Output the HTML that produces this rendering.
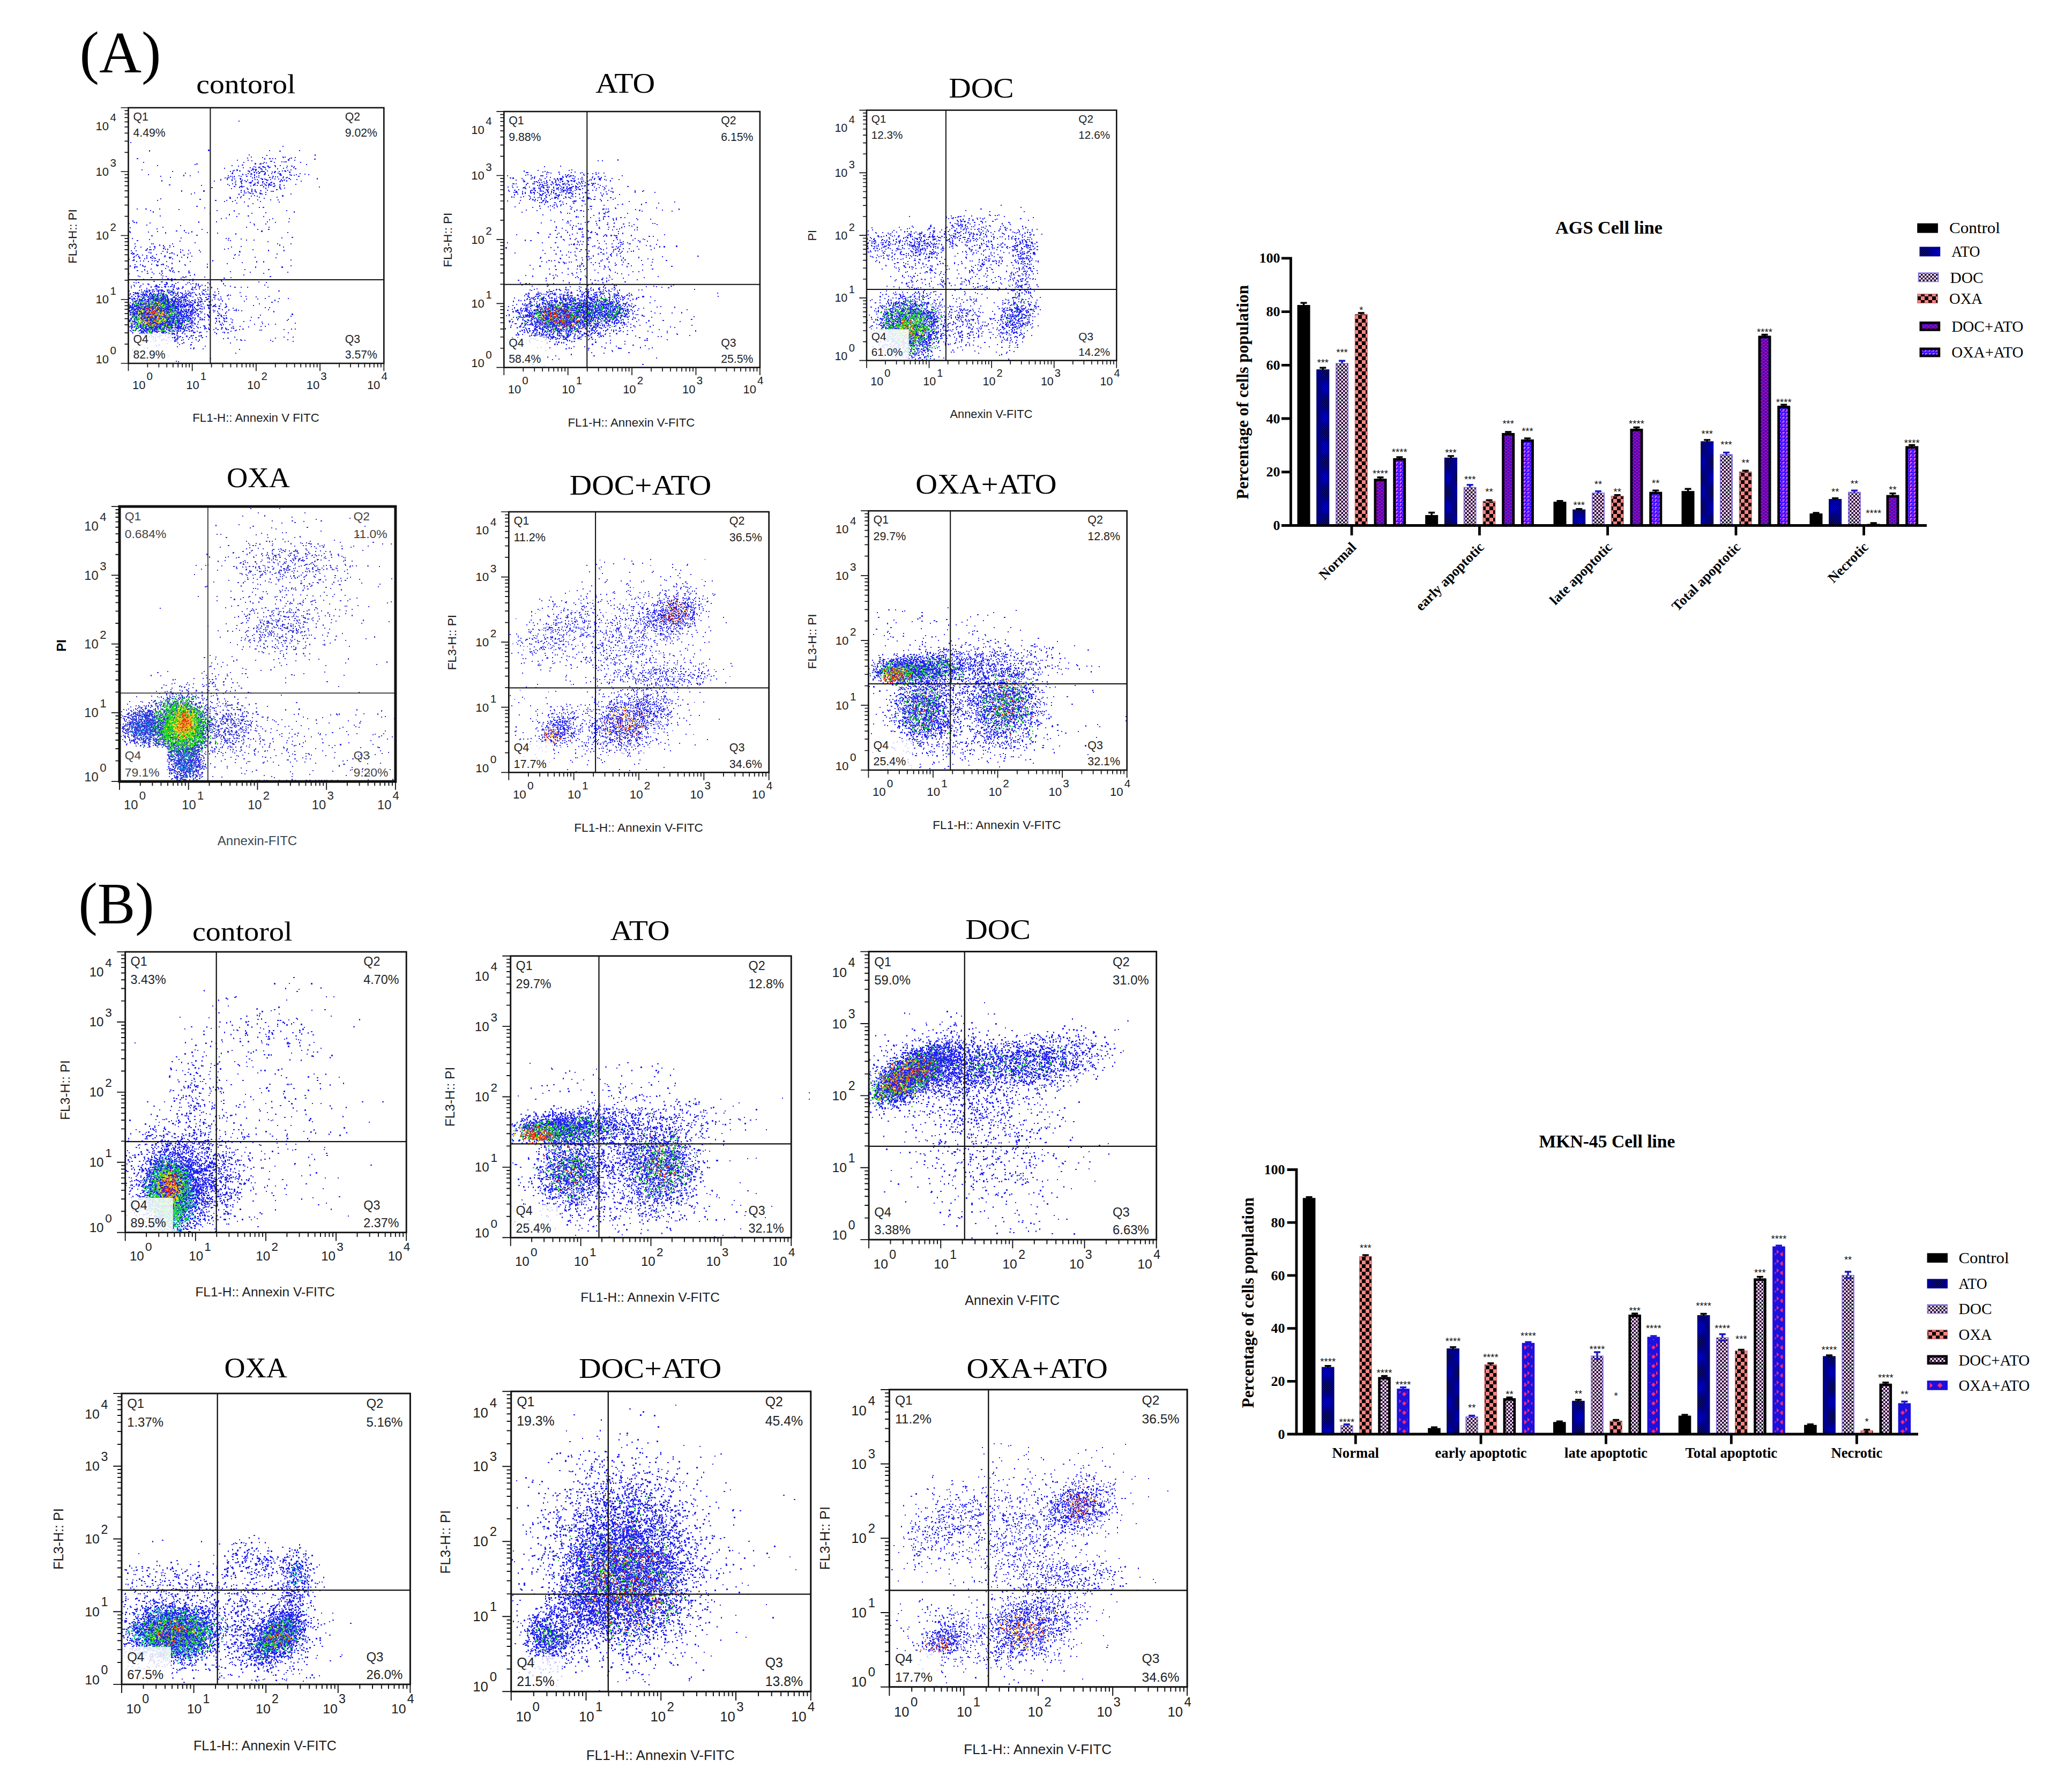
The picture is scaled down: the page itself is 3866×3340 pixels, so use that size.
<!DOCTYPE html>
<html><head><meta charset="utf-8"><title>Figure</title>
<style>html,body{margin:0;padding:0;background:#fff}svg{display:block}</style></head>
<body><svg width="3866" height="3340" viewBox="0 0 3866 3340">
<rect width="3866" height="3340" fill="#fff"/>
<defs><path vector-effect="non-scaling-stroke" fill="none" stroke-linecap="square" shape-rendering="crispEdges" id="g0" d="M-169 -174h0m158 92h0m-34-14h0m-17 22h0m39 42h0m-11 21h0m-59-10h0m4-26h0m-112 15h0m135 204h0m-101-86h0m86-62h0m29 98h0m26-71h0m89-26h0m-24-6h0m12 31h0m-20-11h0m25 81h0m55-78h0m-7-17h0m-99 106h0m26-136h0m21-59h0m-9-85h0"/>
<path vector-effect="non-scaling-stroke" fill="none" stroke-linecap="square" shape-rendering="crispEdges" id="g1" d="M-190 -252h0m145 126h0m2 89h0m28 7h0m-51-11h0m-31-12h0m-41 40h0m-59-50h0m66 224h0m-26-33h0m11-45h0m0-59h0m34 0h0m33 39h0m-33 35h0m24-3h0m45-29h0m25 36h0m17-10h0m-33-53h0m16-11h0m53-14h0m22-14h0m-17 24h0m12 31h0m-27-12h0m-10 15h0m-3 57h0m20-50h0m35 30h0m46-9h0m-17-33h0m-20 4h0m28-54h0m6 13h0m34 42h0m15 4h0m-15-26h0m57-4h0m-61-135h0m7 59h0m-97 38h0m5-9h0m7-46h0m-26-13h0m90-53h0m-42-54h0m-72 51h0m172-126h0m-55 53h0"/>
<path vector-effect="non-scaling-stroke" fill="none" stroke-linecap="square" shape-rendering="crispEdges" id="g2" d="M-153 -151h0m89-43h0m-39 47h0m18 63h0m-5 7h0m50-20h0m20-29h0m10 66h0m-20 13h0m27 27h0m-16 17h0m-4-3h0m-32-4h0m-36 1h0m-11-27h0m-21 35h0m-30-11h0m-17-23h0m5-25h0m9-4h0m16-3h0m-48-41h0m-35 20h0m-7 49h0m-43-10h0m264 202h0m-80 3h0m-108-15h0m12-59h0m-11 25h0m2-4h0m-42-70h0m118 3h0m44 66h0m7-14h0m-26-19h0m37 38h0m50-3h0m-1-9h0m6-12h0m-6-31h0m-27 10h0m-25-39h0m44-4h0m27-7h0m17 6h0m11 23h0m22 7h0m-49 23h0m9-7h0m7 19h0m-28-2h0m17 38h0m35-19h0m3-10h0m22-15h0m23 4h0m26-4h0m-60-42h0m13-19h0m9-4h0m79 33h0m11-39h0m64 32h0m-31 68h0m-79-38h0m0 115h0m16-20h0m-35-12h0m-28 0h0m4-18h0m-13 28h0m-69-26h0m39 109h0m220-128h0m8-229h0m-125 13h0m-3 8h0m42 82h0m-44-6h0m-3-8h0m-43 8h0m6-11h0m-13-28h0m-20 29h0m19 1h0m-62-19h0m-1-6h0m4-9h0m29-35h0m-29 26h0m-32-44h0m17-4h0m84 1h0m8-28h0m-41-4h0m-23-59h0m149 32h0m-85-92h0m-45 9h0"/>
<path vector-effect="non-scaling-stroke" fill="none" stroke-linecap="square" shape-rendering="crispEdges" id="g3" d="M-38 -344h0m21 72h0m-91 9h0m-43 101h0m27-48h0m11 12h0m69-3h0m25 19h0m-4 40h0m-15 5h0m-25-3h0m-9 5h0m-30-1h0m-17 1h0m18 18h0m-5 9h0m93-18h0m1 17h0m8 24h0m-2 9h0m-3 9h0m-38-3h0m10-4h0m-13-10h0m-2 17h0m25 6h0m2 30h0m5 0h0m14 0h0m5 6h0m-11 16h0m10 8h0m-12-6h0m-51 3h0m-3 2h0m-5-10h0m-21-23h0m-11-28h0m-6 51h0m-13 10h0m-17-1h0m10-17h0m-19-1h0m-40 16h0m59-46h0m-52-56h0m-6 18h0m-27 14h0m195 330h0m-31-27h0m4-71h0m-29 18h0m-27-17h0m35 79h0m-109-93h0m3 35h0m-15-173h0m40 14h0m0-18h0m33 17h0m19-15h0m28-3h0m-5 24h0m-12 1h0m6 0h0m-9-10h0m22 21h0m-8 15h0m8 5h0m3 6h0m-39 0h0m-18-29h0m54 47h0m-25-7h0m5-10h0m19 8h0m6-8h0m29 23h0m-21 2h0m20 16h0m5 2h0m13-16h0m-15-12h0m8-10h0m9 4h0m5 2h0m8-15h0m-4-8h0m-18-15h0m-30 9h0m2-29h0m3-6h0m-15-9h0m1-2h0m41 2h0m11 14h0m4 15h0m2 0h0m-2-11h0m-1-19h0m12 6h0m-4 11h0m3 7h0m1 1h0m16-1h0m9 0h0m-8-19h0m29 12h0m-4 20h0m-1-1h0m8 18h0m-7 6h0m-17-9h0m-14-11h0m-15 38h0m5-2h0m2-2h0m10 27h0m25 3h0m-6 8h0m24-22h0m1-11h0m2-10h0m-5 1h0m20 23h0m-1 1h0m8-41h0m-15-19h0m23 2h0m-20-8h0m2 2h0m-11-10h0m14-19h0m20-1h0m12 11h0m6-9h0m38 29h0m15 11h0m14 9h0m-16-50h0m-2 95h0m5 2h0m12-18h0m-34-10h0m2 45h0m2-3h0m-60 102h0m-60-87h0m-2 38h0m-5 57h0m0-11h0m32-2h0m3 24h0m-51 26h0m53 3h0m217-450h0m-47 155h0m-66-92h0m-29 2h0m4 52h0m-2 33h0m12-1h0m-2-19h0m37 2h0m-53 54h0m-9-21h0m-6-24h0m-37 9h0m-14-11h0m18 32h0m-8 4h0m-3-1h0m-17 8h0m-6-5h0m-2-4h0m2-2h0m-8-3h0m4-4h0m-32 8h0m12-28h0m18-10h0m7 12h0m-21-25h0m-26-17h0m-5-20h0m45 6h0m6-11h0m34 32h0m5 7h0m19-19h0m9-14h0m-16-6h0m-12-67h0m-41 16h0m-1 2h0m-46 13h0m13 6h0m-15-8h0m63-30h0m49-62h0"/>
<path vector-effect="non-scaling-stroke" fill="none" stroke-linecap="square" shape-rendering="crispEdges" id="g4" d="M-139 -170h0m-45-51h0m43-18h0m37 33h0m9-5h0m86-29h0m5 26h0m2 20h0m-34-9h0m2-8h0m-30 24h0m8 3h0m-1 18h0m36-17h0m3 11h0m-10 35h0m-25-17h0m3 21h0m-36-7h0m21-42h0m-26-10h0m-6 27h0m-7-20h0m4 39h0m-16 15h0m-8-8h0m19 27h0m-4 9h0m-18 27h0m13-3h0m12 5h0m21-6h0m2 9h0m5 0h0m9 3h0m-4-5h0m3-13h0m-3 1h0m-6 3h0m-18-26h0m52-2h0m4-2h0m26 6h0m5-4h0m3-2h0m-24 7h0m25 16h0m-3 23h0m-4-1h0m-10-9h0m-32-4h0m-11 9h0m2 10h0m4 0h0m4 6h0m-5 19h0m18-19h0m-3-8h0m14 5h0m2 14h0m-2 10h0m1 3h0m26 0h0m-11 14h0m0 4h0m-17 11h0m-4 0h0m-16-13h0m-10 7h0m-13 5h0m4-13h0m-12 14h0m-8-1h0m14-24h0m-4-10h0m0-5h0m8-14h0m-18 17h0m2 4h0m-15 0h0m3 24h0m1 9h0m-18-6h0m-28 2h0m1-5h0m-27-16h0m7-5h0m-2-1h0m10-8h0m5-34h0m14-35h0m-46 10h0m-12 51h0m-19 32h0m-13 14h0m-1-27h0m-45 19h0m0 28h0m255 222h0m5-66h0m-1-15h0m8-23h0m-10 8h0m-18 12h0m-22-25h0m-31 13h0m-4-15h0m-19 27h0m-1-24h0m-12 9h0m6 6h0m10 23h0m17 62h0m-40 18h0m-9-1h0m-111-58h0m42-60h0m50 31h0m5-18h0m-9-34h0m5-12h0m12 8h0m11 1h0m-4-13h0m0-19h0m5-8h0m-28 1h0m-5 18h0m-28-7h0m20 37h0m-78-102h0m72-3h0m-5 19h0m-5 7h0m40 26h0m31-56h0m-9 19h0m0 1h0m53-21h0m-9 12h0m13 27h0m-13 14h0m-30 2h0m6-10h0m8 1h0m-3-16h0m-27 27h0m12 2h0m16 13h0m14 37h0m21-33h0m-11 4h0m-6 1h0m8-12h0m15-9h0m7 7h0m10-4h0m9 5h0m-10 3h0m3 10h0m-4 9h0m-5 24h0m9 8h0m3-19h0m22-8h0m-16-21h0m16-11h0m0 6h0m10-1h0m1-31h0m-27 4h0m5 16h0m-5-5h0m-12-7h0m-4 13h0m-11-13h0m4 4h0m0-11h0m-10 2h0m3-4h0m-2-7h0m30 13h0m-24-18h0m-1-7h0m-3-6h0m6-5h0m-3 3h0m11-6h0m14-4h0m-2-2h0m14 25h0m1-10h0m18-11h0m5 22h0m11-10h0m6-1h0m9-12h0m6 3h0m27 7h0m-6-3h0m-13 6h0m-6 9h0m10 17h0m-2-11h0m8 9h0m-5 11h0m6 0h0m-11-1h0m-10-4h0m-16 1h0m-16-12h0m6 10h0m-2 8h0m-3 2h0m-1 18h0m29 4h0m-9-4h0m-1 0h0m-1 19h0m-18-5h0m9 14h0m1 8h0m0 2h0m15-9h0m-6-5h0m27 8h0m5-13h0m-19-5h0m17-24h0m23 12h0m5 2h0m12-6h0m2 8h0m-6 25h0m33 20h0m-1-45h0m-8 10h0m-5-13h0m-8-11h0m21 7h0m4-20h0m2-21h0m-6 1h0m-10 0h0m-17 25h0m-6 1h0m-6-1h0m-5-1h0m11-21h0m-4-16h0m-1 5h0m-4-16h0m-11-7h0m2-2h0m22 5h0m5-4h0m10 7h0m-3 11h0m21 10h0m2-3h0m2-15h0m0-2h0m-10-7h0m28 7h0m-7 10h0m-2 4h0m20 16h0m7 22h0m-2-59h0m8 1h0m25 4h0m-1 0h0m23 0h0m31 10h0m-46 45h0m-6 40h0m-10-22h0m-8-15h0m-22 20h0m2 90h0m24-33h0m25 10h0m2 48h0m42-9h0m-125 7h0m-20-16h0m15-13h0m1-24h0m-12 13h0m-22-6h0m7-5h0m-13-16h0m-45 44h0m19-18h0m-4-13h0m10-12h0m-13 1h0m-4-4h0m-10 6h0m5 11h0m-17-16h0m5 31h0m-8 10h0m-16 44h0m13 2h0m24 37h0m59 10h0m141-332h0m16-28h0m-49-28h0m-29 38h0m-32-13h0m1-2h0m-12 64h0m16-27h0m10 38h0m17 7h0m-47-4h0m1 14h0m-16-19h0m-2-17h0m1-1h0m-27 4h0m2-3h0m0-14h0m-24-3h0m-1 12h0m4 12h0m0 22h0m-2 0h0m-14-1h0m5-12h0m-5-2h0m0 10h0m-19-7h0m5 17h0m7-6h0m1 13h0m-25-13h0m-1 1h0m-3 0h0m4 7h0m-8-4h0m-12-16h0m2-1h0m25-4h0m-2-10h0m-18 3h0m-6-19h0m20 8h0m4-4h0m1 2h0m3-3h0m-6-1h0m23-7h0m8 15h0m-7-41h0m-1 9h0m0-15h0m-8 22h0m6 4h0m-13 1h0m-9-6h0m-7 6h0m-13 1h0m14-30h0m12-20h0m6-3h0m23 14h0m33-14h0m-8 9h0m-10 31h0m22-2h0m-6-8h0m7 22h0m19-10h0m8 8h0m-2-55h0m-16-23h0m14-38h0m-30-4h0m-12 24h0m-1 13h0m-24 22h0m0-4h0m1-19h0m-21 0h0m1 0h0m-14 25h0m-16-14h0m20-9h0m-8-20h0m30-13h0m10-38h0m33-22h0m133 48h0m1-56h0m-14-7h0m-187-14h0"/>
<path vector-effect="non-scaling-stroke" fill="none" stroke-linecap="square" shape-rendering="crispEdges" id="g5" d="M-104 -264h0m-93 135h0m-6-23h0m40-16h0m-15 25h0m33 13h0m15-19h0m-17-32h0m-12-13h0m-17-38h0m88 29h0m62-53h0m7 14h0m2 17h0m-26 23h0m-11 23h0m1 6h0m12 8h0m-4-27h0m32 4h0m10 0h0m-9 24h0m-4 7h0m-24 13h0m-15 9h0m-24-9h0m-17-4h0m17-21h0m12 0h0m-27 7h0m-15 48h0m-10 12h0m-2-3h0m3 11h0m14 0h0m18 3h0m-5 17h0m0 9h0m6-8h0m9-6h0m5 3h0m-6-24h0m-16 1h0m-2-6h0m34-18h0m7 8h0m0 6h0m7 11h0m10-5h0m-8-24h0m16 3h0m10-1h0m11 6h0m4 21h0m-7-4h0m-13 5h0m-4-5h0m-2 19h0m10 2h0m0-10h0m8 9h0m-2 0h0m-2 3h0m0 4h0m2 2h0m10-4h0m-10 8h0m-6 2h0m-4-5h0m3-3h0m-14 7h0m0-4h0m-3 2h0m-9-8h0m-1-2h0m9 1h0m2 3h0m-2-6h0m5-12h0m-5 3h0m-4 1h0m-5 3h0m7 0h0m-14-9h0m-5 14h0m6 2h0m3 13h0m-9-2h0m-1-1h0m-3 0h0m14 9h0m-5 9h0m-8 8h0m9 1h0m13-5h0m-3 2h0m6 6h0m-2-13h0m-3-1h0m-1-8h0m11 4h0m-1-2h0m5-3h0m6 8h0m2-8h0m5-1h0m3 0h0m6 0h0m6 4h0m-13 15h0m9 3h0m-1 9h0m-12-7h0m-1 18h0m9-4h0m5-3h0m-2 15h0m4-1h0m2 8h0m-11 4h0m-8 1h0m0-3h0m-5-11h0m-12 9h0m-11 3h0m12-16h0m-1-1h0m2-1h0m2-2h0m-3-4h0m-10 9h0m-3-5h0m-11 2h0m5 10h0m-17 10h0m-1-8h0m-2-5h0m2 13h0m-23-19h0m23 0h0m2-8h0m0-3h0m-1-3h0m-4 1h0m-3-2h0m2 0h0m8-15h0m-3-2h0m-4-8h0m1 8h0m-7-5h0m-8-5h0m-4 18h0m2-1h0m11 0h0m-4 10h0m-7-4h0m-17-1h0m1-6h0m0-9h0m-20-1h0m7 23h0m0 16h0m5-1h0m19-13h0m-11 22h0m2-4h0m2 4h0m-9-6h0m-7 3h0m2 4h0m-5-1h0m-2 0h0m-11-13h0m7-9h0m-57 18h0m2-12h0m3-9h0m12-24h0m-3 5h0m11 4h0m2-14h0m9 15h0m12-1h0m7-12h0m-10-30h0m4-26h0m-22-2h0m-8 12h0m-4-19h0m-11 28h0m-5-3h0m3 10h0m-5 21h0m-31-55h0m-27 82h0m12 9h0m16-25h0m16 58h0m-132-65h0m-12-19h0m88-57h0m-12-35h0m-13 252h0m25 37h0m-11 97h0m137 60h0m37 39h0m32-18h0m57-31h0m-56-60h0m43 20h0m19-34h0m-21-14h0m17-3h0m-9-23h0m10-7h0m-2-8h0m-4 0h0m-21 15h0m-7 4h0m-11-12h0m-15-3h0m3 17h0m8-6h0m4 21h0m-7-5h0m-18 30h0m-9-2h0m6-41h0m9-5h0m-28-14h0m4 15h0m0 16h0m-15-24h0m-4-1h0m-4 39h0m-4 16h0m22 4h0m7 4h0m5 0h0m-22 48h0m-37-49h0m-48 58h0m-10-23h0m-33-100h0m46 14h0m9 31h0m41-48h0m10 10h0m-3-22h0m-17-23h0m-29-27h0m-7 8h0m4 14h0m-8 3h0m26 25h0m-26 4h0m-8-22h0m-51-6h0m41-57h0m-18 22h0m-9 6h0m-22-60h0m12 4h0m34 12h0m33 5h0m0-7h0m25 43h0m13 0h0m0-4h0m10-4h0m-1-1h0m-9-16h0m10-9h0m-3-6h0m-12 2h0m-14 5h0m31-25h0m9 2h0m0 1h0m-9 4h0m5 22h0m14-5h0m0-26h0m13 11h0m14 1h0m15 3h0m-11 8h0m-10 4h0m-7 4h0m5 3h0m18 18h0m5 7h0m-5 2h0m-35 1h0m-2-10h0m0-4h0m4-16h0m-2 1h0m-2 10h0m-5-3h0m-4 22h0m-8 15h0m4 2h0m14-9h0m8-1h0m-5 6h0m6 6h0m-1 6h0m0 2h0m-24 24h0m20-7h0m-6 0h0m-1-9h0m17 0h0m5 0h0m4 1h0m0 7h0m-10 4h0m4 11h0m23-1h0m-4-26h0m-5-3h0m-10 3h0m-5 2h0m11-28h0m5-3h0m12 2h0m30 1h0m-24 24h0m-2 10h0m9-2h0m-1 1h0m13 24h0m-6-28h0m10 3h0m6-1h0m7 2h0m-10 4h0m14 12h0m8 9h0m1-19h0m-5 5h0m2-9h0m8-9h0m-15-5h0m-14 5h0m5-12h0m9-8h0m-10-4h0m1-3h0m17 1h0m7 0h0m-6-5h0m0-12h0m7 1h0m1-6h0m-7-2h0m5-5h0m-8-3h0m-7-1h0m-6 1h0m3 4h0m-8 7h0m-3-2h0m1 4h0m11 2h0m-10 7h0m-10-7h0m-4 2h0m-1 8h0m-8 2h0m0-10h0m2 3h0m-6-20h0m3 4h0m13-1h0m-7 0h0m8 6h0m0 2h0m0-22h0m7 3h0m0-6h0m-10-1h0m-3-4h0m1 14h0m-2 0h0m-13-6h0m1 2h0m3-7h0m5-3h0m-7-7h0m-2-2h0m11-7h0m8 13h0m6-10h0m17-2h0m-12 20h0m9 1h0m-2-5h0m13 1h0m3 11h0m6-1h0m0-6h0m-6-1h0m-7-8h0m5-2h0m-7-7h0m13 0h0m7 1h0m6-5h0m5 6h0m-2 0h0m-4 4h0m4 4h0m-3 0h0m-8 13h0m-2 3h0m2-1h0m3-1h0m6-3h0m2-4h0m5 3h0m2 7h0m8-15h0m-4-1h0m-8-2h0m12-6h0m3-5h0m13 6h0m10-1h0m-1 2h0m-4 3h0m0 2h0m4 5h0m1-3h0m5 6h0m-4 8h0m-17-10h0m0 17h0m4 3h0m8-5h0m-1 1h0m6 9h0m-7-3h0m4 6h0m10 6h0m-8 5h0m-11 4h0m-6-13h0m-2 7h0m-11 2h0m0 2h0m-5-1h0m12-14h0m-13-14h0m1 10h0m-3 5h0m-2-7h0m-3-5h0m-5-1h0m-5 21h0m3 0h0m6-1h0m-7 8h0m0 11h0m3 1h0m6 1h0m-4-8h0m21 9h0m-10 6h0m-14 8h0m-1 9h0m4-3h0m-8 9h0m21 13h0m6 9h0m4-27h0m7 2h0m4-4h0m-2 26h0m7-9h0m3 2h0m7-16h0m-11-18h0m-4-6h0m-8 1h0m4-9h0m2-1h0m6 3h0m0-2h0m-2-3h0m7 9h0m18-8h0m21 6h0m1 5h0m-7 1h0m-14 5h0m0-4h0m8 24h0m2-1h0m1-3h0m31 13h0m3-4h0m12-7h0m-16-14h0m-13 4h0m2-11h0m7-15h0m19 9h0m-6-28h0m2-3h0m-7-12h0m-1 8h0m-4 4h0m-13-7h0m8 11h0m-26 8h0m-4 1h0m-5-3h0m-2-6h0m11-7h0m-13 3h0m18-10h0m8 4h0m-4-4h0m-4-13h0m-9 9h0m-3-8h0m-8-11h0m14-10h0m7 1h0m8 5h0m6 2h0m22-5h0m10 1h0m3 10h0m0-2h0m18-8h0m-8 8h0m4 15h0m-16-7h0m3 19h0m-3 18h0m14-6h0m18 1h0m19-3h0m-13-20h0m-4-29h0m36 8h0m18 4h0m3 38h0m-25 20h0m1 3h0m52 26h0m-75 27h0m-4-21h0m16-30h0m-25 10h0m-9 9h0m-17-15h0m14 33h0m-13 2h0m-2-1h0m-2 17h0m18-2h0m36 51h0m-3-7h0m-20-27h0m8 2h0m15-16h0m21 50h0m-2-7h0m-143 62h0m36-65h0m10-6h0m14-6h0m-14-19h0m-12-10h0m-12 22h0m-4-9h0m13-11h0m-8-3h0m-7-1h0m-8 1h0m-6 7h0m0 4h0m7 14h0m1 19h0m2-6h0m11-4h0m-1 11h0m-35-16h0m-3-9h0m3-3h0m5-16h0m-37-2h0m4 7h0m-9 4h0m3 36h0m28 31h0m7-6h0m3 14h0m-12 14h0m14 27h0m241-192h0m6-26h0m-2-104h0m-74 63h0m-13-36h0m10-22h0m-47-22h0m-2-17h0m2-24h0m-41 26h0m8 4h0m6 11h0m-12 18h0m1 8h0m-9 2h0m1 7h0m3 15h0m23-8h0m7-18h0m-4 3h0m9 23h0m17 6h0m-2 2h0m-25 16h0m6 1h0m-11-20h0m-15 1h0m-12 11h0m-11 3h0m-4-1h0m-16 12h0m16-24h0m12-6h0m-9-1h0m-4 0h0m4-30h0m-1 5h0m-5 4h0m-14-7h0m13 28h0m-10-2h0m-10 0h0m-5 0h0m2-2h0m-5-8h0m14-8h0m-30 5h0m13 5h0m-12 13h0m-1 13h0m13-8h0m4 10h0m10 13h0m-20-3h0m-2-9h0m-9-18h0m-3 2h0m-11 7h0m-2-4h0m-11 24h0m-8 2h0m0-2h0m-10-2h0m2 3h0m-12-5h0m-4-23h0m6 4h0m8 0h0m4 8h0m0-4h0m7 1h0m0 4h0m4-3h0m-4-25h0m-6-2h0m-4 10h0m5-1h0m-9 5h0m-7-1h0m-1-9h0m-5 1h0m2-1h0m1-4h0m1 1h0m4-8h0m-6 5h0m1-8h0m11 0h0m6 2h0m16 18h0m5-11h0m8 14h0m11-3h0m-12-19h0m7-1h0m-1-1h0m-1-18h0m-5 0h0m8-7h0m-1-5h0m-23 2h0m3 0h0m-1 2h0m0 6h0m6 0h0m5 7h0m-16 3h0m0-8h0m-19 4h0m3-1h0m1-12h0m-3-3h0m4-2h0m-1-4h0m10-8h0m5-5h0m-10 3h0m-15 6h0m3-15h0m33-2h0m-5 10h0m6 8h0m11-12h0m-2 7h0m10-4h0m-10-16h0m-2 0h0m25 6h0m4-2h0m6 10h0m-10-3h0m-4-1h0m0 2h0m-4 7h0m7 8h0m5 9h0m-3 8h0m6 10h0m11-12h0m-3-8h0m1-5h0m18 3h0m-10 10h0m10 2h0m9 4h0m5 9h0m5-5h0m-5-24h0m-1-15h0m-24 11h0m5-3h0m7-15h0m4 3h0m8-11h0m-12-22h0m-11 0h0m9-13h0m-7-28h0m7 22h0m3-3h0m-25-23h0m-3 8h0m-4 5h0m-1-8h0m-1-4h0m2 32h0m10 9h0m-7 5h0m-14 2h0m-30-11h0m-2 0h0m2 19h0m-23 2h0m-5-11h0m13-27h0m-19-16h0m17-2h0m26-1h0m12-6h0m-23-24h0m9 20h0m-36-38h0m69 44h0m-2-15h0m34-1h0m0-25h0m72 31h0m-51 15h0m11 32h0m7 22h0m52-1h0m14-110h0m-82-30h0m-92 2h0"/>
<path vector-effect="non-scaling-stroke" fill="none" stroke-linecap="square" shape-rendering="crispEdges" id="g6" d="M-64 -296h0m26 36h0m-84-35h0m-102 29h0m-17 137h0m16-28h0m12 5h0m-5-20h0m45 42h0m5-3h0m5-2h0m1-7h0m14-5h0m15-32h0m-28-27h0m39-37h0m25 0h0m-27 9h0m-1 5h0m33 20h0m7 16h0m17-40h0m-16-13h0m11-4h0m-6 1h0m26 2h0m-7 13h0m37-9h0m9 17h0m8 22h0m4 6h0m-22 5h0m-34-30h0m-5 0h0m13 17h0m-7 41h0m17-2h0m6 4h0m-5-8h0m-8-8h0m28 2h0m11-8h0m4 18h0m-19 1h0m-7 2h0m-2 5h0m5 2h0m10-2h0m10 0h0m0 1h0m2 29h0m-12-1h0m-1-14h0m-7 5h0m-12 3h0m-2 4h0m1-16h0m1-9h0m0 4h0m-17-2h0m-8 10h0m1 3h0m2 1h0m10 0h0m-15 11h0m-5-3h0m0-8h0m-5 1h0m-2 7h0m-12-13h0m-8-8h0m12-4h0m4-7h0m2-13h0m-4 1h0m-9 11h0m-7 3h0m-7-11h0m1 5h0m0-19h0m-18 23h0m7 15h0m6-6h0m2 12h0m-6 12h0m-13-9h0m3 9h0m13 9h0m7 5h0m5 0h0m-4 4h0m0-2h0m-8-1h0m0 8h0m11 8h0m-14-3h0m-13 15h0m11 0h0m-12 8h0m4 2h0m11 12h0m7-1h0m3-4h0m5-13h0m9-9h0m5 1h0m1 1h0m-2 2h0m-12 19h0m9 3h0m6-12h0m1 0h0m14 8h0m-5-16h0m-5 2h0m4-8h0m4-5h0m-1 0h0m2-11h0m-1 1h0m-4-3h0m-3 6h0m2-5h0m-21 13h0m5-13h0m-1-6h0m0-6h0m5-1h0m4 2h0m4-4h0m12 12h0m13-3h0m-3 4h0m-1 11h0m3-3h0m13 4h0m7-2h0m-2-3h0m-5 0h0m4-9h0m-11 1h0m1-11h0m-2-1h0m8 0h0m14 6h0m7-5h0m12 1h0m-7 19h0m3 7h0m-17-8h0m0-5h0m8 21h0m8-1h0m3-3h0m-7 11h0m1 4h0m4 3h0m0-2h0m-1-1h0m10 6h0m-6 2h0m3 2h0m1 3h0m-3-2h0m-2 2h0m-3-2h0m2-3h0m-5 0h0m-12-2h0m0 1h0m-12 1h0m0-1h0m-2 6h0m-5-1h0m0-5h0m11-20h0m1-3h0m-2 2h0m-19 12h0m-1-4h0m4-8h0m-5 11h0m-3 0h0m-3 8h0m0 8h0m0 9h0m1-1h0m1 1h0m4 0h0m6-6h0m-2 6h0m4 2h0m-15 1h0m1 11h0m-1 8h0m4-2h0m4 2h0m4-1h0m3-8h0m-3 0h0m1-4h0m5 2h0m4 1h0m-5 5h0m11 4h0m0-1h0m3-6h0m-1-6h0m1-5h0m0-1h0m-7 0h0m2 5h0m-2-9h0m5 0h0m2 0h0m-1-3h0m-1 0h0m4 11h0m6-1h0m-2-1h0m6-1h0m-2 1h0m6-7h0m13-1h0m2 7h0m-1 1h0m-2 1h0m-5 4h0m2 0h0m6 3h0m-3 2h0m-1-1h0m1 5h0m0 6h0m-7-2h0m3 0h0m-3-2h0m-11 0h0m2-7h0m-6 5h0m0 14h0m-2 4h0m9 4h0m0-7h0m2-3h0m4-3h0m9 6h0m4 2h0m-10-2h0m10 18h0m-9 1h0m-2-1h0m-2-2h0m-13-6h0m-21 7h0m6-9h0m7-16h0m-12 1h0m5 7h0m0 3h0m-10 1h0m1 3h0m-3-4h0m4-11h0m-10 7h0m3-2h0m-7-4h0m1 2h0m0 3h0m-1 4h0m7 13h0m3 3h0m4 4h0m-6-1h0m-1 0h0m0-2h0m-5-1h0m1 2h0m-18-12h0m-4 12h0m1-4h0m-5 3h0m-9 1h0m2-9h0m6 4h0m4-3h0m1 3h0m2-6h0m-7-7h0m1 4h0m-7-4h0m0-3h0m-1-3h0m1-2h0m11 4h0m3 3h0m2 4h0m10 2h0m-3-12h0m-2-4h0m-3-10h0m4 0h0m6-7h0m1-8h0m-22 7h0m-3-7h0m-2-5h0m-2 9h0m0-2h0m4 1h0m7 7h0m2 12h0m0 1h0m-15 1h0m-9 1h0m-5-13h0m13-4h0m-6-8h0m-6 7h0m-5-7h0m-14 14h0m9 20h0m-1-5h0m15 4h0m8-6h0m-3 2h0m0 8h0m-9 7h0m2 3h0m3-2h0m6 3h0m-6 3h0m7 0h0m-7 4h0m-3-5h0m-11 1h0m2-1h0m2-5h0m-25 11h0m6-8h0m2-8h0m-1-12h0m-2 5h0m-6-4h0m-2 1h0m-7 7h0m0-1h0m-3-9h0m-7 27h0m-17-4h0m5 6h0m-19-2h0m7-23h0m9-37h0m3 3h0m-3 5h0m0 4h0m7-4h0m21-4h0m-8 9h0m-6-5h0m0 4h0m3 19h0m27-11h0m-9-5h0m0-5h0m-5-3h0m14-7h0m-9-16h0m1 15h0m-8-4h0m-7 1h0m-3-9h0m3-18h0m24-21h0m-20 3h0m4 14h0m-4-1h0m-9 1h0m-2 1h0m-3-17h0m-23 18h0m19 12h0m2 4h0m-49 10h0m19-26h0m-10-21h0m-24 62h0m34 53h0m-15 1h0m-4-1h0m-18-13h0m-2-2h0m-9 0h0m-67 33h0m10 40h0m8-16h0m29 53h0m-30 23h0m246 158h0m10-51h0m-3-1h0m-4 1h0m-7-10h0m28-7h0m-3 1h0m-2 4h0m18 7h0m8-26h0m-3-3h0m-3-5h0m-6-6h0m-13 12h0m-2 2h0m3-15h0m5-4h0m-4-3h0m-7-7h0m22 2h0m0 3h0m-5-10h0m7-9h0m-3-11h0m-11 5h0m-26 11h0m7-1h0m-11-20h0m-3-3h0m-4 11h0m-5 6h0m14 4h0m-27 39h0m-16-18h0m2-1h0m-3-3h0m2-6h0m22-8h0m4-25h0m-9 3h0m-2 12h0m-16-10h0m0 15h0m5-2h0m7 5h0m-30-5h0m9 2h0m3-4h0m0-7h0m2-5h0m-9-2h0m-11 23h0m-7 9h0m-4 32h0m46 57h0m-24-2h0m-27-11h0m4-35h0m-5-4h0m-45 8h0m1 6h0m-33-83h0m-4 8h0m2 0h0m14 4h0m35 11h0m-24 22h0m13 12h0m11-26h0m10 2h0m9 7h0m-2 3h0m-11 13h0m14 3h0m12-20h0m-12-1h0m3-5h0m2-2h0m3 5h0m-4-15h0m-1-22h0m3 14h0m6-10h0m-4-23h0m5-6h0m2 0h0m-16-38h0m-13 0h0m3 29h0m-7-4h0m-6-2h0m4-23h0m-12 1h0m1 2h0m-11 17h0m0 23h0m8-6h0m11-2h0m-9 12h0m-9 9h0m-12 0h0m-53-23h0m14-12h0m12-21h0m15 10h0m16-6h0m-54-27h0m7-22h0m6-11h0m16 0h0m19 9h0m23-6h0m15 5h0m-23 10h0m3 15h0m-11 11h0m11 5h0m-1-9h0m7 1h0m8 8h0m14-20h0m-1-2h0m-1-3h0m10 9h0m-13 11h0m0 8h0m6-5h0m6-1h0m8 2h0m1-19h0m-12-39h0m7 14h0m4 0h0m14-11h0m8 12h0m-11 16h0m14-5h0m-2-4h0m5 3h0m11-1h0m-2-4h0m2-1h0m2-7h0m-5-7h0m2 0h0m10-1h0m-6 3h0m7 6h0m-1-3h0m10-4h0m4-1h0m4-3h0m7 1h0m-1 2h0m1 6h0m0 1h0m-11-4h0m-1 2h0m6 9h0m2 5h0m3 4h0m-9 3h0m-9-6h0m-12 9h0m6 5h0m-3-2h0m2 3h0m2 0h0m3 4h0m3-2h0m2-1h0m4-6h0m12-1h0m-3 0h0m1 13h0m-9-7h0m-1 13h0m9 1h0m-1 5h0m-2 4h0m-7-2h0m-9-3h0m-5 1h0m-16 0h0m3-1h0m8-19h0m-9-2h0m1 0h0m-8-2h0m-10-3h0m-5 4h0m5 4h0m6 18h0m-4 5h0m-5 12h0m-2 1h0m8 0h0m5 0h0m0-11h0m8 0h0m6 11h0m-6-2h0m3 15h0m-19-2h0m-1 2h0m10 14h0m-8 24h0m5-5h0m2-7h0m9 2h0m1 4h0m8-10h0m-12-9h0m5-4h0m17 7h0m-8 7h0m-1 11h0m7 3h0m7-2h0m-4-12h0m14 2h0m0-14h0m0-18h0m0 4h0m-7-3h0m-4 9h0m-11 0h0m10-7h0m-9-12h0m0-1h0m18 7h0m2-6h0m1 0h0m0 5h0m4-6h0m2-6h0m9 4h0m-5 2h0m4 5h0m7-5h0m-3-5h0m14-3h0m0 4h0m3 5h0m3 12h0m-3 4h0m-7 5h0m-1-2h0m-10 3h0m0-7h0m3-2h0m-2-2h0m-8 0h0m1 20h0m-1 0h0m0 5h0m-1 4h0m2 5h0m0 2h0m0 3h0m18 3h0m9-20h0m-14 3h0m1-2h0m0-3h0m1-7h0m7-1h0m5 1h0m9 1h0m3-2h0m2 20h0m6-1h0m13 10h0m0-5h0m-3-8h0m-2-7h0m1 5h0m-5-10h0m9-4h0m-7-3h0m7-8h0m-4-5h0m-5 15h0m-1 0h0m-12-6h0m-6 5h0m-1-11h0m10-3h0m-4-7h0m2 5h0m-4-3h0m-4-4h0m10-1h0m1-4h0m9 3h0m-2 8h0m5-3h0m6 0h0m-1-1h0m-5-17h0m-3 3h0m1-2h0m1-9h0m6 7h0m-1-8h0m2-5h0m-4-7h0m-1 2h0m-5-1h0m-1-2h0m3 7h0m0 6h0m-14-5h0m-1-2h0m-3-4h0m-5 0h0m0 3h0m7 2h0m-2 4h0m-4 1h0m0 5h0m3 0h0m3-3h0m2 5h0m-12 7h0m0-6h0m0-6h0m-8 6h0m-14 9h0m-4-5h0m4-3h0m-1-3h0m9-18h0m6 3h0m0 9h0m7-4h0m1-9h0m2-4h0m-3-5h0m1 0h0m-5-5h0m-4 2h0m-2-2h0m2 7h0m-10 0h0m1-1h0m-6 4h0m-1-3h0m3-2h0m-7-8h0m13 5h0m2-8h0m-1-4h0m-4 0h0m-7-1h0m-3-7h0m11 6h0m1-2h0m9 4h0m8 5h0m6-7h0m2-5h0m8 0h0m-4 11h0m-9 4h0m12-1h0m0 3h0m9 1h0m-5 0h0m1 10h0m2 1h0m1-7h0m7 3h0m-3-14h0m-4-3h0m1 0h0m1-1h0m0-2h0m2-4h0m6-1h0m-1-1h0m0-1h0m5 6h0m11 0h0m-4-2h0m6 7h0m0 4h0m-4-3h0m-5 1h0m-4 0h0m4 8h0m-6 1h0m2 2h0m4 2h0m3 1h0m1 4h0m1-15h0m17 9h0m2-1h0m-1-3h0m-2-4h0m1 2h0m2-3h0m-14-9h0m15 0h0m-2-6h0m5 2h0m-1 5h0m6 6h0m-3-4h0m7 1h0m5-6h0m9 1h0m-4 6h0m-4 2h0m6 4h0m1 1h0m4-2h0m3 0h0m0 9h0m-16 3h0m-5-1h0m2-6h0m-9-6h0m-1 0h0m-1 4h0m2 6h0m1-2h0m0 2h0m2 2h0m-5 7h0m5 4h0m-6 5h0m13-5h0m10-4h0m1-2h0m2 4h0m-3 9h0m-5 2h0m-1 3h0m4 1h0m3-2h0m4-1h0m-2 8h0m-1 5h0m0 1h0m-5-2h0m-4-5h0m-5 1h0m4-9h0m-5 2h0m-3-2h0m-2 12h0m2 0h0m-14-2h0m-4-8h0m4 2h0m-1 2h0m4-3h0m3-3h0m-4-1h0m1-12h0m-2 1h0m1 0h0m-4 1h0m-4-3h0m-3 0h0m4 7h0m0 4h0m-6-4h0m-8-5h0m-6 6h0m7-1h0m-2 3h0m2 0h0m-7 2h0m15 4h0m-11 11h0m2-1h0m-4-2h0m0 9h0m5-1h0m-6 11h0m5 0h0m5-8h0m12-2h0m1-1h0m2 8h0m-5-2h0m-1 3h0m-1-1h0m-2 3h0m8 4h0m-1 2h0m-4 6h0m-12 6h0m7-13h0m-8 3h0m-5-3h0m-2 11h0m0 10h0m7-5h0m6 1h0m-2 7h0m2 1h0m-1 10h0m0-4h0m9 11h0m4-17h0m-3-2h0m-5-6h0m16-3h0m9 10h0m4-1h0m0 3h0m-7 19h0m1-13h0m9 2h0m5 4h0m4 4h0m0-10h0m5-8h0m-15-10h0m14 6h0m1-2h0m-4-11h0m-5-2h0m-9 5h0m-12-13h0m-1-6h0m3-4h0m10 1h0m0-6h0m13 12h0m3-8h0m-4-4h0m12 7h0m26-4h0m-5 2h0m-1 7h0m0 3h0m-6-3h0m4 5h0m-10 12h0m2-12h0m-2 0h0m-7 5h0m0 17h0m-6 3h0m3 21h0m6-6h0m5-4h0m9 4h0m-5-16h0m2-3h0m5-5h0m13 3h0m8-4h0m0 8h0m-4 11h0m19 5h0m-1-8h0m3-6h0m-6 2h0m4-27h0m-4 2h0m-3 0h0m-11 5h0m-6 2h0m5-9h0m4-7h0m-8 1h0m-6-6h0m27 8h0m1-13h0m-7-2h0m-1-10h0m-2 2h0m-1 0h0m2-10h0m-4-1h0m-10-4h0m-1-1h0m0-6h0m-3 18h0m13 1h0m-15 12h0m-1-3h0m-1 2h0m-3-1h0m-4-10h0m-3 10h0m-10-4h0m-7-2h0m7-2h0m-1 1h0m4-2h0m2-8h0m-12 3h0m1-2h0m1-3h0m0-3h0m-3-1h0m15 0h0m10 4h0m5 0h0m-3-9h0m-2-15h0m-9 9h0m1 0h0m-4-1h0m-5 2h0m-9 3h0m15-22h0m-7 0h0m-3 4h0m-2-1h0m-2-3h0m2-3h0m-2-2h0m7-2h0m5 5h0m10 8h0m1-7h0m1 7h0m2-12h0m19-3h0m-2 9h0m-1 6h0m-11-3h0m3 1h0m-3 1h0m2 5h0m7 10h0m6 2h0m0-14h0m6 4h0m-5 3h0m5 1h0m6-13h0m-9 1h0m-1-6h0m3-4h0m12-3h0m9 0h0m4 3h0m8 16h0m7 2h0m2 4h0m0 6h0m-7-4h0m-21 2h0m-1 18h0m3 10h0m10-6h0m2 1h0m1 2h0m7-10h0m8-9h0m4 3h0m6-5h0m10 15h0m4 1h0m-2-3h0m-17-18h0m4-17h0m10-9h0m1 3h0m-1 1h0m16-3h0m6-2h0m-6 17h0m3-2h0m1 0h0m10 5h0m8 8h0m26-10h0m-4 4h0m-10 1h0m-36 36h0m17 11h0m8 36h0m-5-10h0m-20 24h0m-2 3h0m-24-23h0m8-5h0m15 2h0m-12-32h0m-10 0h0m-14 26h0m-3-22h0m-4 3h0m3 1h0m-17 13h0m2 0h0m-7 5h0m2 5h0m8 11h0m10 6h0m6-1h0m-11 1h0m-13 11h0m8 12h0m20 10h0m-1 10h0m-26-8h0m7 21h0m38 17h0m9-13h0m-9-20h0m4-26h0m6 10h0m28 5h0m5 52h0m-63 1h0m-74 40h0m5 0h0m6-10h0m9-10h0m7-1h0m3-6h0m3 0h0m-16-45h0m-1-4h0m9 6h0m8-3h0m-1 5h0m0-33h0m-3 8h0m-11-7h0m-2 7h0m-9-12h0m-7-2h0m-1-1h0m-9 9h0m3 7h0m2 2h0m2 5h0m-3 8h0m-6 8h0m11 4h0m-1 15h0m-19 1h0m-12-2h0m-17 6h0m13-22h0m-9 5h0m2-11h0m21 6h0m-3-8h0m4-6h0m-4-2h0m-4-1h0m-2-4h0m7-2h0m-16-4h0m-1-4h0m4-5h0m-27 22h0m6-1h0m5-7h0m2-18h0m-10 5h0m-1 5h0m-9-11h0m-6 7h0m1-2h0m-1-5h0m-2 3h0m7 14h0m-4 18h0m-2 2h0m19 0h0m7-2h0m-11 11h0m1 2h0m4 15h0m-14-15h0m-7 2h0m-1 6h0m11 13h0m1 5h0m18 15h0m-1-18h0m6-2h0m-2 10h0m18-9h0m10 12h0m-13 22h0m-11 20h0m-24-21h0m-6-7h0m-7 4h0m9 40h0m11 26h0m278-283h0m-4-165h0m-21 83h0m32-21h0m23-31h0m-8 17h0m0 54h0m-97 39h0m15-2h0m-31 1h0m2-11h0m8-1h0m-20-16h0m4-19h0m18 7h0m1-9h0m29 10h0m-5-55h0m-36 6h0m0-10h0m4 40h0m-15-8h0m-12 11h0m-11 2h0m0-4h0m-15 4h0m8-7h0m-5-7h0m-2-5h0m25 1h0m-1-29h0m-13-14h0m-5 15h0m-4 14h0m-17-2h0m-2-7h0m-16-1h0m3 13h0m1 12h0m5-9h0m14-1h0m-3-1h0m4 24h0m2 1h0m-25 9h0m0 1h0m4 12h0m14 11h0m2-3h0m6-15h0m-11 6h0m9-13h0m0 2h0m14 11h0m16 14h0m-10 0h0m-4-3h0m1-7h0m-6 17h0m5-3h0m9 4h0m6 25h0m-3-3h0m-4 2h0m-33 1h0m6-5h0m2-2h0m3-17h0m-5-3h0m-4-3h0m1 7h0m-2 8h0m-2-3h0m-2-8h0m-1-4h0m0 26h0m-16-3h0m-10-2h0m-2 6h0m2-2h0m-7 0h0m-4-4h0m-6 2h0m1-2h0m8-2h0m-10-7h0m4-1h0m-4-4h0m23-5h0m0 1h0m5 10h0m-10-14h0m0-9h0m0-3h0m9-1h0m-1 4h0m-1-21h0m-8 3h0m3 4h0m0 1h0m1 6h0m-6-13h0m-12 7h0m3 4h0m-3 0h0m4 3h0m-1 11h0m-6-1h0m0 2h0m0 1h0m-13-3h0m4-4h0m2-7h0m-7-6h0m-9 1h0m3-7h0m-4-2h0m3 16h0m-7 9h0m-2 20h0m4 0h0m2-4h0m5 4h0m-1-3h0m0-10h0m9 5h0m7-1h0m0 2h0m-1 0h0m4 7h0m-9 1h0m-1 0h0m2-5h0m2 14h0m-1 6h0m-3-3h0m-15-5h0m-6-5h0m1 10h0m3 3h0m-1 1h0m-7-6h0m-3 4h0m-4-9h0m-4 3h0m9-4h0m-2 2h0m5 0h0m1-8h0m0-4h0m-15 6h0m-7-2h0m3-3h0m-11-5h0m2 3h0m3 5h0m2 2h0m-6 1h0m5 13h0m-9 0h0m-5 2h0m5-14h0m-6 3h0m-2-4h0m1 15h0m-2-1h0m-4 0h0m-2 1h0m-1-6h0m-6 2h0m-6-7h0m11-10h0m-6-2h0m-6-3h0m2-4h0m2 2h0m13 3h0m1 9h0m4-7h0m0 1h0m4 1h0m-1-3h0m0-4h0m2-2h0m0-7h0m3 0h0m1-10h0m-1 0h0m-1 3h0m-5 0h0m-4-1h0m1 6h0m-19-7h0m6 0h0m0 1h0m7 0h0m-1 1h0m-14-11h0m4 0h0m2 2h0m12-7h0m3-2h0m3 9h0m5 2h0m1-1h0m4-10h0m0 5h0m5-5h0m2 4h0m3 8h0m2-1h0m-11 1h0m1 9h0m0 8h0m3-6h0m1 2h0m3-3h0m4-7h0m1 15h0m4-3h0m7 2h0m1-3h0m1-2h0m-2-4h0m-3-4h0m1-1h0m5-2h0m-5-4h0m-9-6h0m2 1h0m8-2h0m-4-9h0m0-2h0m6-3h0m2-19h0m-22 11h0m5-11h0m-5-2h0m-8 9h0m4 3h0m0 7h0m11 2h0m-10 9h0m-4 0h0m-9-2h0m3 1h0m0-3h0m2-1h0m1-6h0m-7-1h0m-6 2h0m0 2h0m4 5h0m1 2h0m-13-3h0m-2-1h0m-4-3h0m-2-6h0m13-2h0m-3-4h0m-2 1h0m-3 2h0m-1-4h0m9-9h0m9 5h0m-6 7h0m5 1h0m2 0h0m6-6h0m-5 0h0m1-21h0m-1 2h0m-5 2h0m-5 7h0m-1-7h0m1-5h0m-10-2h0m-2-5h0m-3 1h0m23-1h0m4 1h0m16-10h0m-1-1h0m5 2h0m0 7h0m-2 3h0m-11-2h0m3 6h0m0 8h0m4 1h0m3 2h0m11 2h0m2-8h0m3-8h0m-1-7h0m10 9h0m8-14h0m6 4h0m0 5h0m11 10h0m0 1h0m-6 7h0m-3 1h0m-5 0h0m-2 8h0m-12 5h0m13 21h0m-7-9h0m3-4h0m14 9h0m6-10h0m-15-3h0m20-10h0m-2 27h0m9-3h0m3 3h0m1-2h0m4-9h0m11 8h0m-10-24h0m9-10h0m-18 0h0m-10-11h0m21-15h0m-1 8h0m4-14h0m-7 1h0m-9-9h0m5 0h0m-3-9h0m-1 3h0m-7 3h0m21-20h0m-3 1h0m8-5h0m-27-20h0m10 28h0m-35-17h0m6 10h0m1 12h0m5 2h0m3-6h0m1 4h0m3 4h0m2 21h0m-43-10h0m1-1h0m4-2h0m5-13h0m-20 11h0m5-11h0m-2 13h0m-19 13h0m-11 2h0m-11 0h0m-2-13h0m9 4h0m3-4h0m-9-9h0m-4-3h0m20-1h0m-2-16h0m2-18h0m5 3h0m9-3h0m12 4h0m-2 4h0m0 1h0m8 5h0m1 3h0m6 5h0m-1-16h0m-18-32h0m-7 8h0m8 9h0m-29-3h0m23-30h0m17-9h0m28 5h0m-13 32h0m44-4h0m2 12h0m23-52h0m34 99h0m-2 12h0m3-6h0m5-45h0m26 41h0m3 17h0m27-80h0m-30-4h0m-35-62h0m-65-13h0m-17 21h0"/>
<path vector-effect="non-scaling-stroke" fill="none" stroke-linecap="square" shape-rendering="crispEdges" id="g7" d="M-38 -356h0m-19 54h0m26 16h0m-39-4h0m-64 3h0m-63-27h0m-12 50h0m-8 70h0m-8 62h0m-14-15h0m16-6h0m9-6h0m21 5h0m-3-37h0m22 8h0m-13 53h0m5-6h0m6 6h0m17-24h0m12 7h0m-7 15h0m2-6h0m12-1h0m-2 0h0m11 7h0m-13-14h0m5-23h0m-18-3h0m8-1h0m-1-11h0m-8-2h0m20-12h0m-4-8h0m-30 7h0m-19 3h0m34-41h0m24 4h0m27-10h0m-5 10h0m-3-2h0m33 20h0m-11 13h0m2 5h0m11-6h0m12 6h0m4-30h0m11 0h0m46-17h0m-20 27h0m22 9h0m-14 11h0m-30 4h0m2-6h0m6-15h0m4-6h0m-3 2h0m-5 0h0m-9 9h0m1-6h0m-3-8h0m-6 23h0m-1 12h0m11 11h0m-2-3h0m-3 0h0m-5-1h0m4 12h0m8-2h0m-3-4h0m10 9h0m9 2h0m-7-26h0m12 3h0m-4 2h0m2 8h0m28-7h0m1 6h0m-14 1h0m6 5h0m3-2h0m0 4h0m-1 1h0m-1 3h0m-2 2h0m-4 2h0m-7-5h0m-5-8h0m-1 12h0m-2 1h0m-2 11h0m1 2h0m12 1h0m-1-2h0m5-5h0m2 3h0m-3 0h0m1 4h0m1 5h0m0 2h0m-3 4h0m11-4h0m2-1h0m-2 4h0m1 3h0m-3 5h0m-3 0h0m-2 0h0m1-5h0m-4-1h0m2 4h0m-11 2h0m4-10h0m-9-3h0m0 3h0m1 7h0m-3 3h0m-9-3h0m0-6h0m-3-16h0m-2 0h0m-1 0h0m-2 8h0m-11-11h0m-5 1h0m6 6h0m3 18h0m5 2h0m0 1h0m-4-2h0m-15 0h0m-4-9h0m-1 9h0m-11 0h0m-2-12h0m-1-6h0m19-9h0m0-5h0m3-26h0m-19 10h0m-10-5h0m-1 10h0m13 2h0m0 12h0m-6-7h0m-21 6h0m-14-26h0m8 24h0m-11-3h0m13 17h0m9-5h0m-2 3h0m-4 8h0m7 5h0m1 4h0m-12 2h0m-10 17h0m14-7h0m6 2h0m7 2h0m-14-1h0m15 15h0m-4-1h0m-1-2h0m-8 7h0m-7-5h0m-9 2h0m4 12h0m2-3h0m3 13h0m-8-2h0m-1 17h0m7-4h0m1 5h0m3-3h0m-1-3h0m11-2h0m-4 4h0m6 3h0m3-1h0m2-4h0m-3-5h0m2 0h0m-9-9h0m-1-10h0m24 3h0m1-2h0m2 1h0m-9 8h0m0 1h0m-4 8h0m14 12h0m0-2h0m8-12h0m-5 6h0m2 5h0m3-1h0m-1-3h0m5 6h0m2-10h0m2-7h0m-3-13h0m3-1h0m-1-2h0m-4-4h0m3-1h0m-7-7h0m-5 0h0m-14 12h0m-3-2h0m5-9h0m5-2h0m2 7h0m-4-15h0m1 7h0m-7-5h0m3-2h0m4-2h0m13-4h0m-6 6h0m0 3h0m2 4h0m6-1h0m1-8h0m4-4h0m17 13h0m-9-1h0m-2 15h0m4 1h0m-1-1h0m1-3h0m5 3h0m6-11h0m1-1h0m-1-1h0m0 10h0m2 2h0m2 1h0m0-1h0m2-4h0m2 3h0m-1 2h0m6-8h0m-5 2h0m2-11h0m0-1h0m-2 0h0m-2-2h0m-3 0h0m-3-2h0m5-7h0m2 5h0m12 0h0m1 0h0m1 1h0m-4-1h0m-3-1h0m2 11h0m1 0h0m3 0h0m3-2h0m0 1h0m5-4h0m-2 1h0m0-1h0m2-2h0m-4-8h0m9 5h0m5-3h0m2 9h0m5-3h0m-1 1h0m-7 3h0m-7 8h0m5 3h0m6-4h0m3 3h0m-7 8h0m-14-3h0m2-10h0m-2 5h0m-3 0h0m-2-2h0m1 0h0m2-2h0m-5 5h0m4 2h0m-1 8h0m1 4h0m-5 4h0m-1 6h0m5-3h0m6-1h0m4-1h0m-3-1h0m0-4h0m2-5h0m8 6h0m4-4h0m4-2h0m1 8h0m-4 4h0m-4-4h0m-6 15h0m11-6h0m2 3h0m0 8h0m-8 0h0m-3-1h0m0-2h0m-3 1h0m3 3h0m-4-1h0m-2-1h0m1-10h0m-3 0h0m-1-1h0m-9 3h0m-1 6h0m3 6h0m-5 0h0m0-4h0m1-1h0m-5 4h0m-6-6h0m2-1h0m-5-1h0m-1-4h0m4-2h0m2 1h0m3 6h0m3-1h0m1-8h0m-4 0h0m6-7h0m0-1h0m-1 0h0m0-6h0m-1 1h0m-4-1h0m-2 4h0m-5-2h0m0-2h0m-1 4h0m2 4h0m3 2h0m0 1h0m-4 1h0m-6-3h0m0 1h0m2-4h0m0-5h0m-4 1h0m-6 4h0m0 5h0m-3 5h0m9 3h0m1 1h0m-1 4h0m5 3h0m-2 1h0m-2 2h0m-4-6h0m-3 0h0m1 2h0m-1 10h0m3 0h0m-2-3h0m4-1h0m2 7h0m3 3h0m-14 9h0m3-2h0m3-1h0m-5 8h0m-1 4h0m5-4h0m9-2h0m0-2h0m-3 3h0m12-7h0m-1 3h0m-2-1h0m-4 3h0m0 4h0m5 5h0m3-3h0m2 1h0m5 0h0m-1-4h0m0-2h0m-4 1h0m-7-9h0m0-1h0m1-8h0m10-5h0m2 3h0m2-2h0m2 4h0m-2 5h0m2 4h0m3-3h0m-2 0h0m0-3h0m4 1h0m1-1h0m0 1h0m-2 1h0m0 1h0m6 4h0m-1-4h0m2-5h0m-1-1h0m-6-5h0m13 4h0m8-3h0m0 2h0m-2 2h0m-1 3h0m0 5h0m-6-1h0m3-1h0m0-3h0m-3 0h0m-4 3h0m0 8h0m8-3h0m4 3h0m-6 9h0m-4-3h0m-2 2h0m0 2h0m-6 2h0m-1 0h0m1-6h0m5 0h0m-3-5h0m2 0h0m1 0h0m-1-1h0m-1 0h0m-3-1h0m0-1h0m-5 0h0m-3 4h0m1 5h0m0-2h0m1 0h0m2 3h0m0 2h0m-2 2h0m-1 4h0m1-2h0m-2 3h0m-2 3h0m6 7h0m0-6h0m5 0h0m-3-3h0m3-1h0m1-3h0m3 1h0m11 1h0m1 3h0m0-2h0m3 8h0m-10 2h0m0-3h0m-4 1h0m0 5h0m2 4h0m3-4h0m6-1h0m1 0h0m1 5h0m0-1h0m-3 3h0m-2-3h0m0 5h0m5 3h0m-4 2h0m-1 1h0m-3-7h0m-2 0h0m-3 6h0m-4-2h0m2-2h0m1-1h0m-7-8h0m-3 3h0m-4 2h0m6 6h0m-3 3h0m-2 0h0m1-2h0m-4 1h0m-2 0h0m-3-6h0m-1 1h0m0 4h0m-3 2h0m-5-3h0m2-3h0m0-4h0m-2-4h0m11-5h0m-1-2h0m-3-2h0m6 2h0m0-4h0m0-3h0m0-2h0m-1 2h0m-3-1h0m1 3h0m0 1h0m-7-2h0m-3-2h0m0 3h0m1 1h0m-1 3h0m5 2h0m-4 2h0m-4-2h0m1-1h0m-1-3h0m-6-4h0m-8-3h0m7 9h0m-1 3h0m1 0h0m-6 3h0m0 4h0m0 4h0m2-2h0m0-1h0m3 0h0m-1-1h0m8 2h0m-5 0h0m0 4h0m3-1h0m1 1h0m-7 4h0m-1-4h0m-3 3h0m2 3h0m-4 0h0m-5-2h0m4-3h0m-4-8h0m-1 4h0m-3-1h0m-1-2h0m-2-2h0m-2-1h0m2 11h0m4-2h0m-3 1h0m-2 5h0m-5-3h0m-8-6h0m-2 1h0m11-5h0m-1-1h0m1 0h0m0-3h0m-8 1h0m-1-6h0m0 1h0m2-6h0m-3 1h0m-4-4h0m7-1h0m4 4h0m3 2h0m-2-4h0m4 2h0m3 4h0m-3 6h0m1 1h0m3-4h0m1-3h0m9 3h0m0-4h0m-2 0h0m2-6h0m-1-5h0m1 0h0m0-2h0m-4 1h0m0-2h0m-8 2h0m-1-2h0m4-2h0m-2-2h0m8-5h0m3 7h0m0-2h0m-1-15h0m-2-4h0m-4-2h0m-6 5h0m-1 7h0m-5 2h0m-3-2h0m2-1h0m-1 0h0m2-3h0m4 1h0m-3-9h0m-5 6h0m-6 0h0m-1 3h0m7 0h0m-2 4h0m0 2h0m-5-2h0m12 8h0m3 1h0m-2 2h0m-5 5h0m-8 2h0m-2-4h0m-3-2h0m-8 2h0m11-8h0m1-8h0m-1-10h0m-5 3h0m2 3h0m-9 4h0m1 4h0m0-1h0m-3 1h0m-4-4h0m-1-8h0m-2 2h0m-5-3h0m-1-1h0m1 8h0m-3 9h0m4 3h0m1-1h0m5 3h0m-1-1h0m4 5h0m-6 1h0m-8-2h0m1 2h0m0 15h0m5-2h0m3 6h0m6-1h0m-1-7h0m-1 0h0m-3-6h0m11 3h0m8-2h0m-3 5h0m5 5h0m0 1h0m-8 7h0m2-4h0m2 6h0m1 7h0m-10-5h0m-3 1h0m0-3h0m-3-4h0m-4 4h0m0 1h0m-4-3h0m-4-1h0m4 7h0m-4 5h0m-4-6h0m-2-9h0m-1-6h0m4-2h0m2-4h0m0-2h0m0-1h0m-11 3h0m0 9h0m-4 2h0m-7-5h0m2-2h0m3-4h0m-9-1h0m-4 2h0m3 5h0m3 12h0m1 1h0m-10 6h0m-4-1h0m0-2h0m-1 0h0m1-8h0m1 0h0m-24 12h0m-3 0h0m14-9h0m-1-5h0m-2-7h0m-2-4h0m10 1h0m-1 7h0m4 2h0m-1-6h0m6 1h0m-3-11h0m1-8h0m-5-6h0m-16 12h0m2-11h0m6 4h0m3-1h0m-9-18h0m11 7h0m14-9h0m9 2h0m1 5h0m-1 3h0m12 17h0m8-6h0m-1-9h0m-5-2h0m-2-11h0m10 2h0m-3-4h0m4-3h0m-5-6h0m1 2h0m-10 4h0m4 0h0m-6 3h0m-6-5h0m-7 6h0m7-24h0m6-5h0m12 10h0m-2-20h0m-8 7h0m0-1h0m0-3h0m9-7h0m-10-18h0m-11 2h0m2-2h0m1 23h0m-6 3h0m-18 2h0m13-29h0m-8 5h0m-19 33h0m12 0h0m-4-3h0m8-4h0m3 7h0m3 5h0m3 7h0m-2 8h0m-3 1h0m-11-2h0m1-9h0m-7-1h0m-16 14h0m-5 0h0m-3-9h0m-13-11h0m2-8h0m9-1h0m12 3h0m-3-8h0m-2-9h0m0-19h0m-23 10h0m-5-5h0m-13 26h0m16 8h0m1 9h0m2 12h0m-13-12h0m-4 25h0m-5 9h0m8 5h0m16-22h0m24 4h0m2 5h0m-7 3h0m13 21h0m-6 4h0m-16 13h0m-21 8h0m10-5h0m-5-9h0m-7-8h0m-12 24h0m-10-10h0m-1 3h0m-18-23h0m-23 20h0m-15-75h0m43-4h0m1 17h0m-6-36h0m19-27h0m4-6h0m-19-11h0m-17-57h0m-25 212h0m59 12h0m-29 19h0m17 43h0m-14 13h0m26 36h0m-24-8h0m-8 39h0m8 13h0m27 94h0m92 14h0m31 5h0m-7 6h0m-16-1h0m155 58h0m-45-17h0m-16-70h0m26 8h0m-5 10h0m9 17h0m31-15h0m-14-27h0m13-18h0m-8 0h0m-9-6h0m-5-1h0m-2 13h0m-21 6h0m3 7h0m-18-14h0m18-5h0m6-3h0m3-18h0m-12 5h0m0 4h0m-14-21h0m13 3h0m30-1h0m-13 1h0m0 5h0m7 2h0m14 4h0m-5 0h0m-1 6h0m3-26h0m7-6h0m-2-1h0m1-5h0m1 1h0m-6-3h0m-20 8h0m14-10h0m0-5h0m-10 1h0m2-9h0m4-1h0m11 1h0m-3 10h0m6-3h0m1-5h0m1-5h0m-8-3h0m-1-2h0m7-14h0m7-4h0m-3-4h0m-4-3h0m-8 6h0m3 7h0m-11-6h0m2 0h0m5 1h0m0-10h0m-7 0h0m-4 0h0m-4 18h0m13 13h0m-8-5h0m-20-3h0m11-4h0m-6-16h0m-6-1h0m2 10h0m-12-7h0m-4 6h0m2-2h0m1 0h0m-1 12h0m6 4h0m2 0h0m3 4h0m-13 12h0m15 4h0m10 4h0m4-1h0m-7 8h0m0 1h0m-14 3h0m-3 2h0m-8 0h0m-4-13h0m-2 4h0m-1 1h0m-17 5h0m-1-11h0m-2-16h0m5 1h0m3 1h0m8 8h0m5 4h0m2-21h0m-6-7h0m5 3h0m2-12h0m0-6h0m-5 4h0m-5-5h0m-5 5h0m-6-3h0m-4 3h0m5 14h0m-3 8h0m-7 1h0m-14-9h0m11 2h0m-6-18h0m-4 2h0m3 5h0m-9-6h0m13 29h0m-11 23h0m-5-4h0m-4 4h0m5 11h0m2 8h0m0 5h0m5-6h0m17 0h0m25-5h0m-11 22h0m-2-8h0m-8 16h0m26-5h0m-39 21h0m-52-21h0m27 6h0m-19-30h0m-12 2h0m15 14h0m-18 1h0m-38-21h0m-6-18h0m13-12h0m-45 11h0m-2-27h0m-8-16h0m-5-5h0m18-1h0m6 14h0m29 8h0m-3-18h0m27 7h0m5 20h0m-15 6h0m22 18h0m-4-9h0m31-7h0m3-11h0m-19-7h0m9-4h0m10-25h0m5 3h0m-11-2h0m-16-1h0m3-7h0m2 1h0m2-14h0m9-4h0m0 13h0m10-2h0m0-4h0m-6-11h0m-4-3h0m2-1h0m-2-3h0m9 1h0m2-14h0m1-8h0m-2 1h0m-5 2h0m-12 12h0m3-13h0m-12 2h0m-2 17h0m8 6h0m-15-2h0m-2-1h0m7-12h0m-9-8h0m-9 1h0m-5-5h0m2 5h0m-10 2h0m21 27h0m6 4h0m-9 16h0m-33 7h0m6-23h0m-23 12h0m-7-26h0m-24-6h0m19-13h0m22-4h0m1 25h0m4 2h0m7-10h0m8 9h0m-2-20h0m-4-19h0m1-14h0m-11 8h0m-1-14h0m-12 26h0m-6-2h0m-9 5h0m-5 1h0m21-61h0m4 24h0m2 0h0m15-8h0m23-2h0m0-7h0m14-5h0m-4 3h0m-1 9h0m-1-1h0m2 3h0m-17 4h0m-5-2h0m-1 15h0m11-2h0m2 10h0m1 3h0m-9 7h0m-3 0h0m13 5h0m2 6h0m8-12h0m-6-5h0m0-9h0m-4 1h0m2-5h0m12 1h0m5 2h0m10 8h0m-3 1h0m9 10h0m-2-1h0m5 8h0m5-20h0m-2 5h0m-5-11h0m-1-11h0m-9 1h0m-6 0h0m-1-7h0m10-3h0m2-2h0m-2-4h0m-2-9h0m2 6h0m-1-5h0m6 0h0m20 3h0m2-5h0m2 1h0m5-1h0m-3 5h0m-1 1h0m-7 6h0m-1-4h0m-2 10h0m6 5h0m-5 1h0m2 4h0m0-4h0m5 3h0m0 3h0m1-7h0m-1-7h0m5 2h0m1-2h0m5 11h0m6-2h0m5 1h0m-3-2h0m-1-2h0m2-6h0m2 3h0m-7-7h0m-5-1h0m-2-1h0m4 0h0m2-3h0m-5-1h0m11 0h0m4-2h0m-1 3h0m0 6h0m7-3h0m1 4h0m6 1h0m-1-10h0m2-4h0m13-1h0m-2 7h0m2 3h0m-4 3h0m-2 1h0m-1-2h0m-5 6h0m0 5h0m5-3h0m2-3h0m8 1h0m-3 2h0m3 0h0m-1 10h0m-1 1h0m-10-3h0m-7 2h0m3-12h0m-3 1h0m-9 1h0m2 4h0m0 7h0m-1 0h0m3 4h0m-7 6h0m1 0h0m0 6h0m2 0h0m3-3h0m4-1h0m-1-1h0m1-3h0m6-3h0m1 3h0m6-7h0m1 2h0m5-2h0m-10 11h0m-3 4h0m9 11h0m3 5h0m-12-5h0m0 3h0m3 0h0m-8-2h0m3 0h0m-13-8h0m0 1h0m-15 6h0m-2-2h0m14-1h0m1-7h0m-4-6h0m-3 0h0m4-3h0m-2-3h0m-6 11h0m-2 0h0m-3 0h0m-4-6h0m4-8h0m-7 5h0m-3-4h0m-5 1h0m2 6h0m2 14h0m3-1h0m4-1h0m1 6h0m-6 0h0m-1 0h0m-3 10h0m0 5h0m8 1h0m0 1h0m4-4h0m1-6h0m5 2h0m0 3h0m8-7h0m3 1h0m0 6h0m-2-1h0m-1 2h0m2 2h0m1 9h0m-1 3h0m-12 4h0m-9-1h0m6 2h0m-12 0h0m4 1h0m5 15h0m-7 0h0m14 5h0m2 0h0m0 7h0m-4 1h0m6 2h0m7-2h0m-3-9h0m-6-7h0m1 1h0m-5-7h0m10 4h0m3 0h0m9-4h0m-1 1h0m8 3h0m-1 6h0m2 1h0m-10 6h0m-4 4h0m12 4h0m2-3h0m-5-2h0m5-6h0m6 2h0m1 5h0m-5 3h0m4 2h0m-1-1h0m4-3h0m0 1h0m7-7h0m-1-6h0m-3-2h0m-3-1h0m-7 5h0m0-3h0m6-9h0m4-2h0m1 0h0m-2-2h0m4-3h0m-10-4h0m2-2h0m-6-5h0m7 13h0m-10 0h0m-1-1h0m1-3h0m-2 2h0m-4 2h0m-4-4h0m4 2h0m-6-7h0m7-4h0m0 5h0m6-11h0m-5 5h0m-3-9h0m-2-2h0m-3 1h0m9-2h0m-2 0h0m4 3h0m3-2h0m0-2h0m5 1h0m1 2h0m0-1h0m-5 7h0m4 4h0m4-4h0m0 4h0m4 0h0m1-10h0m-4 2h0m6-6h0m2 1h0m5 1h0m-3 1h0m-3 8h0m1 1h0m13 1h0m-6-10h0m9-1h0m7-3h0m4 3h0m2 3h0m-1 0h0m-2 6h0m-4-1h0m-6-1h0m6 8h0m-1 1h0m6 3h0m-4-2h0m7 11h0m-2 0h0m-12-3h0m2 0h0m0 1h0m-10-5h0m5-1h0m-1-1h0m-9 2h0m1 1h0m-3 14h0m13-1h0m-3 1h0m2 7h0m-2 1h0m-6-4h0m-1 11h0m6 6h0m4 3h0m0-5h0m-1-6h0m0-1h0m9 0h0m-4 4h0m9 7h0m1 1h0m1-3h0m-2-6h0m-4 1h0m0-1h0m2-2h0m1 1h0m-2-10h0m2 3h0m-3 0h0m-6-6h0m8-7h0m-2 4h0m6-3h0m2-1h0m4 3h0m5-3h0m6 6h0m-5 0h0m0-1h0m-2-2h0m2 10h0m-1-1h0m0 1h0m-2-1h0m-2-3h0m-5-2h0m4 12h0m1 1h0m-3 5h0m7-2h0m2 0h0m-2 7h0m2-8h0m0-6h0m4 1h0m2 1h0m3 0h0m-4 4h0m2 3h0m-1 4h0m5-3h0m4-1h0m4-3h0m-2 0h0m-2-5h0m3-1h0m-1 1h0m-7-5h0m-4-8h0m-1-1h0m3-3h0m8 1h0m2 5h0m0-7h0m-1-2h0m1-9h0m-7-4h0m-10 11h0m3-1h0m-1 0h0m-5 3h0m-8-1h0m3-4h0m-1-5h0m2-3h0m10 1h0m-2 1h0m-2-8h0m-6-3h0m-1-3h0m0 2h0m11-4h0m8-3h0m-4 4h0m-3 10h0m6-3h0m0-3h0m4 1h0m1 2h0m-2-1h0m0 4h0m1-2h0m2-5h0m-1-6h0m3 1h0m-1-9h0m-3 2h0m1-1h0m-5 5h0m1-1h0m-2-1h0m-2-7h0m4-4h0m2 4h0m4-1h0m2 1h0m-2-8h0m-2-12h0m-5 1h0m0-3h0m-6 4h0m3 1h0m-2 3h0m4 0h0m-2 5h0m-4-1h0m-1 0h0m0 1h0m-2 2h0m-3 0h0m0-6h0m1 0h0m4-3h0m-5-4h0m-1 1h0m-3 1h0m-4 1h0m5 6h0m-2 1h0m2 2h0m-3 9h0m2-5h0m-1-1h0m5 2h0m4-3h0m0 3h0m0 10h0m-8 2h0m1-4h0m-3 0h0m0 1h0m-5 3h0m-3-7h0m-1-4h0m-4-4h0m-5 7h0m0-1h0m5 6h0m1 2h0m-6-2h0m-6-2h0m0-2h0m-2 3h0m-5-2h0m2-1h0m1 0h0m-1-2h0m0-1h0m-2 1h0m-2-5h0m12 3h0m1-6h0m-3-1h0m-4-5h0m-8 0h0m4-5h0m5-1h0m6-2h0m5 4h0m-2 3h0m6 6h0m6-8h0m-6 2h0m3-3h0m3-5h0m-2-6h0m3 1h0m-5-8h0m-10 3h0m3 1h0m1 2h0m1 6h0m-6-1h0m-1-3h0m-3-2h0m-1 0h0m-2 2h0m1 0h0m2 4h0m-6 0h0m-3-4h0m5-7h0m4-3h0m-3 3h0m5-2h0m0-4h0m0-3h0m-3 0h0m-2-1h0m2 5h0m1 1h0m-10-4h0m0-3h0m-1-3h0m2 0h0m6-1h0m1 1h0m0 2h0m14-5h0m-3 1h0m-1 4h0m-2 2h0m-1 3h0m9-4h0m1 5h0m2 1h0m-2-10h0m4-2h0m1 1h0m1-2h0m2 6h0m4-5h0m-1-2h0m9 0h0m0 1h0m-5 7h0m0 1h0m3 3h0m-2 3h0m-1-2h0m-8-3h0m-1 9h0m3-1h0m-1 3h0m0 4h0m0 2h0m4 4h0m1-1h0m-2-4h0m3 5h0m1 0h0m6-5h0m-7-5h0m4-2h0m2-1h0m4 0h0m5-2h0m-1 2h0m-5 4h0m-1 9h0m5 0h0m-1-7h0m6 4h0m2 3h0m0-7h0m3 1h0m-1-15h0m-6-1h0m2 3h0m0 3h0m-7 0h0m0-1h0m0-7h0m-2-4h0m-1-1h0m5-2h0m1 0h0m3 1h0m0 2h0m2 3h0m2-1h0m0 2h0m1-2h0m0-3h0m0 1h0m5-1h0m-1 5h0m12-6h0m0 4h0m-1 1h0m-4 5h0m2-2h0m1 2h0m2 4h0m-1-1h0m-3 0h0m-5-5h0m-3 1h0m1-2h0m0 4h0m0 1h0m-2 5h0m1-2h0m1 0h0m1 1h0m0 4h0m-4 2h0m2 1h0m0 7h0m5-2h0m-3-3h0m1-2h0m3 1h0m1 4h0m1-1h0m11-5h0m-2 0h0m-2-2h0m5 6h0m4-2h0m2 3h0m3-6h0m-2-3h0m2-4h0m-1 0h0m-1-3h0m-8 1h0m-4-3h0m4 0h0m0-5h0m-1 1h0m0-4h0m3-1h0m4 2h0m3 0h0m1-3h0m1 3h0m6-3h0m-2 6h0m-1-1h0m-3 4h0m0 2h0m9-3h0m0 5h0m-1 1h0m1 0h0m3-2h0m1 2h0m1-3h0m-2-7h0m0 3h0m1-6h0m-1 0h0m2-1h0m6 6h0m1-4h0m1-2h0m6 7h0m-3-2h0m1 4h0m1-1h0m-7 6h0m1-1h0m0-5h0m-3 3h0m0 3h0m-1 0h0m-1 0h0m5 6h0m2-1h0m3-2h0m5 5h0m-6-2h0m1 4h0m4 1h0m0 2h0m-11 4h0m-8-3h0m-3-7h0m-6 14h0m0-2h0m5 3h0m-1 10h0m2-1h0m1 2h0m1-1h0m0-8h0m0-2h0m1 1h0m0-2h0m1-2h0m3-1h0m7 7h0m2-7h0m1 1h0m3 4h0m-4 5h0m7 1h0m-3 4h0m-6 0h0m-3-4h0m-1-3h0m1 7h0m-2 3h0m5 2h0m5 1h0m-2 0h0m0-1h0m-1 8h0m-3 1h0m-6 1h0m-1-7h0m1-4h0m-4 2h0m-1 0h0m1 1h0m-4 1h0m-2-2h0m2-5h0m-3 1h0m-3 7h0m0 1h0m2 5h0m-9-4h0m-2 5h0m-7-2h0m0-1h0m2 1h0m-1-3h0m-2-5h0m4-3h0m11 3h0m-5-9h0m0-9h0m-1-3h0m-4 2h0m0 1h0m-4 1h0m0 4h0m-1 1h0m0 1h0m-4 4h0m-2-4h0m2-4h0m1-2h0m-1-1h0m-2 3h0m-6-5h0m3 7h0m-3 2h0m1 4h0m-3-1h0m-2 6h0m12-3h0m3 3h0m-2 0h0m1 1h0m0 2h0m0 1h0m-6-2h0m1 4h0m-1 1h0m2 2h0m-7-4h0m-2 4h0m1 4h0m2 13h0m1 2h0m-1-5h0m4 5h0m5-3h0m2-1h0m-3-1h0m1-3h0m-3-2h0m2-4h0m1 1h0m4 1h0m3 3h0m1 1h0m-1-6h0m6 2h0m0-3h0m1 6h0m-2 1h0m-4 3h0m-5 1h0m0 10h0m9-2h0m5 3h0m-2 1h0m-1 1h0m-1 4h0m-14-1h0m0-7h0m2-4h0m-3 0h0m-10 3h0m5 8h0m-2-1h0m1 2h0m2 6h0m1 0h0m6 4h0m-5 4h0m6 1h0m-9 0h0m1 5h0m0 1h0m2 11h0m7-12h0m0 2h0m3-1h0m1 3h0m0 4h0m3 1h0m7 3h0m-5-19h0m-5 5h0m-2-4h0m0-2h0m3-4h0m-1 2h0m-4 1h0m7-6h0m13 0h0m5-1h0m2 0h0m4 5h0m-3 2h0m-3-3h0m-1 7h0m3-2h0m2-1h0m2 2h0m-8 3h0m-5 0h0m1 3h0m4 0h0m-4 10h0m-3 1h0m15 0h0m-4-10h0m4 1h0m3 1h0m-2 10h0m11 2h0m4-7h0m-7-3h0m5-11h0m-8-4h0m-3 0h0m3-3h0m3-2h0m2 5h0m5-6h0m-4-14h0m-6 4h0m-2-5h0m0 14h0m0-1h0m-6-1h0m-2-2h0m-2 4h0m-4-3h0m0-1h0m1 0h0m5-10h0m-1 2h0m-2-1h0m5-2h0m1-7h0m-6 0h0m2 4h0m-3-1h0m-7-1h0m5-6h0m-5 0h0m2-3h0m-2 1h0m6-3h0m5 1h0m-1 2h0m12-2h0m-5 13h0m13-2h0m5-9h0m0-1h0m-1-1h0m3 0h0m1 3h0m1 11h0m3-4h0m3-5h0m-1-6h0m11 3h0m3 3h0m0 5h0m2 4h0m-6-5h0m-1 1h0m-4 12h0m4-2h0m6 5h0m4 4h0m-6 1h0m-16 0h0m-1 0h0m6-4h0m-3-10h0m-4-1h0m-6 0h0m2 13h0m-2 4h0m3 5h0m10 4h0m-8 19h0m4-3h0m-1 0h0m20-3h0m-3-1h0m2-6h0m-5-1h0m-4-2h0m2-3h0m4-5h0m4 0h0m1-1h0m1-1h0m4 0h0m10-1h0m-11 9h0m1-1h0m0 6h0m0 7h0m13-6h0m14 12h0m0-14h0m-2-1h0m-1-6h0m-5 0h0m-6-7h0m4-1h0m3 0h0m1-6h0m4-1h0m-4-8h0m-7 3h0m-1 7h0m-2 0h0m-2-2h0m-12 6h0m3-4h0m1-3h0m1 0h0m0 3h0m-2-6h0m9-3h0m0-6h0m3 1h0m-8 1h0m0-1h0m-5-5h0m6-4h0m21 5h0m2 0h0m0-12h0m-1-5h0m-9 4h0m-2 0h0m-3-1h0m2-7h0m1-4h0m3 2h0m9 0h0m-3-12h0m3-2h0m-11 8h0m-11 0h0m3-1h0m2-1h0m1-4h0m-2-3h0m-6 2h0m-5-5h0m-2 8h0m2 0h0m7 21h0m-5 1h0m1-6h0m-4 1h0m-9 5h0m0-6h0m7 2h0m-11-4h0m-4-2h0m-2 8h0m-3-1h0m-2-2h0m0 2h0m-5 3h0m-4 1h0m3-2h0m-2-2h0m1-3h0m1-5h0m12-2h0m-5-8h0m-9 2h0m1-3h0m4 3h0m0-10h0m2 6h0m11-4h0m0-1h0m4-2h0m-5 11h0m3-3h0m2 1h0m1 5h0m4 1h0m-2-9h0m5-19h0m-6 1h0m-7 2h0m3 9h0m-10-4h0m-1-2h0m-5 6h0m-3 0h0m2-12h0m9 1h0m-1-11h0m-3 0h0m1 5h0m-6-2h0m-1-2h0m3-5h0m-5 2h0m8-6h0m0 4h0m5-3h0m-2 0h0m1 0h0m10 8h0m-2 0h0m4-1h0m3 4h0m3-7h0m-2-2h0m-4 3h0m4-6h0m-1 0h0m7 1h0m1-2h0m4 0h0m0 2h0m0 1h0m4 2h0m-1 3h0m4 1h0m-8 6h0m-3-2h0m3-1h0m-5 18h0m6-6h0m3 0h0m1 4h0m2-1h0m-1 0h0m-5-10h0m2 0h0m5 1h0m3 0h0m4-2h0m5 10h0m0 5h0m2-7h0m-5-3h0m3-2h0m-1-3h0m4-1h0m-1-7h0m-7 7h0m0-10h0m4 0h0m4 2h0m5 0h0m6 8h0m3-3h0m10-7h0m8 9h0m-12 8h0m8-3h0m5-2h0m-5 3h0m4 5h0m-18 3h0m-3-12h0m-6 5h0m-3 5h0m5 11h0m7-1h0m-3 2h0m2 3h0m3 3h0m-11 8h0m3 6h0m8-10h0m3 1h0m3 0h0m3-1h0m-6 11h0m0 2h0m6-1h0m2 1h0m5-5h0m-9-16h0m3-7h0m0 4h0m23 0h0m-3 1h0m-1-1h0m-6 6h0m2 6h0m15 0h0m-5 3h0m6 11h0m-5-29h0m10 5h0m1-10h0m-1-1h0m1-5h0m1-4h0m-6-2h0m-2 1h0m-11-3h0m8-12h0m12 8h0m4 20h0m0-2h0m18-19h0m13-10h0m6 13h0m23 6h0m-3 34h0m-2 5h0m-5-2h0m-3 2h0m-17-6h0m6 7h0m-7 4h0m-1-19h0m0-8h0m-12 4h0m-16 11h0m6 8h0m-8 4h0m0 15h0m16 10h0m0 3h0m0 1h0m9-7h0m20-13h0m14 42h0m-19-1h0m-16 1h0m-25-17h0m-2 23h0m-10-3h0m-13 0h0m0-4h0m5-7h0m-10-4h0m14 7h0m14-11h0m-11-6h0m4-9h0m0-1h0m8-15h0m-9-1h0m-2 13h0m-15-3h0m1 5h0m2 5h0m6 9h0m-10-3h0m-18 0h0m5-9h0m1-4h0m-1-9h0m0-3h0m-20-1h0m11 17h0m-10 20h0m-1-1h0m12 6h0m-3-10h0m17 12h0m-10 5h0m4 4h0m1 1h0m-4 6h0m-1-1h0m-9 2h0m0-3h0m3-8h0m-5-2h0m-5 1h0m-1 27h0m14-11h0m8 4h0m5 7h0m-11-2h0m0 16h0m-1 2h0m-8-2h0m2-1h0m-4 3h0m-4 0h0m9 12h0m17 19h0m8-24h0m6 6h0m0-35h0m9 1h0m16 14h0m50-18h0m1 17h0m-11 0h0m-13 99h0m-36-50h0m-30 30h0m-40 3h0m-48 15h0m21-32h0m-5-22h0m18 7h0m-5 0h0m28-4h0m0-2h0m-30-3h0m9-16h0m-1-11h0m3 1h0m5-5h0m7 1h0m5-4h0m-1-5h0m2-6h0m-13-3h0m-6-1h0m1-1h0m4-8h0m-10-4h0m-3 10h0m9 16h0m-25 0h0m6-10h0m5-4h0m-2-11h0m0 3h0m-11 2h0m4 5h0m-14-9h0m-1-2h0m2 7h0m-1 4h0m-4 5h0m1 6h0m11-4h0m-7 8h0m-3-3h0m3 13h0m1-1h0m22 2h0m-4 25h0m-19-9h0m-6 0h0m-3 6h0m-1 1h0m-10-11h0m-11 9h0m4-6h0m0-8h0m-1-3h0m-3-4h0m17 1h0m-2-9h0m-6-5h0m6-8h0m5 1h0m-4-11h0m-5-4h0m-1 0h0m-1 5h0m-5-3h0m1-1h0m-2 0h0m-10 3h0m4 5h0m9 7h0m-2 7h0m-8 4h0m0-5h0m-6 0h0m-2 2h0m-6-8h0m3-3h0m3-8h0m-2-4h0m-8-4h0m1 12h0m-3 1h0m-2-7h0m-6-1h0m3 2h0m-6-6h0m-4 21h0m10-3h0m2 9h0m-8-3h0m-3 0h0m5 11h0m6-2h0m3-2h0m1 5h0m7-1h0m-3 9h0m-3 5h0m11 3h0m-20 13h0m4-2h0m-2 6h0m4 8h0m8 10h0m8-10h0m3-2h0m8-3h0m2-1h0m-4 19h0m21 22h0m-20 5h0m-40-16h0m-1 21h0m21 13h0m25 49h0m7-17h0m73-19h0m-28 7h0m-48 69h0m11-23h0m-45 19h0m304-268h0m7 41h0m-37-2h0m-10-8h0m-24-35h0m4-13h0m3-50h0m36-208h0m-28 77h0m-14 50h0m11 0h0m19-5h0m19-34h0m62 82h0m-98-33h0m-32 37h0m-11-1h0m-9 13h0m1-5h0m-11-19h0m11-1h0m-5-14h0m-9 12h0m-9-4h0m26-24h0m6 22h0m-4-2h0m15 8h0m0-4h0m1-9h0m14-9h0m-6-9h0m5-10h0m-6 6h0m-6 4h0m-9-9h0m6-3h0m7-13h0m-2-20h0m-27-9h0m-21 11h0m4 27h0m4-11h0m7 8h0m12 17h0m-26-1h0m-3 2h0m-4-9h0m-26 8h0m5-8h0m10-15h0m8-3h0m-2-11h0m0-10h0m-7-2h0m-6-10h0m0 25h0m-11-1h0m-5 3h0m-4-5h0m3-5h0m1-7h0m4-10h0m-10 8h0m0 2h0m-2 2h0m-9-4h0m-6 10h0m3 12h0m0-3h0m7 15h0m-1-11h0m18 1h0m-3 8h0m1-1h0m-6 2h0m-1-2h0m7 11h0m0 1h0m-5 1h0m6 3h0m-13 7h0m-5 0h0m-3-5h0m2-9h0m-11 8h0m3 1h0m0 5h0m-2 0h0m5 5h0m1-4h0m-3 11h0m1 12h0m-3-2h0m-1 5h0m4 5h0m0-7h0m4-4h0m10 1h0m2 10h0m9-11h0m-3 0h0m2-2h0m-10-16h0m9 4h0m5-6h0m6 7h0m16 20h0m-20 7h0m2-1h0m-1 4h0m-3 3h0m6 5h0m-1 0h0m15-10h0m0-3h0m8 15h0m-13-5h0m2 7h0m7 12h0m-6 0h0m-15-2h0m-1 3h0m-3 0h0m-5-2h0m-10-1h0m2-3h0m1 3h0m-3-11h0m13 1h0m-4-3h0m1-4h0m2-6h0m-6 1h0m-9-3h0m-4 23h0m5 3h0m-8 0h0m-7 0h0m-4 2h0m0-10h0m0-4h0m-1 1h0m-11 3h0m5 10h0m-15-1h0m-3-5h0m2 0h0m2-3h0m-6-1h0m3-2h0m7 4h0m2-8h0m-4-5h0m-8 5h0m14-9h0m1-3h0m11 7h0m-2 4h0m5 0h0m1-3h0m-3 0h0m3-10h0m0-1h0m-1 0h0m1-3h0m-3-2h0m-6 1h0m1-1h0m2-19h0m-9-7h0m-4 15h0m3-9h0m-5-5h0m-7 4h0m-3 1h0m5 3h0m-5 12h0m7-1h0m4-1h0m0 3h0m-3 4h0m-2-2h0m-1 0h0m-2 0h0m-1 0h0m-3 7h0m-2-3h0m-6 2h0m-1-2h0m-1 2h0m-2-4h0m2-9h0m3 6h0m7-8h0m0-2h0m-2-2h0m-3-8h0m-1 3h0m-7-4h0m0 13h0m-3-2h0m-2-5h0m-1-1h0m0-6h0m-4 3h0m0 1h0m3 1h0m-6-5h0m-2 2h0m-2 2h0m-1 2h0m0 3h0m4-1h0m1-1h0m2 1h0m-1 3h0m1 2h0m-7-2h0m0 5h0m1-1h0m1 2h0m-2 2h0m11-1h0m3 8h0m-2 0h0m-2 3h0m-2 0h0m-2-3h0m-6-2h0m3 7h0m1 0h0m2 3h0m-6 7h0m2 5h0m2-2h0m0 1h0m5-2h0m6 2h0m0-10h0m-5 2h0m-2 0h0m3-2h0m3-2h0m2 4h0m5-1h0m6-5h0m0 9h0m2 4h0m0-1h0m-2 2h0m-3-1h0m-2-5h0m-1 13h0m1-4h0m6-1h0m-4 8h0m2 3h0m2 1h0m2 0h0m-4 3h0m-6-1h0m1-2h0m1 0h0m-10-5h0m3-6h0m-2 2h0m-2-2h0m-6 2h0m-1 0h0m-1 0h0m-3 1h0m1 1h0m0 6h0m4 0h0m-9 0h0m-4-2h0m1 2h0m-2 4h0m-5-3h0m-2-1h0m1-1h0m1-1h0m2 1h0m-1-3h0m1-7h0m6 5h0m4 0h0m-5-12h0m4-1h0m2-8h0m-4 7h0m-7-2h0m1-4h0m-3 2h0m-1 1h0m-1 2h0m5 4h0m-9 3h0m-1 1h0m2-7h0m2-4h0m-2-2h0m-1 1h0m-4-2h0m-2 6h0m-1 1h0m-1-3h0m-4-3h0m0 8h0m3 0h0m-1 4h0m-1 3h0m12 4h0m-3 0h0m-2 1h0m0 2h0m3 1h0m4 0h0m-3 4h0m-7 0h0m1 0h0m-5-2h0m2 3h0m0 2h0m-7 0h0m0-5h0m2-4h0m0-4h0m-2 0h0m-5-2h0m-7 9h0m7 6h0m-8 0h0m-2 0h0m-6 0h0m-4-5h0m2-1h0m-5-5h0m4-4h0m8-3h0m0-2h0m-11 4h0m-1-1h0m1-13h0m4 0h0m6 1h0m12 0h0m-5 7h0m-2 2h0m2 3h0m3-2h0m0-1h0m3-2h0m1 4h0m0 1h0m3-1h0m0-7h0m1 1h0m-3-1h0m-1-1h0m2-3h0m-1 0h0m3-2h0m2 1h0m-5-7h0m2-1h0m1-2h0m-1-1h0m-10-4h0m-1 1h0m-1 2h0m3 0h0m-1 6h0m2-1h0m-2 3h0m-3 2h0m-1-4h0m-4 0h0m0 4h0m-7-4h0m-2 0h0m0-2h0m-1 0h0m8-9h0m0 5h0m4 0h0m0 1h0m1 1h0m0-7h0m0-1h0m1-2h0m-5-5h0m1 5h0m-3 2h0m-5-4h0m2-6h0m-3 0h0m5-3h0m4 5h0m8-4h0m-1 1h0m0 10h0m2-1h0m0-1h0m1 1h0m9 1h0m-5-14h0m9 4h0m10-2h0m-1-1h0m3 5h0m-2 0h0m-3 8h0m-1-1h0m-6-5h0m1 5h0m-1 5h0m1-1h0m3 3h0m-5 4h0m3 1h0m-1 5h0m0 1h0m6-1h0m3-2h0m1 0h0m0 2h0m-4-7h0m4-5h0m7-1h0m1 5h0m0 8h0m9-6h0m-5-1h0m0-3h0m7-8h0m-2-3h0m-9 5h0m-3-13h0m7 4h0m7-1h0m0-2h0m-2-1h0m2-9h0m-15-4h0m9-3h0m0-1h0m5 0h0m-5-6h0m-1-8h0m-8 1h0m5 11h0m-10-5h0m-3-9h0m0 2h0m-2 3h0m-4 6h0m9 5h0m4 0h0m0 5h0m-4 0h0m-4 10h0m-2-5h0m-11 2h0m2-4h0m-1-2h0m-3 0h0m-4-6h0m-3 6h0m5 8h0m-7-4h0m-5-2h0m-2 5h0m-2 1h0m-2 0h0m-3-3h0m-1-3h0m4 2h0m-4-7h0m6-3h0m6 4h0m-9-7h0m4-12h0m3 5h0m3-2h0m1 3h0m5-5h0m-1 7h0m-2 3h0m0 3h0m11-5h0m0 5h0m2-2h0m1-3h0m1-4h0m-5-5h0m0-2h0m-2-10h0m-3 0h0m0 7h0m-3 2h0m-5 1h0m0-3h0m-4-3h0m-6 4h0m0-1h0m3-2h0m-6-3h0m11-7h0m-3 5h0m6-3h0m-3-7h0m-2 4h0m-3 0h0m-1-2h0m-1 0h0m-1 2h0m-3-5h0m2-1h0m5-5h0m-3 1h0m-4-3h0m8-1h0m1 2h0m1 3h0m2-1h0m3 0h0m0-2h0m3 4h0m-2-1h0m0 2h0m3 7h0m3-5h0m2 4h0m6-8h0m-3-1h0m3-4h0m2 3h0m1 0h0m5 0h0m3-2h0m2-2h0m-1 5h0m3 9h0m-2-2h0m-6-4h0m-1 0h0m3 10h0m-3 3h0m-3 2h0m2 1h0m-3 3h0m3 3h0m8 1h0m1-7h0m-4-3h0m14-4h0m-6 10h0m1 4h0m8 0h0m1-1h0m5-10h0m-4-4h0m-1-7h0m0 4h0m12-10h0m-1 0h0m-5 2h0m1 6h0m6 3h0m-2-3h0m2-2h0m4 2h0m1-11h0m1 2h0m2 0h0m9-1h0m4 1h0m-8 12h0m1-1h0m1 0h0m-4-4h0m-6 21h0m2-3h0m-8-5h0m-2 8h0m6 8h0m5 8h0m-13-3h0m0 4h0m-2 0h0m1 2h0m-1 8h0m5 1h0m6 5h0m4-1h0m-5-7h0m-1-2h0m14-2h0m-4 3h0m-2 8h0m3-4h0m4-2h0m0 3h0m2 4h0m5-2h0m-7-15h0m-8-2h0m1-5h0m8-3h0m2 1h0m7-3h0m12-2h0m-4 7h0m1 1h0m2 2h0m-8 4h0m-3-6h0m4 10h0m-5 4h0m1 4h0m4-2h0m2 1h0m5 6h0m7-13h0m2 3h0m-3 1h0m0-2h0m-2 11h0m10-1h0m4-3h0m-5-11h0m2-3h0m-6-6h0m-3-5h0m-1 0h0m6-1h0m3 4h0m3 2h0m-3-8h0m-2-3h0m3-11h0m-5-1h0m-7 5h0m1 4h0m5-1h0m-19 7h0m-2-2h0m0-3h0m0-5h0m10-2h0m1 2h0m-7-19h0m12 8h0m10-6h0m-14-5h0m2-17h0m-8-5h0m0-6h0m22-5h0m-13-22h0m-7 3h0m-1 19h0m-22 0h0m-1 1h0m4-15h0m-15-11h0m-5 6h0m14 9h0m-3 2h0m-6 6h0m-4-1h0m-2 1h0m0 10h0m23 1h0m4-4h0m-8 9h0m1 6h0m6 2h0m-2 4h0m-5 6h0m-10-1h0m1-3h0m-2-2h0m4-3h0m-27 9h0m3-3h0m-3-11h0m5 0h0m2 5h0m6-12h0m0-7h0m-22 0h0m-6 1h0m-1 2h0m2 8h0m-3-1h0m0 17h0m-3 0h0m-1-11h0m-2 0h0m-9 13h0m-3-1h0m1-3h0m-3-2h0m-8 0h0m-4-5h0m3-2h0m1-8h0m7-3h0m10 4h0m4 2h0m-1 0h0m7-1h0m0-3h0m-7-3h0m0-5h0m1-5h0m-10 2h0m-2 1h0m2-9h0m-10-10h0m3-11h0m4-1h0m12 14h0m11-12h0m10 19h0m4-4h0m1 7h0m6-8h0m4 3h0m0-19h0m-1-6h0m-7 5h0m6-11h0m-13-13h0m-12 3h0m4 10h0m-7 6h0m-11-5h0m-14-2h0m10-7h0m15-9h0m5-5h0m26-9h0m6-17h0m9 3h0m17 6h0m-17 12h0m-5 30h0m21-1h0m-10-9h0m24-2h0m0 2h0m1 12h0m1-31h0m37-10h0m5 13h0m8-24h0m7-4h0m15 14h0m-10 5h0m12 27h0m-50 1h0m9 7h0m7 31h0m1-3h0m-6 10h0m-11 0h0m-1 5h0m-3 0h0m5 0h0m10 1h0m-14 8h0m1 13h0m2 4h0m14-5h0m13 3h0m-4-5h0m-6-20h0m4 3h0m5 3h0m17 4h0m-2-1h0m-7 2h0m9 10h0m5-8h0m7-22h0m-21 0h0m3-3h0m36-6h0m11-22h0m19-56h0m-30-36h0m-99-13h0m-11 44h0m-40-5h0"/>
<path vector-effect="non-scaling-stroke" fill="none" stroke-linecap="square" shape-rendering="crispEdges" id="f0" d="M-48 -222h0m-42 155h0m51-30h0m13 2h0m18 60h0m-112 0h0m19 10h0m-45 63h0m56 35h0m64 4h0m-3-9h0m-28-20h0m31-29h0m40 8h0m32-4h0m-15 56h0m-12 1h0m81-36h0m-6 14h0m21-71h0m-45-48h0m-30 55h0m-39 0h0m116-138h0m-80 5h0"/>
<path vector-effect="non-scaling-stroke" fill="none" stroke-linecap="square" shape-rendering="crispEdges" id="f1" d="M-46 -189h0m-82 107h0m44-12h0m22-16h0m55 18h0m-53 45h0m15-3h0m9-9h0m23 7h0m-8 39h0m-19 12h0m2-21h0m-37 18h0m-11-52h0m-53 32h0m136 154h0m-29 1h0m-75-124h0m-6 44h0m87 43h0m7-47h0m-18-12h0m-27-28h0m21 3h0m33 12h0m38-13h0m15 2h0m-23 35h0m-10 8h0m-5 8h0m-3 20h0m27 28h0m27-46h0m21 11h0m16 25h0m-13-43h0m-24 88h0m-15-2h0m-20 21h0m99-176h0m-19-42h0m-38 39h0m-18-6h0m-22-15h0m4-34h0m-12 5h0m4-49h0m7 0h0m75 29h0m58-55h0"/>
<path vector-effect="non-scaling-stroke" fill="none" stroke-linecap="square" shape-rendering="crispEdges" id="f2" d="M-14 -166h0m-20 68h0m15-18h0m10 7h0m-13 9h0m6 25h0m-5 0h0m-38 14h0m35 6h0m-4 21h0m-19 23h0m-1-5h0m7 2h0m7-1h0m-42 1h0m-7 3h0m-56 7h0m35 165h0m-17-161h0m27 51h0m-34-16h0m61 85h0m-11-28h0m-11-12h0m0-7h0m33 2h0m21-10h0m-9 29h0m26 2h0m8 30h0m-7-37h0m-6-2h0m17-27h0m-7-27h0m3 10h0m-20-10h0m-30 17h0m13-4h0m10-21h0m21 5h0m5-6h0m47 21h0m1-3h0m4-10h0m21 15h0m-29 13h0m-22-14h0m-5-12h0m-5 13h0m20 26h0m-14 34h0m-4-3h0m21 8h0m39 11h0m-8-17h0m-6-34h0m72 2h0m-37-22h0m-8-18h0m-4-21h0m39-10h0m18 14h0m12 36h0m-3 43h0m-33 35h0m-73 21h0m-20 2h0m120-256h0m51 75h0m-84 15h0m-4-21h0m-1-5h0m-19-17h0m-5 8h0m0 14h0m4 13h0m-2 7h0m-40-6h0m12 3h0m0 8h0m0 4h0m-37-17h0m-5-8h0m27 10h0m-2-32h0m15-13h0m-6 24h0m4-3h0m18-13h0m-11-14h0m-38-18h0m14 2h0m-15-30h0m39 10h0m31-16h0m7 14h0m-17 38h0m-20-60h0m-2-4h0m-35 1h0"/>
<path vector-effect="non-scaling-stroke" fill="none" stroke-linecap="square" shape-rendering="crispEdges" id="f3" d="M-125 -196h0m28-4h0m94 59h0m-63-31h0m-37 55h0m-16 16h0m1 7h0m20 19h0m0-8h0m31-10h0m8-30h0m8 1h0m15 20h0m34-19h0m-20 9h0m-1 2h0m-9 17h0m18 16h0m6-2h0m-9 6h0m-18 6h0m-19-14h0m-2-13h0m18 44h0m14 12h0m8 11h0m-5 18h0m-5-2h0m-17 7h0m8-6h0m-11-7h0m-12 9h0m-9 3h0m-9-11h0m-3 4h0m12-8h0m-9-23h0m4-2h0m-29 10h0m-27 11h0m18 1h0m0 4h0m-18 6h0m-47-33h0m46-22h0m-3 3h0m-33-62h0m158 318h0m-5-52h0m-9 2h0m-1-6h0m1 14h0m-15-9h0m-27-4h0m-40-1h0m-28-60h0m-20-9h0m-15 11h0m25-59h0m-11-15h0m22 5h0m29 2h0m26-7h0m-1 16h0m11 22h0m-8 5h0m-29-5h0m-24 19h0m26 32h0m-20-1h0m51 18h0m-13-22h0m49-19h0m-22 57h0m7-1h0m1 2h0m19-4h0m11-4h0m16-35h0m-8 4h0m0-1h0m-21 8h0m11-48h0m-7-14h0m-6 11h0m0 4h0m11 15h0m-16-2h0m-11-6h0m-11-4h0m-1-7h0m-1-11h0m8 0h0m6-13h0m-17-10h0m7-3h0m12 1h0m7 6h0m17 18h0m14-21h0m-9 3h0m20-12h0m5 14h0m-1 8h0m21-13h0m-10-1h0m14-3h0m16 1h0m1 26h0m11 13h0m-13 16h0m-21-19h0m2-5h0m-6 1h0m0-3h0m-9-2h0m-7 20h0m8 24h0m-6-14h0m17 11h0m-13 6h0m11 31h0m6-14h0m12 3h0m14 9h0m-12-38h0m1 3h0m6 4h0m37-13h0m25 42h0m6-3h0m-20-33h0m23 3h0m1-13h0m-5-1h0m-11-8h0m-37-11h0m25 4h0m-7-9h0m-3-14h0m-9-11h0m10-2h0m8-5h0m5 20h0m-2 6h0m22-11h0m-3-13h0m39 34h0m-11 50h0m-5 34h0m-6-8h0m-109 15h0m11 61h0m34 77h0m133-298h0m-39-69h0m-7 33h0m6 40h0m-38 19h0m-20-8h0m6-10h0m-3 5h0m-10-39h0m-10 17h0m-22-20h0m9 29h0m14 18h0m-38 7h0m0-6h0m12-8h0m-12-8h0m1 3h0m-17 13h0m-6-1h0m-2 2h0m-17 5h0m1-10h0m-10-42h0m47-2h0m-10 12h0m7 8h0m-4-6h0m14 2h0m3-3h0m2-18h0m-41-9h0m-17 7h0m6-25h0m4 3h0m12 3h0m4-12h0m-8-18h0m13 8h0m34 4h0m4 18h0m12-4h0m7-5h0m-87-38h0m29-17h0m-25-43h0"/>
<path vector-effect="non-scaling-stroke" fill="none" stroke-linecap="square" shape-rendering="crispEdges" id="f4" d="M-20 -205h0m-44 2h0m57 33h0m-63 21h0m-15-14h0m-28 32h0m11 5h0m-14 21h0m18 30h0m10-5h0m-7-22h0m-1-11h0m3-13h0m23 0h0m16 5h0m2 8h0m-9 1h0m-3 4h0m1 4h0m10 4h0m8-6h0m-2 3h0m20-20h0m-5 7h0m14-4h0m11-3h0m2 7h0m-11-4h0m10 19h0m-15-11h0m-5 20h0m8 2h0m6 15h0m6-2h0m0 5h0m2 1h0m-4 4h0m-14-2h0m-6-3h0m-10-19h0m-2 1h0m-14 8h0m3 11h0m-6 14h0m-1-5h0m7 4h0m-5 0h0m7 22h0m-1-7h0m-2 1h0m-4-5h0m13 3h0m1 3h0m-3-1h0m12 9h0m4-25h0m12 1h0m12-1h0m0-2h0m2 11h0m-8 6h0m6 5h0m-10 5h0m-9-13h0m2 14h0m13 5h0m-1 10h0m9 2h0m-8 12h0m-7 0h0m-24-2h0m3-6h0m1-8h0m1 2h0m-21 2h0m-4 10h0m-8 3h0m-10-8h0m4 8h0m-9-18h0m-8-1h0m3-11h0m6 0h0m15-30h0m-11 13h0m-16 14h0m-27-7h0m0-5h0m4 2h0m2 28h0m-4 9h0m-16 6h0m-1 0h0m0-27h0m-2 1h0m-25-18h0m-1-17h0m14-30h0m-30-22h0m160 313h0m-10-36h0m14-9h0m10-14h0m-17 3h0m-7-13h0m-1 17h0m-12 11h0m0-5h0m-8-5h0m-9 10h0m21 9h0m-2 14h0m-50 6h0m11-26h0m13-4h0m-87 0h0m22-62h0m-4-15h0m-13-12h0m-1 25h0m-3-1h0m-41-36h0m17-45h0m11 8h0m-14 29h0m-2 0h0m38 3h0m3 10h0m4-35h0m-17-18h0m2-2h0m14-2h0m5 0h0m6 3h0m37 3h0m2 17h0m-6 5h0m29 10h0m-35-9h0m-13 67h0m13 19h0m-6-13h0m32 7h0m8-15h0m0-3h0m-14-6h0m-16 4h0m1-28h0m44 11h0m6-5h0m-8 36h0m-6 3h0m0-5h0m-3 9h0m29 13h0m-2-28h0m17 3h0m-4 3h0m-8 10h0m0 9h0m23-6h0m5-2h0m-14-26h0m-6 6h0m-9-6h0m8-5h0m-8-5h0m17-20h0m1-10h0m7 5h0m-24-17h0m-1 4h0m1 7h0m-7 7h0m-9-3h0m3 9h0m-21-8h0m2-11h0m4 0h0m3-7h0m9 6h0m3 6h0m6-12h0m4-4h0m-2-4h0m-7-3h0m-8-10h0m-12-3h0m4-6h0m1-3h0m1-1h0m13 4h0m-1 10h0m8-6h0m3-3h0m1-4h0m4 18h0m-4 4h0m9 4h0m7-8h0m2 4h0m7-3h0m2-11h0m-8 0h0m5-8h0m19 3h0m-1 26h0m5 0h0m-1-6h0m4-1h0m-1 4h0m6 3h0m5-17h0m9-11h0m1 5h0m15 3h0m-3 5h0m0 4h0m8 6h0m-26-10h0m1 11h0m3 15h0m10-5h0m17-5h0m-3 12h0m-3 17h0m-9-5h0m-7-8h0m-15 15h0m-4-4h0m2-9h0m-16-7h0m-2 3h0m-5 9h0m7-2h0m1 1h0m1 19h0m-1-5h0m0 13h0m-3 2h0m-6 7h0m2 1h0m0 17h0m2 18h0m18-10h0m-2-16h0m26 2h0m1 8h0m-11-6h0m2 8h0m0 5h0m-5 2h0m23-9h0m-1-14h0m-9-7h0m-8 5h0m6-15h0m1-5h0m-6 1h0m-1-2h0m0-6h0m9-1h0m5 2h0m34 46h0m35-24h0m2-7h0m-11 7h0m3 4h0m-17-2h0m4-16h0m11-41h0m-8 19h0m-3 4h0m-14 2h0m-13 2h0m16-30h0m-8-14h0m-3 8h0m-16-4h0m3-18h0m17-4h0m3 3h0m-5 2h0m-1 2h0m29 8h0m-4 9h0m28-24h0m10 29h0m-14 8h0m12-1h0m14 15h0m1-4h0m14 4h0m-26 35h0m-27 72h0m-44-11h0m-3 9h0m-20-8h0m6-10h0m-25 12h0m-21-7h0m3 21h0m-12 24h0m226-197h0m7 3h0m-43-28h0m4-56h0m-1 17h0m-21-48h0m-42-2h0m21 42h0m9 61h0m26-12h0m-7 20h0m-27-5h0m-17-5h0m-17 13h0m-11-6h0m1-3h0m4-30h0m4-5h0m-32 20h0m-10-18h0m-3-5h0m1-7h0m1 5h0m-9-2h0m0 19h0m26 20h0m-15 6h0m-3 0h0m0 5h0m-19 6h0m-5 3h0m5-7h0m3-7h0m-8-2h0m-10 0h0m-4-14h0m-3 1h0m-1 10h0m1 5h0m7 4h0m-1 9h0m-15-7h0m-1 5h0m-1 2h0m-16 1h0m4-18h0m2-9h0m16 9h0m-3-21h0m-4-4h0m-4-4h0m-15 15h0m12-12h0m-1-1h0m2-16h0m14 6h0m11-4h0m-7 6h0m14 14h0m-1-3h0m9-43h0m-11-1h0m1-9h0m-7 3h0m1 26h0m-14-4h0m4-7h0m-4 0h0m-4 8h0m-15 4h0m7-13h0m4-21h0m-11-7h0m14-13h0m4-7h0m16 25h0m10-11h0m4-11h0m-2-2h0m35 15h0m6 5h0m-24-3h0m-3 5h0m4 8h0m8 1h0m-4 14h0m24 0h0m13 12h0m2-18h0m-26-104h0m6 48h0m-54 0h0m7-1h0m-40-6h0m26-30h0m24-13h0m-18-21h0"/>
<path vector-effect="non-scaling-stroke" fill="none" stroke-linecap="square" shape-rendering="crispEdges" id="f5" d="M-155 -151h0m21 12h0m79-50h0m2 9h0m30-6h0m0-1h0m-9 38h0m2 2h0m8-2h0m19-1h0m-4 10h0m-14 5h0m1 0h0m-18-21h0m-22 12h0m4 7h0m-10 7h0m-17-1h0m-8-9h0m-2-25h0m-9-14h0m-14 45h0m-6 2h0m-6 19h0m5-6h0m23-7h0m-1 23h0m-27-1h0m4 12h0m14 19h0m-1-10h0m11-12h0m8 5h0m7 4h0m-11 20h0m17-3h0m3 1h0m8-1h0m-3-4h0m-1 0h0m5-12h0m-4-8h0m-23-10h0m12-10h0m14-7h0m25 15h0m-4 4h0m10 2h0m1-4h0m0-1h0m0-22h0m25 17h0m9 1h0m-5 4h0m6 7h0m-10 0h0m-1-6h0m-18 20h0m21-10h0m2 7h0m4 10h0m-1 8h0m3 3h0m-8-2h0m-6-2h0m-7 2h0m2-4h0m-6-1h0m0 4h0m-10-2h0m-3 0h0m-1-9h0m0 5h0m6 0h0m-2-15h0m-7 5h0m-19-11h0m-1 14h0m5 18h0m1 9h0m6 18h0m2-2h0m-5-8h0m6-1h0m14 12h0m-6-11h0m4-6h0m3-4h0m-13 0h0m5-1h0m0-5h0m9 3h0m10 3h0m4 3h0m1-6h0m5-2h0m8-2h0m-2 3h0m-7 10h0m2 2h0m-3 14h0m-4-10h0m-13 1h0m6 5h0m-4 14h0m-2 3h0m28-8h0m-1 4h0m-2-1h0m-1 7h0m-6-3h0m-1 12h0m3 0h0m2-6h0m2 0h0m1 2h0m1 6h0m-12 7h0m-1-8h0m-4-1h0m-14 9h0m-7-3h0m-2-1h0m2-6h0m3-20h0m-7 4h0m2-1h0m0 7h0m4 2h0m-10 1h0m-3-1h0m5-11h0m-10 6h0m6 17h0m4 2h0m-22-8h0m-8 8h0m1-2h0m2 0h0m-7-1h0m-6 5h0m-1-12h0m2 2h0m7-4h0m-11-14h0m8 4h0m6-1h0m13 3h0m-5-1h0m4-14h0m-13-23h0m-3 3h0m-12 2h0m0 6h0m1 4h0m7 1h0m-9 11h0m-2-19h0m-2-4h0m-3 2h0m-14 0h0m3-5h0m-14 12h0m6 12h0m-6 3h0m0 13h0m6 1h0m-1-3h0m3 7h0m0-8h0m0-2h0m0-3h0m10 1h0m12-2h0m-4 7h0m-11 9h0m2-1h0m11 12h0m-21-2h0m-6-2h0m-11-11h0m-15-8h0m-1 18h0m-2 4h0m-19-9h0m-6-4h0m6-11h0m3-2h0m-14-10h0m35 3h0m2-1h0m14 6h0m1-15h0m-7-28h0m-10 4h0m1-3h0m3-8h0m11-7h0m-7-15h0m-6 3h0m133 289h0m-1-35h0m9-23h0m-28 27h0m2-8h0m-5-15h0m-13 39h0m-18-12h0m0-12h0m-10-9h0m-22 1h0m-8 30h0m-60-28h0m27-8h0m-2 5h0m14-38h0m-47-27h0m4 52h0m-7-1h0m15-113h0m-2 51h0m2-31h0m6 1h0m20 18h0m5-19h0m-6-12h0m-20 7h0m11-18h0m12-8h0m8 14h0m-6-13h0m16-2h0m5 10h0m-7 0h0m5 21h0m2-13h0m5 11h0m12-1h0m-7-10h0m-6-17h0m15 12h0m5-4h0m8-6h0m6-2h0m2-1h0m9 12h0m-6 0h0m-3 0h0m6 7h0m2 1h0m-1 7h0m-17-5h0m-3 1h0m-2 6h0m-4 7h0m-3 3h0m13 4h0m12-4h0m-4 4h0m-2-3h0m-1 5h0m12 5h0m-3 7h0m-7-1h0m-12 2h0m5-4h0m-8 0h0m-3-5h0m-2 7h0m0 6h0m-14-6h0m13-1h0m-2-11h0m-5 0h0m-15 0h0m0 12h0m-3 8h0m7 14h0m13-10h0m-2 8h0m-6 11h0m3-3h0m8-3h0m-4 10h0m-23 32h0m6-7h0m19 4h0m-2 7h0m30-8h0m0 2h0m2-14h0m0-9h0m2 5h0m-2-16h0m-7-7h0m-18 6h0m6-3h0m4-10h0m-7-9h0m18 4h0m5 9h0m0-8h0m1-1h0m-3-3h0m13-1h0m-2 14h0m6-7h0m5-4h0m11 2h0m3 8h0m2 2h0m-12 10h0m-12-2h0m6 15h0m-8 6h0m7 17h0m1-6h0m9-1h0m-1 0h0m5 3h0m1-5h0m0-12h0m0 1h0m7-6h0m10 2h0m12 15h0m-3 7h0m11-18h0m-13-1h0m1-6h0m0-14h0m-6 11h0m-10-3h0m0-1h0m4-2h0m-2-4h0m6 2h0m-11-13h0m3-10h0m8 7h0m16-8h0m-2-1h0m-4-1h0m0-1h0m0-7h0m-3 2h0m-14-17h0m2-5h0m6 20h0m-7 8h0m-1-2h0m-14-10h0m-3 3h0m0 4h0m-3 6h0m-11 1h0m-4-3h0m10-12h0m0 3h0m-3 0h0m3 2h0m-2-7h0m-8-1h0m3-6h0m5-3h0m11-2h0m-3 11h0m0 1h0m14-9h0m-4-18h0m-8 0h0m3 6h0m1 4h0m-16-10h0m7-5h0m-7-2h0m0-6h0m2-5h0m4 3h0m1-4h0m0 1h0m7 0h0m-3 8h0m0 1h0m13 1h0m6-4h0m5-1h0m0-2h0m0 1h0m-1 6h0m1-2h0m-7 2h0m4 11h0m-2 2h0m18-4h0m8 5h0m-7-3h0m2-2h0m3-14h0m-1-5h0m13 0h0m2-1h0m1 6h0m-3 7h0m-7-5h0m5 14h0m-2 1h0m20 4h0m3 1h0m1-8h0m-4 1h0m-1-6h0m-7-10h0m1-2h0m18-2h0m0 3h0m-1 9h0m7 1h0m1-2h0m14-10h0m5 10h0m-11-2h0m12 12h0m-4 0h0m3 8h0m-22-4h0m2-7h0m0-3h0m1 4h0m-10 3h0m4 7h0m-5 1h0m3 6h0m3 5h0m4-1h0m-2 3h0m7-1h0m-6-4h0m19-6h0m-9 22h0m6-4h0m-1 1h0m2 10h0m-6-2h0m-13-6h0m-7-4h0m6 13h0m-17-2h0m1-9h0m-2 0h0m7-5h0m-3-6h0m6-5h0m-7-2h0m-8 11h0m-2 0h0m-3-1h0m5-2h0m-13 3h0m6 5h0m2 5h0m-7 7h0m21 8h0m-6 9h0m-2 2h0m5 6h0m7-6h0m3 8h0m-8 6h0m-19-9h0m-1 8h0m1 2h0m4 1h0m7 11h0m-10 18h0m1-2h0m3 2h0m11-14h0m2 0h0m2 12h0m2-13h0m-4-2h0m3-6h0m13-2h0m1-1h0m8-3h0m0 30h0m-1-4h0m-5-10h0m17-30h0m-5-2h0m-13 11h0m0-28h0m3 2h0m27 2h0m-6 5h0m0 3h0m6 2h0m2-4h0m6 1h0m0-5h0m5-2h0m3 13h0m2 3h0m-21 4h0m6 28h0m16 1h0m-7-8h0m-1-13h0m30 7h0m15-22h0m-7 2h0m-21 8h0m-1-10h0m10 4h0m3 0h0m1-7h0m13 0h0m3-17h0m-13-11h0m-2-2h0m12-11h0m-4-2h0m3 1h0m-7 1h0m-1 6h0m-12-2h0m-15 18h0m-6-10h0m-7 9h0m-4 2h0m5-5h0m-6-9h0m1-5h0m17-7h0m1-5h0m5-12h0m-15-4h0m-5-4h0m-1 5h0m-8-1h0m3-5h0m-2-5h0m1-3h0m15 1h0m20 4h0m1 9h0m0 8h0m8-2h0m8 0h0m8 1h0m9-13h0m14-8h0m-2 27h0m-4 4h0m-4-5h0m-7-7h0m-2 20h0m-2 10h0m4-1h0m19 7h0m0-7h0m-4-10h0m20-14h0m-7-9h0m2-9h0m8 1h0m4 67h0m-36 3h0m-2-11h0m-1 1h0m-2 5h0m-5 11h0m2 25h0m19-11h0m-1 21h0m-39 47h0m10-1h0m5-28h0m-3-8h0m-30 28h0m-12-20h0m5 7h0m-18 6h0m9 11h0m-15-18h0m-24-5h0m-3 12h0m-5 6h0m-7 1h0m3-7h0m3 2h0m1-1h0m-4-22h0m-7 5h0m-15 16h0m-3 13h0m25 23h0m13 12h0m155-199h0m-1-19h0m52-43h0m-98-38h0m-7 17h0m5 5h0m-5 8h0m-11-6h0m4 16h0m8 7h0m3-1h0m8 9h0m-7 4h0m12 9h0m9-20h0m25 6h0m-1 17h0m-44 28h0m3-12h0m2-14h0m-28 14h0m-2 0h0m-17 6h0m-2-7h0m9-14h0m6 4h0m5-25h0m6-4h0m-9-2h0m-16-6h0m-6-1h0m7 8h0m-2 3h0m-5 6h0m2 1h0m11 7h0m2 4h0m-16-27h0m-27 18h0m0 2h0m4-6h0m-4 10h0m-2 5h0m7 13h0m13-7h0m4-5h0m4 6h0m-5-1h0m-7 5h0m1 9h0m6-1h0m3 10h0m-6-4h0m-11-4h0m-8-3h0m-5 13h0m1-1h0m-8-3h0m-5-10h0m8 5h0m3-3h0m2-2h0m-2-15h0m-6-1h0m-3 1h0m-5 3h0m-2-3h0m-8 5h0m1 5h0m-4 5h0m5 5h0m1 5h0m2-1h0m-39 2h0m-2 0h0m9-7h0m3-6h0m2-4h0m-7-10h0m3 0h0m8 0h0m4 8h0m7 7h0m1-6h0m-8-19h0m-9 2h0m-3 2h0m-1 4h0m-10-6h0m1-5h0m-1-2h0m11 0h0m-3 4h0m7-3h0m-1-15h0m8 0h0m-1 0h0m1 4h0m-5 3h0m2 4h0m7 1h0m2-9h0m-4 0h0m10-3h0m-2 1h0m11 6h0m-7-1h0m-3 6h0m0 3h0m14 6h0m-6-1h0m8-4h0m2 5h0m1 5h0m6-14h0m-10-3h0m14-16h0m-7 0h0m-5-18h0m-5 5h0m2-12h0m-10-1h0m1 14h0m-1 13h0m-17-9h0m-2 3h0m0 2h0m3 1h0m-14-3h0m-5-5h0m6-8h0m0 2h0m2 1h0m-7-13h0m14 5h0m7-5h0m2-9h0m-7 8h0m-4-10h0m-15-20h0m9 5h0m5-6h0m18 6h0m15 0h0m-7 5h0m7 1h0m-10 3h0m2-7h0m-6 8h0m6 0h0m2 12h0m34-19h0m3 6h0m-2-13h0m5 16h0m1 2h0m13-2h0m-14 9h0m-12-8h0m0 5h0m2 2h0m0 13h0m-3 9h0m-2 11h0m9-2h0m4 1h0m11 5h0m0-16h0m-10-5h0m21-10h0m-4 21h0m25-4h0m3-4h0m-6-36h0m6-2h0m-16-19h0m-22-25h0m-18 0h0m-2 11h0m3 8h0m-9 16h0m-11-1h0m8-6h0m-2-8h0m-24-8h0m11 17h0m-32 1h0m-11-1h0m13-4h0m1-16h0m3 6h0m14-13h0m-8-10h0m-4 4h0m-7 0h0m21-11h0m30-6h0m-34-18h0m40 10h0"/>
<path vector-effect="non-scaling-stroke" fill="none" stroke-linecap="square" shape-rendering="crispEdges" id="f6" d="M-200 -206h0m18 54h0m99-72h0m35-30h0m46 53h0m-1 3h0m-55 6h0m7 7h0m-1-1h0m26-6h0m-2 9h0m6 6h0m14 2h0m6 4h0m-12 4h0m-10-1h0m-4 5h0m-2 15h0m25-4h0m1 8h0m-13 15h0m-3-15h0m-10 5h0m-11 9h0m5-16h0m-4-9h0m-8 3h0m-12-7h0m9 18h0m-4 12h0m-6-6h0m-4 4h0m-9-11h0m0-15h0m-2 9h0m7-23h0m-57 2h0m4 16h0m6 1h0m14 20h0m-12-2h0m-8 18h0m20-8h0m-1 5h0m-1 2h0m-6 8h0m4-3h0m8 12h0m-22 0h0m-1 10h0m7 18h0m0-3h0m-6 0h0m1-4h0m11-1h0m2 3h0m4 12h0m4-9h0m-5-4h0m-4-12h0m-4-6h0m9 0h0m3 7h0m3 0h0m5-5h0m8 4h0m-4 3h0m4 2h0m-1 2h0m-8 1h0m0-3h0m-2 2h0m3 18h0m4-2h0m1-1h0m4-6h0m-2-1h0m7 3h0m1 1h0m5 0h0m4 1h0m-1-12h0m2-4h0m-5-1h0m-4-5h0m5-3h0m-2-2h0m5-7h0m-5-6h0m-2 5h0m-3-4h0m0 3h0m-3 4h0m-6 0h0m1-2h0m-6 1h0m-3-8h0m4-4h0m-4-1h0m9-5h0m2-4h0m5 6h0m22-3h0m-5 6h0m-3 6h0m4 1h0m3 2h0m-6 7h0m6 3h0m-3-5h0m5 1h0m5-4h0m-4-7h0m10 6h0m11-6h0m-5-6h0m-2-6h0m10-4h0m8 6h0m-2 0h0m9-6h0m1 5h0m7 0h0m1 14h0m1-2h0m-3 7h0m-4 5h0m-1-1h0m-10-9h0m-4 10h0m-2 9h0m-3 4h0m2 5h0m0-2h0m26-5h0m0 1h0m0 2h0m-4 1h0m-2 0h0m-2-1h0m-1-2h0m2 14h0m1-2h0m6-3h0m-10 8h0m1 2h0m-6-1h0m-1-4h0m-6 0h0m0-7h0m-4 11h0m-2 3h0m-5-2h0m-8 3h0m0-2h0m7-13h0m-9-14h0m-14 6h0m4 13h0m6-4h0m0 9h0m0 2h0m-10 0h0m2 9h0m2 2h0m-5 12h0m2-2h0m-2 6h0m0-3h0m13 6h0m-2-2h0m-5-2h0m0-4h0m8-2h0m6 0h0m-3 4h0m-3 1h0m0 3h0m0 1h0m1 1h0m0 4h0m3-6h0m10 1h0m-3-3h0m3-7h0m1-5h0m-10-1h0m1-5h0m-3 1h0m0-1h0m2-4h0m14 0h0m3 5h0m-2 6h0m4 2h0m2 0h0m11-9h0m6-1h0m2-2h0m-2 6h0m1 7h0m-4-2h0m-5 1h0m-3 6h0m10-3h0m3 3h0m1 4h0m-7 2h0m-2 1h0m-4 4h0m-5-6h0m-4-6h0m0 5h0m-2-6h0m1 14h0m-2 3h0m1 5h0m-3 3h0m-2 5h0m2-3h0m2-2h0m5-2h0m0 7h0m3-6h0m-3-3h0m2-5h0m2 0h0m3 3h0m3 0h0m1-4h0m9 4h0m-3 3h0m-1 3h0m1 0h0m3 0h0m-1 2h0m-10-2h0m-3 3h0m1-1h0m1 2h0m-1 7h0m2-1h0m5-1h0m3 8h0m2 0h0m-10-2h0m-5 4h0m-2 1h0m-1-2h0m-3-1h0m0-2h0m2-1h0m5-2h0m-10-2h0m2 1h0m-4-5h0m-1 6h0m0 3h0m4 4h0m-3-1h0m-7 2h0m1-4h0m2-9h0m0-2h0m-1-2h0m-6 0h0m1-5h0m-5-3h0m-1-2h0m-1 1h0m0 1h0m-6 10h0m-2-2h0m-8-3h0m2 4h0m-4 9h0m15-7h0m0 3h0m-1 0h0m-5 8h0m0-1h0m-6 0h0m-3 5h0m-1-15h0m-2 1h0m-2 1h0m-8 1h0m1 9h0m-3 1h0m-5 0h0m0-5h0m-5 5h0m-5 2h0m3-8h0m-5 0h0m2-4h0m3-2h0m6 2h0m-3 2h0m2-13h0m-5 4h0m-4 3h0m1-3h0m6-6h0m11 9h0m8-7h0m0 7h0m0-10h0m2-4h0m0-3h0m-1-1h0m1-4h0m-6 6h0m-5 0h0m0-3h0m5-4h0m0-2h0m1-7h0m5-8h0m0-4h0m-1 0h0m-4-1h0m-4 2h0m1 6h0m-10 4h0m3-13h0m-3 2h0m-2-1h0m-7-2h0m-2 4h0m4 19h0m11-7h0m0 1h0m-6 11h0m-5 0h0m-7 2h0m0-1h0m-11-2h0m5-2h0m-7-2h0m7-4h0m4 0h0m0 3h0m4-4h0m-5-4h0m4-4h0m0-2h0m-10-8h0m-2 7h0m-3 5h0m-4 0h0m-3-5h0m-6 12h0m4 5h0m-1 2h0m12 12h0m5-3h0m8 4h0m-1-1h0m-4-1h0m5 9h0m-13 0h0m2 5h0m1 3h0m11 8h0m-6 1h0m-6-5h0m-6-5h0m-25-4h0m9 5h0m-3-8h0m-3-4h0m-18-9h0m-1 22h0m7-7h0m-18 1h0m-13 13h0m-5-7h0m8 0h0m-6-30h0m-7-7h0m30-2h0m4 5h0m-2 2h0m8 2h0m2-38h0m-8-9h0m15-6h0m-2 10h0m13-31h0m-16-1h0m-2 16h0m-27-1h0m10-8h0m-3 23h0m-4 11h0m11 5h0m-21-6h0m-32 8h0m19 37h0m-11 28h0m167 218h0m14-24h0m12-17h0m-11 7h0m-4-23h0m1 2h0m18-26h0m-12 1h0m-8 8h0m5-1h0m-8 13h0m-16-9h0m12-7h0m-2 1h0m5-14h0m-7 2h0m-11 10h0m-12 19h0m1 12h0m8-9h0m7 19h0m11-5h0m-38 7h0m-15 4h0m22-22h0m0-12h0m-19-11h0m3-9h0m-7-5h0m-5 1h0m4 16h0m-14 3h0m6-18h0m-9 6h0m-14-4h0m17 35h0m-15 19h0m14 9h0m1-3h0m-50-63h0m12-1h0m-4-8h0m-4-12h0m3-7h0m1-3h0m3 1h0m14 3h0m-3-35h0m-1 0h0m-2 0h0m-4 4h0m1 3h0m-11 5h0m5-8h0m-4 11h0m-2 6h0m6 0h0m-14 1h0m-15-16h0m5 24h0m-9 21h0m-36-1h0m-15-33h0m23-1h0m-3-22h0m11-39h0m5-3h0m4-6h0m20-5h0m-6 1h0m11 22h0m-3-1h0m-5 1h0m-17-5h0m7 12h0m10 6h0m23-10h0m-8 14h0m4 7h0m15 2h0m6-2h0m-9-21h0m9-16h0m-12 0h0m-15 5h0m23-8h0m5-3h0m7-7h0m7 8h0m-10 0h0m4 6h0m-3 8h0m8 0h0m4-3h0m-4-2h0m11 1h0m3 5h0m6 3h0m-1-9h0m0 1h0m-1-11h0m2 1h0m-13-13h0m6 1h0m1 0h0m2 5h0m11-4h0m-2 3h0m-1 4h0m-1 6h0m2 0h0m1-1h0m6-5h0m-1 5h0m6-7h0m14-2h0m-3 1h0m5 6h0m-13 0h0m-1 8h0m14 4h0m-8 3h0m-3-3h0m-4 1h0m1 4h0m-6-8h0m-5 2h0m-2 4h0m-4 6h0m3 2h0m0-2h0m4 3h0m0 1h0m-6 4h0m-1 1h0m9-1h0m-1-5h0m5-4h0m12 12h0m-8-4h0m-1 15h0m2-1h0m7-1h0m0-1h0m0 4h0m2 7h0m-1-3h0m-9-4h0m0 3h0m-6 3h0m-1-4h0m5-4h0m-3 1h0m-8-3h0m-16 9h0m-3 1h0m1-12h0m13-18h0m-5 5h0m-7-5h0m-6 6h0m2-4h0m-10 3h0m2-4h0m-7 32h0m6-1h0m-3 9h0m7-6h0m17-2h0m3 0h0m1 13h0m-7-2h0m-4-4h0m-4 2h0m2 7h0m10 6h0m-4 7h0m-6-3h0m-3-7h0m-14 17h0m0 14h0m28 3h0m2-9h0m-7 0h0m-7-3h0m7-8h0m5 3h0m5 4h0m2 13h0m17-4h0m8 4h0m2-7h0m-1-4h0m-12 4h0m4-10h0m6-15h0m-10-6h0m-11 11h0m-6-4h0m5-6h0m6 6h0m2-15h0m-3 5h0m3-6h0m1-1h0m6-5h0m8 4h0m-4-2h0m2-2h0m4 0h0m5 14h0m2-3h0m-1-4h0m3 1h0m7-2h0m4-3h0m3-3h0m4 0h0m4 5h0m-5 4h0m6 4h0m-11 3h0m5-1h0m4 7h0m-7 2h0m-2 2h0m-16-6h0m2-1h0m1 0h0m-3 9h0m-3 2h0m13 8h0m-1 1h0m-7 6h0m1 11h0m1 5h0m2-14h0m8 0h0m9 13h0m-2-9h0m0-1h0m0-2h0m3-9h0m-4 2h0m-8 1h0m10-8h0m-1 1h0m5 1h0m-1-3h0m5 5h0m7-5h0m5 3h0m-3 0h0m0 4h0m-11 4h0m7 10h0m-3 4h0m6 0h0m1 2h0m6-1h0m9-12h0m2-3h0m2-4h0m-3 4h0m-5 1h0m-4-6h0m11-1h0m0-8h0m-2-14h0m-10 3h0m-1 2h0m1 3h0m1 6h0m-2 0h0m-1-6h0m-15 1h0m7-10h0m5-4h0m-11 2h0m0-5h0m6-1h0m-1-1h0m-4-7h0m9 1h0m-3 4h0m13 1h0m-1 6h0m2-2h0m9-8h0m-6-7h0m-4 1h0m-3-2h0m2-6h0m-4 1h0m15-4h0m-1-5h0m-5 1h0m2-2h0m-3-4h0m-3 2h0m1-1h0m-11 6h0m-2 1h0m4-9h0m-2-5h0m-3 0h0m-4 5h0m2-5h0m-1 1h0m0 7h0m-4 5h0m4 8h0m2-4h0m6-1h0m0 8h0m2 6h0m-11-4h0m-10 3h0m0-6h0m2 0h0m1 0h0m-4-7h0m-5 0h0m0 11h0m-7 3h0m-5-3h0m-3-4h0m-1-2h0m11-10h0m-4-1h0m-1 0h0m-2 0h0m2 2h0m-9-3h0m0-7h0m7-1h0m0 1h0m2 3h0m0-2h0m1 0h0m5-4h0m1 1h0m1 11h0m5 3h0m6-3h0m-2-6h0m-3-3h0m5-1h0m2-3h0m-5-3h0m3-6h0m-3-2h0m-7-1h0m-1 1h0m1 11h0m-6 0h0m0-3h0m-5-7h0m6-1h0m-1-6h0m2-1h0m-12-2h0m4-5h0m-7-1h0m6-5h0m4 5h0m2-1h0m4 10h0m7-6h0m6 0h0m1 1h0m-1-3h0m2-4h0m4-2h0m-2 2h0m11-2h0m0 1h0m-2 3h0m-1 1h0m6 7h0m-8 3h0m-5-3h0m0 4h0m5 6h0m-1 1h0m4 3h0m2 3h0m3-3h0m6-7h0m-5 2h0m12 3h0m0-2h0m2-13h0m-2-1h0m-12 0h0m8-4h0m9 0h0m5 3h0m1-7h0m4 4h0m-1 5h0m5 0h0m-9 3h0m-4-4h0m-2 1h0m3 4h0m-1 0h0m-2 13h0m7 0h0m-2-2h0m7 6h0m0-12h0m4 1h0m3 0h0m2-2h0m0 6h0m0 5h0m-1-2h0m3-1h0m6 5h0m2 0h0m-5-8h0m-1-6h0m-5-2h0m-4 1h0m0-4h0m3-3h0m4 1h0m0-2h0m-3 0h0m10 0h0m2-7h0m0 2h0m6 0h0m-1 3h0m4 3h0m6 7h0m-1-6h0m1-3h0m-6-2h0m1-4h0m8 5h0m4 1h0m8-3h0m-2 1h0m3 3h0m-6-2h0m-4 9h0m-2-3h0m0 9h0m1 3h0m3-6h0m6 0h0m1-1h0m-6 12h0m-2-2h0m-1 0h0m-7 5h0m-5-2h0m-1-5h0m6 1h0m1-2h0m-3-2h0m0-5h0m-8 9h0m-4 3h0m4 9h0m1-1h0m2 2h0m-6 0h0m2 7h0m11 0h0m-2-2h0m-3-8h0m5-3h0m16 4h0m-5 3h0m5 2h0m-5 7h0m6 10h0m-8 4h0m0-4h0m-2 0h0m-2 2h0m-11 3h0m5-7h0m-19 3h0m1-2h0m-4 1h0m-5-6h0m9-4h0m4 1h0m-4-7h0m-1-5h0m-9-4h0m0 6h0m1 3h0m0-2h0m5 7h0m-3 0h0m-12-4h0m4-4h0m0-4h0m-2-2h0m-3 6h0m-1 0h0m-2 0h0m-2-7h0m4 9h0m1 3h0m-6 6h0m3 4h0m3-3h0m5-2h0m0 6h0m-1-3h0m-3 5h0m-3 4h0m-3 5h0m-1 6h0m8 6h0m3-10h0m1-3h0m0 2h0m3-3h0m4 3h0m7-2h0m-3 4h0m0 3h0m2 0h0m2 2h0m-7 5h0m1-5h0m0-2h0m-6 5h0m2 6h0m3-1h0m3-2h0m2 1h0m4 2h0m1 8h0m0 3h0m-9-3h0m-4 0h0m-5-2h0m-3-6h0m1-3h0m-1 1h0m-5 4h0m-1-3h0m-1 1h0m0-3h0m2 12h0m-4 7h0m14 1h0m-2 3h0m-6 4h0m-2 5h0m6 8h0m0-4h0m-1-2h0m15 10h0m4 0h0m-1 1h0m3 2h0m-2-6h0m-12-11h0m0-1h0m4-8h0m5-5h0m14 2h0m0 3h0m7 6h0m-9-1h0m-4 4h0m3 10h0m6 2h0m11-8h0m-5 13h0m14-4h0m-7-5h0m1-12h0m3-22h0m2-4h0m-3 3h0m-5 4h0m-3-4h0m-1-2h0m4 10h0m1 1h0m-14-4h0m1-14h0m-7 3h0m-2-10h0m11-1h0m11 4h0m-7 4h0m5 4h0m3-7h0m5-5h0m6 13h0m9-3h0m3 1h0m-6-8h0m11-4h0m6 11h0m-1 1h0m-4 2h0m4 9h0m2 1h0m-13 0h0m-7-4h0m-1-5h0m-6 4h0m1 1h0m-1 4h0m0 13h0m3 0h0m5 7h0m-2 2h0m-2-2h0m0-3h0m-1 1h0m12 11h0m2 6h0m14-8h0m6-5h0m24 16h0m-3-18h0m-7 2h0m3-4h0m9-25h0m-4 0h0m-14 7h0m-2 1h0m-4 3h0m-6-2h0m0-8h0m8-8h0m-1 4h0m-8 0h0m4-9h0m22 2h0m2 1h0m-2-7h0m-5-5h0m-5-2h0m3-2h0m0-9h0m3 1h0m2-1h0m4 4h0m-11-13h0m5 1h0m-12-5h0m-4 3h0m-5 10h0m3 3h0m-3 6h0m-6 6h0m-1-7h0m3-1h0m-1-5h0m-5 4h0m-5-1h0m-1 4h0m4 0h0m-4 5h0m-16-1h0m6-8h0m-6 1h0m9-7h0m-7-5h0m0-1h0m4-5h0m-6-4h0m16 1h0m6 2h0m-7 10h0m4 2h0m4 0h0m5 0h0m-1-7h0m1 0h0m1-2h0m-3-4h0m3 0h0m-3-6h0m1-9h0m-11 1h0m-1 2h0m1 3h0m-16 5h0m7-8h0m2-8h0m-7-12h0m8 0h0m-2 2h0m0 2h0m4-3h0m0-3h0m4 3h0m1 0h0m0 5h0m6 7h0m4-15h0m11 4h0m2 9h0m-6 7h0m-3 9h0m10-9h0m-2-4h0m11 6h0m2 5h0m6-3h0m-2 2h0m6 0h0m-5-6h0m5-4h0m-6-8h0m-9 6h0m1-2h0m10-11h0m9 2h0m-4 4h0m3 4h0m10 1h0m7 3h0m-4 8h0m5-2h0m0 2h0m-17 5h0m6 8h0m-2 0h0m-6 15h0m9 10h0m5 1h0m5 0h0m3-18h0m14-6h0m-4 24h0m26-45h0m-19-9h0m-4-4h0m-1 3h0m13 108h0m2 7h0m-10-14h0m17-39h0m-12 8h0m-7 13h0m-14-21h0m-22 0h0m10 14h0m-1 3h0m-5 4h0m2 19h0m20 27h0m-65 109h0m35-80h0m-16-35h0m-2 1h0m-10 18h0m-12-16h0m-10 10h0m-7-12h0m1-2h0m-3 0h0m2 28h0m18 13h0m-30 12h0m-25-6h0m24-25h0m5-16h0m-24-6h0m-2 11h0m-4 6h0m5 2h0m-1 10h0m-18-30h0m1 14h0m-13-14h0m-2 15h0m-3-3h0m3 7h0m0-2h0m1 8h0m9 12h0m-8 46h0m255-226h0m-45 9h0m-16-69h0m-21-2h0m-1-30h0m-43 4h0m18 15h0m5 11h0m-14 6h0m-8 5h0m3-3h0m0-9h0m-9-2h0m5 23h0m-6 11h0m10 11h0m3-12h0m9 5h0m-4 1h0m7-6h0m-1-10h0m20 7h0m-5-12h0m13 4h0m-4 8h0m-8 15h0m1-1h0m4-5h0m-3-7h0m-3 6h0m5 23h0m13-7h0m-1 13h0m-39 12h0m4-10h0m5-4h0m-2-7h0m5-5h0m-12 5h0m2 0h0m-1 4h0m-17-6h0m5 4h0m-5 0h0m13 4h0m-1 3h0m-7 7h0m-10 5h0m-17-5h0m0 1h0m-2-2h0m-7 2h0m2-2h0m-1 1h0m0-5h0m-1-4h0m10 5h0m-5-12h0m-4 5h0m3-10h0m-1-1h0m4 1h0m9 3h0m-1 2h0m10-9h0m2 0h0m-3-8h0m-4 3h0m0-5h0m-2 0h0m6-9h0m3-7h0m-14 2h0m4 3h0m-15-8h0m-5 7h0m4 1h0m2 1h0m4 3h0m2 13h0m3-1h0m-24-5h0m-6-2h0m8 1h0m6-9h0m-10-7h0m0 8h0m-10-2h0m0-2h0m2-8h0m-5-2h0m-8 3h0m1 4h0m4 5h0m-5 6h0m4 2h0m3 0h0m4-3h0m1 14h0m-6-2h0m-5 1h0m4 2h0m0 3h0m-5 6h0m5 6h0m2-5h0m6 1h0m-5-10h0m6 2h0m3 1h0m11-4h0m-3 8h0m-3 0h0m-4 9h0m0 6h0m13-1h0m-5 2h0m4 2h0m-14 3h0m-1-1h0m-5 1h0m5-11h0m-3-1h0m-8 13h0m-2 1h0m-7-5h0m-1 4h0m-4-1h0m-4-5h0m3 0h0m-1-1h0m10-6h0m-5-4h0m5-10h0m-8 3h0m-3-6h0m0 8h0m0 6h0m-2-1h0m-6 2h0m-2 0h0m0-4h0m5-7h0m-8 2h0m0 1h0m-6-7h0m0 3h0m2 1h0m3 11h0m-3 6h0m10-2h0m-3 3h0m-9 2h0m-4 3h0m3-1h0m-1-2h0m0-3h0m-3-4h0m-3 3h0m-8 2h0m2 9h0m-7-5h0m-3-2h0m1 3h0m2 2h0m-8-3h0m-3-2h0m4 1h0m0 1h0m3-2h0m3-5h0m4-5h0m-1 0h0m2-1h0m-11-5h0m8-8h0m7 2h0m2 1h0m2 4h0m-5-3h0m1 7h0m-2 0h0m0 1h0m4 3h0m3-1h0m3 0h0m4 0h0m-3-4h0m-2-9h0m0-4h0m-9-6h0m3 8h0m-2-2h0m-2-1h0m-1 3h0m-4-6h0m-4 4h0m0-1h0m-6 3h0m0-7h0m2 1h0m7-2h0m4-5h0m-1-8h0m-12 5h0m2-5h0m6-5h0m11-3h0m0 5h0m-2 6h0m5 0h0m4 2h0m-2-11h0m1 1h0m18 8h0m2 1h0m-9 1h0m-4 2h0m-1 0h0m2 2h0m5-2h0m-4 4h0m4 9h0m8-2h0m-3-2h0m-4-10h0m7 1h0m8 4h0m2 0h0m-5-7h0m2-5h0m6-2h0m-10-8h0m4-10h0m-6-1h0m14-2h0m-3-3h0m2-7h0m-1 2h0m2 1h0m-1-5h0m2-6h0m-11 5h0m0 8h0m-11-4h0m0-7h0m2 4h0m-2 1h0m-6-5h0m-2-2h0m-1 3h0m2 19h0m8-4h0m0-1h0m2 4h0m-1 5h0m-4 1h0m-9 3h0m-2-4h0m2 0h0m-6-5h0m-1 2h0m-3 0h0m2-5h0m-4-2h0m-1 2h0m5 10h0m-4 2h0m1-1h0m-2 0h0m-12-10h0m8 4h0m1-11h0m-8 3h0m-2-1h0m-3-3h0m19-7h0m1 8h0m0-4h0m4 2h0m3 5h0m-3-8h0m0-4h0m2-2h0m-2-11h0m-2 1h0m-3 0h0m-10 1h0m-5 7h0m-1-10h0m3-3h0m6 1h0m-5-8h0m-2 4h0m7-13h0m6 0h0m-1 2h0m-1 9h0m6 0h0m3-4h0m3 4h0m-3-7h0m9-6h0m0 6h0m1-2h0m6-2h0m0 1h0m3 0h0m-8 17h0m2 2h0m-4 7h0m3-1h0m8-4h0m-6-3h0m3-2h0m-3-3h0m13 0h0m0-3h0m-1-4h0m0 2h0m7-5h0m9-4h0m1 4h0m-2 0h0m1 8h0m6-11h0m4-3h0m9 13h0m-3-2h0m0 9h0m11 3h0m-9 6h0m-4-1h0m-6-7h0m-10-4h0m3 14h0m2 13h0m-7 0h0m7 14h0m4-1h0m1 0h0m-4-5h0m14 3h0m3 4h0m1-4h0m2-4h0m-3-6h0m-2 2h0m-1-6h0m18-6h0m5 1h0m-1 7h0m3 1h0m-11-1h0m-4-1h0m3 21h0m10-7h0m10-5h0m-1 11h0m5-6h0m-1 6h0m-2-11h0m1-7h0m-2-16h0m-23 3h0m2-9h0m2-3h0m9-1h0m8-17h0m-5 7h0m11-9h0m-19-25h0m12-5h0m-5-18h0m-34 29h0m0-2h0m4-5h0m-1 21h0m-4 5h0m-2-11h0m-15 5h0m-9-3h0m-18-8h0m6 4h0m-2 12h0m-21-4h0m-8-3h0m-7-7h0m31-2h0m-13-20h0m0-1h0m-4 2h0m1-1h0m25-11h0m9 6h0m-30-34h0m-9 4h0m81 5h0m54 31h0m7 31h0m-5-16h0m-106-108h0"/>
<path vector-effect="non-scaling-stroke" fill="none" stroke-linecap="square" shape-rendering="crispEdges" id="u0" d="M-7 -69h0m-27-25h0m-6 55h0m37-10h0m-17 15h0m11 8h0m-90 13h0m-1 10h0m53 76h0m35-26h0m-21-34h0m4-12h0m79 33h0m3 17h0m-29 37h0m3 0h0m23 12h0m27-12h0m-11-118h0m17 8h0m-65 17h0m9-53h0m35-25h0m-26 0h0m33-16h0"/>
<path vector-effect="non-scaling-stroke" fill="none" stroke-linecap="square" shape-rendering="crispEdges" id="u1" d="M-94 -80h0m14 7h0m12-12h0m5-15h0m36 4h0m9 20h0m-23-4h0m-7-1h0m-7 3h0m31 44h0m-38 32h0m-14-12h0m-11-17h0m19 3h0m-5-31h0m-27 17h0m32 97h0m-29 27h0m89-42h0m-55 14h0m11-22h0m12 5h0m10-35h0m27 27h0m2-15h0m19 8h0m33 12h0m12 24h0m-34-6h0m19 29h0m30-15h0m16 31h0m-27-53h0m22-101h0m-3-3h0m-7 27h0m-50 17h0m-8 3h0m1-34h0m1 14h0m16-6h0m7 3h0m11 3h0m-9-60h0m-18 21h0m-15 3h0m-6-12h0m69-14h0m18 16h0m0 9h0"/>
<path vector-effect="non-scaling-stroke" fill="none" stroke-linecap="square" shape-rendering="crispEdges" id="u2" d="M-95 -65h0m22-23h0m7-5h0m-30-6h0m77 8h0m5 10h0m9 2h0m1 2h0m-20 3h0m-26 10h0m-10 20h0m9 11h0m10-5h0m4-7h0m0-11h0m13 1h0m19 0h0m-9 49h0m-13-4h0m-7-11h0m-8-11h0m-13 5h0m-16 8h0m3-23h0m1-15h0m-6 0h0m-7 68h0m-6 23h0m-12 44h0m1 8h0m28 7h0m1-13h0m-15-10h0m47 26h0m22-30h0m10 6h0m-2-28h0m-23-7h0m-25 14h0m17-21h0m0-14h0m12 14h0m4-14h0m21 15h0m25-22h0m10-9h0m21 22h0m-24 8h0m1 17h0m21-9h0m-11 15h0m-13-3h0m-22-9h0m-4-7h0m7 24h0m-5 4h0m6 13h0m4-4h0m6 4h0m-9 6h0m23 15h0m5 2h0m6-26h0m30-6h0m2-1h0m8 14h0m4 12h0m-12-6h0m-11-5h0m0 11h0m23 7h0m-2-157h0m-3 10h0m-17 10h0m17 14h0m0 9h0m-8 10h0m-14-8h0m-15-14h0m-18 18h0m-12 5h0m-18-17h0m29-17h0m28-8h0m-5-2h0m-12-38h0m-8 2h0m-1 11h0m-1 3h0m-7-8h0m-10 11h0m-10-3h0m15-19h0m9 8h0m-4-14h0m51-3h0m5 17h0m2-5h0"/>
<path vector-effect="non-scaling-stroke" fill="none" stroke-linecap="square" shape-rendering="crispEdges" id="u3" d="M-99 -96h0m14 9h0m-8 9h0m5 12h0m5-3h0m11 4h0m-3-35h0m48 17h0m7-10h0m11 4h0m-7 10h0m10 6h0m-11-7h0m-13 9h0m-14-5h0m-2-4h0m3 3h0m9-4h0m-16 9h0m-6 37h0m12-11h0m5-17h0m30 7h0m-4 2h0m6 7h0m6-1h0m-8 8h0m-9-7h0m-12 4h0m5 8h0m6 4h0m12 1h0m-8 16h0m9 0h0m-16 12h0m-26-12h0m-1-17h0m-11 8h0m2 1h0m-10 17h0m-22-15h0m-4-6h0m15 8h0m11-9h0m-12-27h0m-11-7h0m-2 3h0m1 5h0m2 8h0m-9 2h0m0-11h0m6 65h0m26 9h0m-23-1h0m-4 18h0m14-5h0m-7 23h0m-2 42h0m-2-19h0m32-11h0m18 12h0m0-2h0m-12 5h0m17 18h0m31-4h0m2-14h0m-23-1h0m6 3h0m0-8h0m-1 3h0m20-2h0m-7-10h0m-2-17h0m-10-10h0m-16 8h0m-11-12h0m6 4h0m5-21h0m-26-17h0m10 1h0m4 1h0m13 1h0m-5-1h0m0-1h0m9-3h0m-1 3h0m18 14h0m11 1h0m-6-17h0m6 5h0m18 8h0m-9-4h0m25-2h0m6-8h0m2 5h0m17 24h0m-17-10h0m-2 7h0m-4 4h0m-1 4h0m26-1h0m-8 21h0m-19 8h0m0-6h0m-8-15h0m-3 2h0m-19-1h0m8 16h0m-3 21h0m24-8h0m-1 6h0m-12 9h0m14-5h0m-10 8h0m-6 3h0m-13 7h0m59-1h0m-13-18h0m-15 14h0m9-9h0m-10-14h0m3-3h0m31-1h0m8-1h0m20 8h0m-2 0h0m-21 22h0m28-11h0m-19-25h0m-5 1h0m-10-1h0m0-3h0m-1-5h0m14-1h0m-13-18h0m9-1h0m16 13h0m4 2h0m-26-20h0m6-16h0m19-2h0m4-68h0m-1 7h0m-12-9h0m-6-3h0m-8 2h0m3 22h0m6 13h0m-2 0h0m2-3h0m7 2h0m4-1h0m5 2h0m-9 9h0m-5-6h0m-9 13h0m-5-3h0m-10-2h0m0 3h0m6-15h0m-24 5h0m-1 1h0m1 6h0m-19 8h0m0 7h0m-11-4h0m-7 3h0m-2-16h0m9-11h0m1-10h0m9-17h0m3 6h0m5-14h0m16 4h0m-3 3h0m-4 9h0m19 11h0m-1-35h0m-1-1h0m6-5h0m-15-4h0m-2-5h0m-10-3h0m-3 16h0m-13-19h0m5 10h0m0 2h0m4-12h0m42-4h0m-1-3h0m11 10h0m-3 9h0m-5 4h0m-1 11h0m7 0h0m10-3h0m6-7h0m9-12h0m0 3h0"/>
<path vector-effect="non-scaling-stroke" fill="none" stroke-linecap="square" shape-rendering="crispEdges" id="u4" d="M-96 -87h0m16 14h0m15 7h0m-10-15h0m-4-17h0m37 1h0m4-2h0m14-1h0m-5 6h0m-2 3h0m5 6h0m2-1h0m5 2h0m17-2h0m-12 5h0m6 1h0m3 1h0m-1 6h0m-20-6h0m-7 13h0m-2-4h0m-1-13h0m-4-3h0m4-6h0m-8 3h0m0-3h0m2-1h0m-3 1h0m4 5h0m-13 5h0m4-3h0m-14 1h0m5 19h0m3 10h0m7 4h0m-14 14h0m24-3h0m6 3h0m-15-12h0m1-9h0m-1-4h0m4 1h0m14-3h0m5 4h0m-4 3h0m-2 4h0m-1 2h0m15-4h0m-3-9h0m13 5h0m4 3h0m-12 1h0m4 7h0m4 3h0m4 0h0m-10 6h0m-2 3h0m-8-11h0m-5 4h0m5 18h0m21-4h0m-14 9h0m6 7h0m9 0h0m-5 4h0m-3 6h0m-9 2h0m-2 0h0m-2-10h0m-9 2h0m4 3h0m-13-2h0m-3 6h0m3-12h0m6 3h0m1-14h0m-13 8h0m-9-2h0m0-2h0m2-9h0m-11 4h0m5 6h0m-4 7h0m14 9h0m-19 1h0m-4-12h0m-2-1h0m-20 13h0m5-7h0m1 0h0m1 0h0m2-8h0m-11-5h0m5 0h0m11-5h0m15 3h0m-5-35h0m-8-3h0m5 14h0m-13-6h0m5 2h0m-3-11h0m1 19h0m-2 4h0m3 4h0m-15-24h0m0 35h0m-3 48h0m1-5h0m25-11h0m6-1h0m-6 8h0m-2-5h0m0 12h0m10-4h0m-9 9h0m-6 3h0m-9 17h0m4 1h0m2-11h0m6 3h0m6-5h0m-6 21h0m13 8h0m-4 0h0m-12-5h0m-9-3h0m-2-2h0m-1-1h0m-7-8h0m6 56h0m9-1h0m10-1h0m4-2h0m-10-6h0m-5-6h0m-2-9h0m1 5h0m-6 0h0m0-1h0m-3-12h0m9-2h0m1 6h0m52 1h0m-4 8h0m-4-2h0m-12 7h0m14 12h0m11 0h0m19 3h0m4-12h0m-24 8h0m2-4h0m-1-25h0m9 2h0m4-1h0m1 1h0m10 1h0m-2-3h0m1-1h0m-5-7h0m1 1h0m6-7h0m1-4h0m-1-5h0m0-8h0m-2 1h0m-5-4h0m-3 7h0m4 7h0m-18 12h0m-10-9h0m-14 7h0m-9-5h0m8 1h0m2 3h0m-13-17h0m7-3h0m12-3h0m-3 14h0m6-1h0m5-11h0m3-10h0m1-5h0m-7 4h0m-7-6h0m0 9h0m-8-23h0m17-2h0m4-1h0m17 3h0m-15 14h0m20 0h0m-3 8h0m8-6h0m2-10h0m4-9h0m3 1h0m13 9h0m0 5h0m-5-2h0m-8-3h0m8 11h0m0-2h0m11 8h0m1-3h0m5 6h0m0-1h0m-2-7h0m-1-11h0m-6 2h0m2-3h0m11-6h0m-1-3h0m7 4h0m16-1h0m5 7h0m-8 11h0m0 1h0m-4-2h0m-13 12h0m21-1h0m9 8h0m-8 5h0m-6 5h0m10 6h0m-1 5h0m-6-4h0m-5 4h0m-10-12h0m-1 14h0m-16-3h0m2-7h0m-4-2h0m8-4h0m-4-14h0m-7 9h0m-5 10h0m-5 25h0m23-4h0m0 14h0m3 2h0m-14 4h0m-1 2h0m-4-2h0m-4 0h0m7-6h0m0-2h0m0-4h0m-1 16h0m22 3h0m17-5h0m-18-6h0m1-8h0m8 6h0m-2-14h0m4-8h0m10 8h0m15-7h0m-7 9h0m13-8h0m12-2h0m0 9h0m4 0h0m-4 9h0m3-1h0m-1 9h0m-7 0h0m-9 1h0m-2-4h0m26 2h0m-1-21h0m0-37h0m-8 26h0m1-10h0m-8 3h0m1 7h0m1 2h0m-4 0h0m-14 1h0m7-22h0m21 6h0m-25-17h0m-2 2h0m8-17h0m-11-10h0m9-1h0m3 1h0m8 2h0m10-5h0m2 0h0m2 6h0m-3 8h0m0 7h0m0-26h0m0-9h0m2-11h0m-1-3h0m0-28h0m0 18h0m-8 5h0m-7-9h0m13-7h0m0-11h0m-3-1h0m-5 0h0m-1 0h0m-3 8h0m-6-3h0m-2-1h0m-10 2h0m6 4h0m-7 3h0m12 6h0m3 7h0m0 15h0m5-11h0m4-1h0m0 7h0m2 2h0m-10 4h0m11 7h0m-11 9h0m-6-4h0m2 1h0m-20 2h0m-5 2h0m10-17h0m-1-7h0m-2-3h0m-9-3h0m-23 20h0m-3-1h0m-2 7h0m2 2h0m-20-4h0m-3-8h0m3-10h0m10-2h0m-1 2h0m9 9h0m9-10h0m-13-21h0m4 9h0m-9-15h0m-12-9h0m20 4h0m4-1h0m1-3h0m-1-1h0m7 1h0m14 5h0m-2 9h0m-11-2h0m1 14h0m5-2h0m3 1h0m5 1h0m10-3h0m0 5h0m5-27h0m-12-16h0m8-6h0m-9-1h0m-1 1h0m-4-4h0m-5 3h0m5 19h0m-7 0h0m-3-1h0m-10-13h0m-6 9h0m-17-2h0m15 0h0m-7-19h0m6 1h0m0-1h0m4 5h0m10 6h0m3-6h0m-5-7h0m1-3h0m-11 0h0m-1-1h0m-10 1h0m27-2h0m15 2h0m19 2h0m8 9h0m-9 7h0m10 2h0m2-3h0m7 15h0m6-7h0m-2-13h0m-8-1h0m20-3h0m0 11h0"/>
<pattern id="pA" width="4" height="4" patternUnits="userSpaceOnUse"><rect width="4" height="4" fill="#0000e0"/><rect width="2" height="2" fill="#000030"/><rect x="2" y="2" width="2" height="2" fill="#000030"/></pattern>
<pattern id="pD" width="7" height="7" patternUnits="userSpaceOnUse"><rect width="7" height="7" fill="#ffe4f6"/><rect width="3.5" height="3.5" fill="#1c0030"/><rect x="3.5" y="3.5" width="3.5" height="3.5" fill="#1c0030"/></pattern>
<pattern id="pO" width="14" height="14" patternUnits="userSpaceOnUse"><rect width="14" height="14" fill="#f88482"/><rect width="7" height="7" fill="#000"/><rect x="7" y="7" width="7" height="7" fill="#000"/></pattern>
<pattern id="pDA" width="8" height="6" patternUnits="userSpaceOnUse"><rect width="8" height="6" fill="#4208c4"/><rect x="0" y="0" width="5" height="1.6" fill="#c4109c"/><rect x="4" y="3" width="5" height="1.6" fill="#c4109c"/><rect x="-4" y="3" width="5" height="1.6" fill="#c4109c"/></pattern>
<pattern id="pOA" width="7" height="7" patternUnits="userSpaceOnUse"><rect width="7" height="7" fill="#3810ff"/><path d="M1 1h4v1.6h-2.4v3h-1.6z" fill="#ff70ff"/><rect x="5.5" y="4.5" width="1.3" height="1.3" fill="#ff70ff"/></pattern>
<pattern id="pOB" width="15" height="17.4" patternUnits="userSpaceOnUse"><rect width="15" height="17.4" fill="#1c10dc"/><path d="M0 0.5L4.5 4.35L0 8.2zM10 4.7L14 8.7L10 12.7L6 8.7z" fill="#ff2878"/></pattern>
</defs>
<clipPath id="c440"><rect x="239.5" y="201" width="476.8" height="477"/></clipPath>
<g clip-path="url(#c440)" stroke-width="2.15"><use href="#g4" stroke="#2424f4" transform="translate(311.02 582.6)scale(-0.48 0.33)rotate(340.46)"/><use href="#g3" stroke="#2424f4" transform="translate(311.02 582.6)scale(0.48 0.33)rotate(281.38)"/><use href="#g1" stroke="#2424f4" transform="translate(311.02 582.6)scale(0.48 0.33)rotate(224.99)"/><use href="#f4" stroke="#2424f4" transform="translate(334.86 582.6)scale(0.48 0.33)rotate(222.55)"/><use href="#f2" stroke="#2424f4" transform="translate(334.86 582.6)scale(-0.48 0.33)rotate(266.12)"/><use href="#f1" stroke="#2424f4" transform="translate(334.86 582.6)scale(0.48 0.33)rotate(242.29)"/><use href="#f0" stroke="#2424f4" transform="translate(334.86 582.6)scale(-0.48 0.33)rotate(241.19)"/><use href="#f6" stroke="#2424f4" transform="translate(292.9 584.99)scale(0.37 0.26)rotate(249.42)"/><use href="#f2" stroke="#2424f4" transform="translate(292.9 584.99)scale(0.37 0.26)rotate(100.59)"/><use href="#f4" stroke="#22d822" transform="translate(290.99 586.42)scale(0.29 0.21)rotate(37.83)"/><use href="#f3" stroke="#22d822" transform="translate(290.99 586.42)scale(-0.29 0.21)rotate(281.01)"/><use href="#f2" stroke="#22d822" transform="translate(290.99 586.42)scale(0.29 0.21)rotate(350.53)"/><use href="#f0" stroke="#22d822" transform="translate(290.99 586.42)scale(-0.29 0.21)rotate(346.73)"/><use href="#f3" stroke="#e8e020" transform="translate(287.18 587.37)scale(-0.2 0.15)rotate(143.35)"/><use href="#f0" stroke="#e8e020" transform="translate(287.18 587.37)scale(-0.2 0.15)rotate(229.83)"/><use href="#f1" stroke="#f0a020" transform="translate(284.8 588.32)scale(0.17 0.13)rotate(85.84)"/><use href="#f0" stroke="#f0a020" transform="translate(284.8 588.32)scale(0.17 0.13)rotate(283.91)"/><use href="#f2" stroke="#f03018" transform="translate(284.8 588.32)scale(0.16 0.13)rotate(169.46)"/><use href="#f3" stroke="#2424f4" transform="translate(292.9 584.99)scale(-0.33 0.24)rotate(242.4)"/><use href="#f2" stroke="#2424f4" transform="translate(292.9 584.99)scale(0.33 0.24)rotate(196.5)"/><use href="#f1" stroke="#2424f4" transform="translate(292.9 584.99)scale(0.33 0.24)rotate(44.54)"/><use href="#g3" stroke="#2424f4" transform="translate(287.18 487.2)scale(0.48 0.29)rotate(160.3)"/><use href="#g0" stroke="#2424f4" transform="translate(287.18 487.2)scale(-0.48 0.29)rotate(123.71)"/><use href="#u1" stroke="#2424f4" transform="translate(315.79 358.41)scale(0.76 0.95)rotate(180)"/><use href="#f3" stroke="#2424f4" transform="translate(487.44 332.18)rotate(-15)scale(0.48 0.26)rotate(107.97)"/><use href="#f2" stroke="#2424f4" transform="translate(487.44 332.18)rotate(-15)scale(0.48 0.26)rotate(297.02)"/><use href="#g1" stroke="#2424f4" transform="translate(477.9 344.1)scale(-0.57 0.38)rotate(47.1)"/><use href="#u2" stroke="#2424f4" transform="translate(477.9 515.82)scale(0.76 1.24)rotate(0)"/><use href="#u1" stroke="#2424f4" transform="translate(477.9 515.82)scale(-0.76 1.24)rotate(180)"/><use href="#g1" stroke="#2424f4" transform="translate(430.22 582.6)scale(-0.19 0.38)rotate(335.39)"/></g>
<rect x="239.5" y="622.19" width="81.06" height="55.81" fill="#fff" fill-opacity="0.85"/>
<path d="M225.51 678H239.5M239.5 678V692.29M232.5 642.1H239.5M275.38 678V685.5M232.5 621.1H239.5M296.37 678V685.5M232.5 606.2H239.5M311.27 678V685.5M232.5 594.65H239.5M322.82 678V685.5M232.5 585.21H239.5M332.26 678V685.5M232.5 577.22H239.5M340.24 678V685.5M232.5 570.31H239.5M347.15 678V685.5M232.5 564.21H239.5M353.25 678V685.5M225.51 558.75H239.5M358.7 678V692.29M232.5 522.85H239.5M394.58 678V685.5M232.5 501.85H239.5M415.57 678V685.5M232.5 486.95H239.5M430.47 678V685.5M232.5 475.4H239.5M442.02 678V685.5M232.5 465.96H239.5M451.46 678V685.5M232.5 457.97H239.5M459.44 678V685.5M232.5 451.06H239.5M466.35 678V685.5M232.5 444.96H239.5M472.45 678V685.5M225.51 439.5H239.5M477.9 678V692.29M232.5 403.6H239.5M513.78 678V685.5M232.5 382.6H239.5M534.77 678V685.5M232.5 367.7H239.5M549.67 678V685.5M232.5 356.15H239.5M561.22 678V685.5M232.5 346.71H239.5M570.66 678V685.5M232.5 338.72H239.5M578.64 678V685.5M232.5 331.81H239.5M585.55 678V685.5M232.5 325.71H239.5M591.65 678V685.5M225.51 320.25H239.5M597.1 678V692.29M232.5 284.35H239.5M632.98 678V685.5M232.5 263.35H239.5M653.97 678V685.5M232.5 248.45H239.5M668.87 678V685.5M232.5 236.9H239.5M680.42 678V685.5M232.5 227.46H239.5M689.86 678V685.5M232.5 219.47H239.5M697.84 678V685.5M232.5 212.56H239.5M704.75 678V685.5M232.5 206.46H239.5M710.85 678V685.5M225.51 201H239.5M716.3 678V692.29" stroke="#111" stroke-width="1.7" fill="none"/>
<path d="M392.4 201V678M239.5 521.9H716.3" stroke="#111" stroke-width="2" fill="none"/>
<rect x="239.5" y="201" width="476.8" height="477" fill="none" stroke="#111" stroke-width="2.6"/>
<text x="203.02" y="677.7" font-size="21.99" font-family="Liberation Sans,sans-serif" fill="#1c1c1c" text-anchor="end">10</text>
<text x="205.51" y="661.21" font-size="20.49" font-family="Liberation Sans,sans-serif" fill="#1c1c1c">0</text>
<text x="203.02" y="566.45" font-size="21.99" font-family="Liberation Sans,sans-serif" fill="#1c1c1c" text-anchor="end">10</text>
<text x="205.51" y="549.95" font-size="20.49" font-family="Liberation Sans,sans-serif" fill="#1c1c1c">1</text>
<text x="203.02" y="447.2" font-size="21.99" font-family="Liberation Sans,sans-serif" fill="#1c1c1c" text-anchor="end">10</text>
<text x="205.51" y="430.7" font-size="20.49" font-family="Liberation Sans,sans-serif" fill="#1c1c1c">2</text>
<text x="203.02" y="327.95" font-size="21.99" font-family="Liberation Sans,sans-serif" fill="#1c1c1c" text-anchor="end">10</text>
<text x="205.51" y="311.45" font-size="20.49" font-family="Liberation Sans,sans-serif" fill="#1c1c1c">3</text>
<text x="203.02" y="242.68" font-size="21.99" font-family="Liberation Sans,sans-serif" fill="#1c1c1c" text-anchor="end">10</text>
<text x="205.51" y="226.19" font-size="20.49" font-family="Liberation Sans,sans-serif" fill="#1c1c1c">4</text>
<text x="259.19" y="725.78" font-size="21.99" font-family="Liberation Sans,sans-serif" fill="#1c1c1c" text-anchor="middle">10</text>
<text x="279.18" y="709.49" font-size="20.49" font-family="Liberation Sans,sans-serif" fill="#1c1c1c" text-anchor="middle">0</text>
<text x="359.45" y="725.78" font-size="21.99" font-family="Liberation Sans,sans-serif" fill="#1c1c1c" text-anchor="middle">10</text>
<text x="379.44" y="709.49" font-size="20.49" font-family="Liberation Sans,sans-serif" fill="#1c1c1c" text-anchor="middle">1</text>
<text x="473.2" y="725.78" font-size="21.99" font-family="Liberation Sans,sans-serif" fill="#1c1c1c" text-anchor="middle">10</text>
<text x="493.19" y="709.49" font-size="20.49" font-family="Liberation Sans,sans-serif" fill="#1c1c1c" text-anchor="middle">2</text>
<text x="583.96" y="725.78" font-size="21.99" font-family="Liberation Sans,sans-serif" fill="#1c1c1c" text-anchor="middle">10</text>
<text x="603.95" y="709.49" font-size="20.49" font-family="Liberation Sans,sans-serif" fill="#1c1c1c" text-anchor="middle">3</text>
<text x="697.11" y="725.78" font-size="21.99" font-family="Liberation Sans,sans-serif" fill="#1c1c1c" text-anchor="middle">10</text>
<text x="717.1" y="709.49" font-size="20.49" font-family="Liberation Sans,sans-serif" fill="#1c1c1c" text-anchor="middle">4</text>
<text x="248.5" y="224.99" font-size="21.19" font-family="Liberation Sans,sans-serif" fill="#222">Q1</text>
<text x="248.5" y="255.38" font-size="21.19" font-family="Liberation Sans,sans-serif" fill="#222">4.49%</text>
<text x="643.73" y="224.99" font-size="21.19" font-family="Liberation Sans,sans-serif" fill="#222">Q2</text>
<text x="643.73" y="255.38" font-size="21.19" font-family="Liberation Sans,sans-serif" fill="#222">9.02%</text>
<text x="643.73" y="639.62" font-size="21.19" font-family="Liberation Sans,sans-serif" fill="#222">Q3</text>
<text x="643.73" y="669.4" font-size="21.19" font-family="Liberation Sans,sans-serif" fill="#222">3.57%</text>
<text x="248.5" y="639.62" font-size="21.19" font-family="Liberation Sans,sans-serif" fill="#222">Q4</text>
<text x="248.5" y="669.4" font-size="21.19" font-family="Liberation Sans,sans-serif" fill="#222">82.9%</text>
<text x="477.5" y="787.3" font-size="22.29" font-family="Liberation Sans,sans-serif" fill="#1c1c1c" text-anchor="middle">FL1-H:: Annexin V FITC</text>
<text x="135.6" y="448.5" font-size="22.29" font-family="Liberation Sans,sans-serif" fill="#1c1c1c" text-anchor="middle" transform="rotate(-90 135.6 441)">FL3-H:: PI</text>
<text x="366.3" y="174.4" font-size="51" font-family="Liberation Serif,serif" fill="#000" textLength="185.2" lengthAdjust="spacingAndGlyphs">contorol</text>
<clipPath id="c1148"><rect x="940.3" y="208.1" width="477.6" height="477.6"/></clipPath>
<g clip-path="url(#c1148)" stroke-width="2.15"><use href="#g4" stroke="#2424f4" transform="translate(1083.58 590.18)scale(-0.81 0.36)rotate(249.63)"/><use href="#g3" stroke="#2424f4" transform="translate(1083.58 590.18)scale(-0.81 0.36)rotate(81.72)"/><use href="#f5" stroke="#2424f4" transform="translate(1044.18 590.18)scale(-0.48 0.26)rotate(69.56)"/><use href="#f4" stroke="#2424f4" transform="translate(1044.18 590.18)scale(-0.48 0.26)rotate(283.51)"/><use href="#f3" stroke="#2424f4" transform="translate(1044.18 590.18)scale(0.48 0.26)rotate(103.27)"/><use href="#f2" stroke="#2424f4" transform="translate(1044.18 590.18)scale(0.48 0.26)rotate(176.33)"/><use href="#f4" stroke="#2424f4" transform="translate(1131.34 578.24)scale(0.32 0.23)rotate(119.1)"/><use href="#f3" stroke="#2424f4" transform="translate(1131.34 578.24)scale(-0.32 0.23)rotate(126.84)"/><use href="#f1" stroke="#2424f4" transform="translate(1131.34 578.24)scale(-0.32 0.23)rotate(324.76)"/><use href="#f3" stroke="#22d822" transform="translate(1047.76 590.18)scale(0.38 0.19)rotate(246.69)"/><use href="#f2" stroke="#22d822" transform="translate(1047.76 590.18)scale(0.38 0.19)rotate(38.42)"/><use href="#f1" stroke="#22d822" transform="translate(1047.76 590.18)scale(0.38 0.19)rotate(220.63)"/><use href="#f0" stroke="#22d822" transform="translate(1047.76 590.18)scale(0.38 0.19)rotate(5.29)"/><use href="#f1" stroke="#e8e020" transform="translate(1047.76 592.57)scale(-0.29 0.14)rotate(200.95)"/><use href="#f0" stroke="#e8e020" transform="translate(1047.76 592.57)scale(0.29 0.14)rotate(56.39)"/><use href="#f2" stroke="#f03018" transform="translate(1047.76 592.57)scale(-0.29 0.14)rotate(1.74)"/><use href="#f1" stroke="#f03018" transform="translate(1047.76 592.57)scale(-0.29 0.14)rotate(236.41)"/><use href="#f2" stroke="#22d822" transform="translate(1131.34 578.24)scale(0.24 0.17)rotate(84.2)"/><use href="#f0" stroke="#22d822" transform="translate(1131.34 578.24)scale(-0.24 0.17)rotate(86.49)"/><use href="#f4" stroke="#2424f4" transform="translate(1059.7 590.18)scale(-0.48 0.24)rotate(314.02)"/><use href="#f4" stroke="#2424f4" transform="translate(1035.82 351.38)scale(0.62 0.21)rotate(221.65)"/><use href="#f1" stroke="#2424f4" transform="translate(1035.82 351.38)scale(-0.62 0.21)rotate(23.19)"/><use href="#g4" stroke="#2424f4" transform="translate(1112.24 446.9)scale(-0.62 0.53)rotate(26.67)"/><use href="#g2" stroke="#2424f4" transform="translate(1112.24 446.9)scale(-0.62 0.53)rotate(78.57)"/><use href="#g0" stroke="#2424f4" transform="translate(1112.24 446.9)scale(-0.62 0.53)rotate(111.03)"/></g>
<rect x="940.3" y="629.82" width="81.19" height="55.88" fill="#fff" fill-opacity="0.8"/>
<path d="M926.28 685.7H940.3M940.3 685.7V700.02M933.29 649.76H940.3M976.24 685.7V693.21M933.29 628.73H940.3M997.27 685.7V693.21M933.29 613.81H940.3M1012.19 685.7V693.21M933.29 602.24H940.3M1023.76 685.7V693.21M933.29 592.79H940.3M1033.21 685.7V693.21M933.29 584.8H940.3M1041.2 685.7V693.21M933.29 577.87H940.3M1048.13 685.7V693.21M933.29 571.76H940.3M1054.24 685.7V693.21M926.28 566.3H940.3M1059.7 685.7V700.02M933.29 530.36H940.3M1095.64 685.7V693.21M933.29 509.33H940.3M1116.67 685.7V693.21M933.29 494.41H940.3M1131.59 685.7V693.21M933.29 482.84H940.3M1143.16 685.7V693.21M933.29 473.39H940.3M1152.61 685.7V693.21M933.29 465.4H940.3M1160.6 685.7V693.21M933.29 458.47H940.3M1167.53 685.7V693.21M933.29 452.36H940.3M1173.64 685.7V693.21M926.28 446.9H940.3M1179.1 685.7V700.02M933.29 410.96H940.3M1215.04 685.7V693.21M933.29 389.93H940.3M1236.07 685.7V693.21M933.29 375.01H940.3M1250.99 685.7V693.21M933.29 363.44H940.3M1262.56 685.7V693.21M933.29 353.99H940.3M1272.01 685.7V693.21M933.29 346H940.3M1280 685.7V693.21M933.29 339.07H940.3M1286.93 685.7V693.21M933.29 332.96H940.3M1293.04 685.7V693.21M926.28 327.5H940.3M1298.5 685.7V700.02M933.29 291.56H940.3M1334.44 685.7V693.21M933.29 270.53H940.3M1355.47 685.7V693.21M933.29 255.61H940.3M1370.39 685.7V693.21M933.29 244.04H940.3M1381.96 685.7V693.21M933.29 234.59H940.3M1391.41 685.7V693.21M933.29 226.6H940.3M1399.4 685.7V693.21M933.29 219.67H940.3M1406.33 685.7V693.21M933.29 213.56H940.3M1412.44 685.7V693.21M926.28 208.1H940.3M1417.9 685.7V700.02" stroke="#111" stroke-width="1.7" fill="none"/>
<path d="M1095.3 208.1V685.7M940.3 530.7H1417.9" stroke="#111" stroke-width="2" fill="none"/>
<rect x="940.3" y="208.1" width="477.6" height="477.6" fill="none" stroke="#111" stroke-width="2.6"/>
<text x="903.75" y="685.4" font-size="22.03" font-family="Liberation Sans,sans-serif" fill="#1c1c1c" text-anchor="end">10</text>
<text x="906.26" y="668.88" font-size="20.53" font-family="Liberation Sans,sans-serif" fill="#1c1c1c">0</text>
<text x="903.75" y="574.01" font-size="22.03" font-family="Liberation Sans,sans-serif" fill="#1c1c1c" text-anchor="end">10</text>
<text x="906.26" y="557.49" font-size="20.53" font-family="Liberation Sans,sans-serif" fill="#1c1c1c">1</text>
<text x="903.75" y="454.61" font-size="22.03" font-family="Liberation Sans,sans-serif" fill="#1c1c1c" text-anchor="end">10</text>
<text x="906.26" y="438.09" font-size="20.53" font-family="Liberation Sans,sans-serif" fill="#1c1c1c">2</text>
<text x="903.75" y="335.21" font-size="22.03" font-family="Liberation Sans,sans-serif" fill="#1c1c1c" text-anchor="end">10</text>
<text x="906.26" y="318.69" font-size="20.53" font-family="Liberation Sans,sans-serif" fill="#1c1c1c">3</text>
<text x="903.75" y="249.85" font-size="22.03" font-family="Liberation Sans,sans-serif" fill="#1c1c1c" text-anchor="end">10</text>
<text x="906.26" y="233.33" font-size="20.53" font-family="Liberation Sans,sans-serif" fill="#1c1c1c">4</text>
<text x="960.02" y="733.56" font-size="22.03" font-family="Liberation Sans,sans-serif" fill="#1c1c1c" text-anchor="middle">10</text>
<text x="980.05" y="717.24" font-size="20.53" font-family="Liberation Sans,sans-serif" fill="#1c1c1c" text-anchor="middle">0</text>
<text x="1060.45" y="733.56" font-size="22.03" font-family="Liberation Sans,sans-serif" fill="#1c1c1c" text-anchor="middle">10</text>
<text x="1080.48" y="717.24" font-size="20.53" font-family="Liberation Sans,sans-serif" fill="#1c1c1c" text-anchor="middle">1</text>
<text x="1174.39" y="733.56" font-size="22.03" font-family="Liberation Sans,sans-serif" fill="#1c1c1c" text-anchor="middle">10</text>
<text x="1194.42" y="717.24" font-size="20.53" font-family="Liberation Sans,sans-serif" fill="#1c1c1c" text-anchor="middle">2</text>
<text x="1285.33" y="733.56" font-size="22.03" font-family="Liberation Sans,sans-serif" fill="#1c1c1c" text-anchor="middle">10</text>
<text x="1305.36" y="717.24" font-size="20.53" font-family="Liberation Sans,sans-serif" fill="#1c1c1c" text-anchor="middle">3</text>
<text x="1398.68" y="733.56" font-size="22.03" font-family="Liberation Sans,sans-serif" fill="#1c1c1c" text-anchor="middle">10</text>
<text x="1418.7" y="717.24" font-size="20.53" font-family="Liberation Sans,sans-serif" fill="#1c1c1c" text-anchor="middle">4</text>
<text x="949.31" y="232.13" font-size="21.23" font-family="Liberation Sans,sans-serif" fill="#222">Q1</text>
<text x="949.31" y="262.57" font-size="21.23" font-family="Liberation Sans,sans-serif" fill="#222">9.88%</text>
<text x="1345.21" y="232.13" font-size="21.23" font-family="Liberation Sans,sans-serif" fill="#222">Q2</text>
<text x="1345.21" y="262.57" font-size="21.23" font-family="Liberation Sans,sans-serif" fill="#222">6.15%</text>
<text x="1345.21" y="647.25" font-size="21.23" font-family="Liberation Sans,sans-serif" fill="#222">Q3</text>
<text x="1345.21" y="677.09" font-size="21.23" font-family="Liberation Sans,sans-serif" fill="#222">25.5%</text>
<text x="949.31" y="647.25" font-size="21.23" font-family="Liberation Sans,sans-serif" fill="#222">Q4</text>
<text x="949.31" y="677.09" font-size="21.23" font-family="Liberation Sans,sans-serif" fill="#222">58.4%</text>
<text x="1178" y="795.5" font-size="22.33" font-family="Liberation Sans,sans-serif" fill="#1c1c1c" text-anchor="middle">FL1-H:: Annexin V-FITC</text>
<text x="835.6" y="455.21" font-size="22.33" font-family="Liberation Sans,sans-serif" fill="#1c1c1c" text-anchor="middle" transform="rotate(-90 835.6 447.7)">FL3-H:: PI</text>
<text x="1111.1" y="173.3" font-size="52.5" font-family="Liberation Serif,serif" fill="#000" textLength="111.1" lengthAdjust="spacingAndGlyphs">ATO</text>
<clipPath id="c1822"><rect x="1617" y="205.6" width="466.3" height="467.1"/></clipPath>
<g clip-path="url(#c1822)" stroke-width="2.1"><use href="#g4" stroke="#2424f4" transform="translate(1710.26 602.63)scale(0.47 0.37)rotate(209.43)"/><use href="#g2" stroke="#2424f4" transform="translate(1710.26 602.63)scale(-0.47 0.37)rotate(44.35)"/><use href="#f6" stroke="#2424f4" transform="translate(1695.8 611.98)scale(0.37 0.35)rotate(110.33)"/><use href="#f3" stroke="#2424f4" transform="translate(1695.8 611.98)scale(0.37 0.35)rotate(101.36)"/><use href="#f2" stroke="#2424f4" transform="translate(1695.8 611.98)scale(-0.37 0.35)rotate(74.39)"/><use href="#f4" stroke="#22d822" transform="translate(1695.8 611.98)scale(0.29 0.27)rotate(59.04)"/><use href="#f3" stroke="#22d822" transform="translate(1695.8 611.98)scale(0.29 0.27)rotate(49.98)"/><use href="#f2" stroke="#22d822" transform="translate(1695.8 611.98)scale(-0.29 0.27)rotate(268.91)"/><use href="#f1" stroke="#22d822" transform="translate(1695.8 611.98)scale(-0.29 0.27)rotate(10.46)"/><use href="#f1" stroke="#e8e020" transform="translate(1695.8 614.31)scale(0.19 0.16)rotate(310.8)"/><use href="#f0" stroke="#e8e020" transform="translate(1695.8 614.31)scale(-0.19 0.16)rotate(273.06)"/><use href="#f1" stroke="#f03018" transform="translate(1695.8 614.31)scale(-0.14 0.12)rotate(217.26)"/><use href="#f2" stroke="#2424f4" transform="translate(1640.32 449.43)scale(0.23 0.19)rotate(63.62)"/><use href="#f3" stroke="#2424f4" transform="translate(1725.65 458.77)scale(-0.28 0.21)rotate(215.98)"/><use href="#f2" stroke="#2424f4" transform="translate(1686.94 462.5)scale(-0.47 0.28)rotate(96.27)"/><use href="#f1" stroke="#2424f4" transform="translate(1686.94 462.5)scale(0.47 0.28)rotate(95.19)"/><use href="#f0" stroke="#2424f4" transform="translate(1686.94 462.5)scale(0.47 0.28)rotate(252.68)"/><use href="#u1" stroke="#2424f4" transform="translate(1719.59 513.89)scale(-0.51 0.23)rotate(270)"/><use href="#u0" stroke="#2424f4" transform="translate(1719.59 513.89)scale(0.51 0.23)rotate(270)"/><use href="#f2" stroke="#2424f4" transform="translate(1785.8 426.54)scale(-0.23 0.19)rotate(125.72)"/><use href="#f0" stroke="#2424f4" transform="translate(1785.8 426.54)scale(0.23 0.19)rotate(223.82)"/><use href="#f3" stroke="#2424f4" transform="translate(1840.82 449.43)scale(0.47 0.33)rotate(68.32)"/><use href="#f1" stroke="#2424f4" transform="translate(1840.82 449.43)scale(-0.47 0.33)rotate(182.55)"/><use href="#f0" stroke="#2424f4" transform="translate(1840.82 449.43)scale(0.47 0.33)rotate(66.86)"/><use href="#f2" stroke="#2424f4" transform="translate(1910.77 461.1)scale(-0.16 0.28)rotate(95.61)"/><use href="#f1" stroke="#2424f4" transform="translate(1910.77 461.1)scale(0.16 0.28)rotate(134.94)"/><use href="#f0" stroke="#2424f4" transform="translate(1910.77 461.1)scale(-0.16 0.28)rotate(304.38)"/><use href="#f2" stroke="#2424f4" transform="translate(1906.11 512.02)scale(-0.19 0.28)rotate(104.27)"/><use href="#f0" stroke="#2424f4" transform="translate(1906.11 512.02)scale(0.19 0.28)rotate(22.12)"/><use href="#f4" stroke="#2424f4" transform="translate(1894.91 593.29)rotate(20)scale(-0.21 0.35)rotate(109.59)"/><use href="#f1" stroke="#2424f4" transform="translate(1894.91 593.29)rotate(20)scale(-0.21 0.35)rotate(221.68)"/><use href="#f0" stroke="#2424f4" transform="translate(1894.91 593.29)rotate(20)scale(-0.21 0.35)rotate(92.81)"/><use href="#f0" stroke="#22d822" transform="translate(1896.78 579.28)scale(-0.19 0.37)rotate(135.83)"/><use href="#f3" stroke="#2424f4" transform="translate(1803.52 602.63)scale(-0.28 0.33)rotate(146.17)"/><use href="#u2" stroke="#2424f4" transform="translate(1826.84 513.89)scale(-0.47 0.28)rotate(180)"/></g>
<rect x="1617" y="614.31" width="78.8" height="58.39" fill="#fff" fill-opacity="0.88"/>
<path d="M1603.31 672.7H1617M1617 672.7V686.68M1610.16 637.55H1617M1652.09 672.7V680.03M1610.16 616.98H1617M1672.62 672.7V680.03M1610.16 602.39H1617M1687.19 672.7V680.03M1610.16 591.08H1617M1698.48 672.7V680.03M1610.16 581.83H1617M1707.71 672.7V680.03M1610.16 574.01H1617M1715.52 672.7V680.03M1610.16 567.24H1617M1722.28 672.7V680.03M1610.16 561.27H1617M1728.24 672.7V680.03M1603.31 555.93H1617M1733.58 672.7V686.68M1610.16 520.77H1617M1768.67 672.7V680.03M1610.16 500.21H1617M1789.2 672.7V680.03M1610.16 485.62H1617M1803.76 672.7V680.03M1610.16 474.3H1617M1815.06 672.7V680.03M1610.16 465.06H1617M1824.29 672.7V680.03M1610.16 457.24H1617M1832.09 672.7V680.03M1610.16 450.47H1617M1838.85 672.7V680.03M1610.16 444.49H1617M1844.82 672.7V680.03M1603.31 439.15H1617M1850.15 672.7V686.68M1610.16 404H1617M1885.24 672.7V680.03M1610.16 383.43H1617M1905.77 672.7V680.03M1610.16 368.84H1617M1920.34 672.7V680.03M1610.16 357.53H1617M1931.63 672.7V680.03M1610.16 348.28H1617M1940.86 672.7V680.03M1610.16 340.46H1617M1948.67 672.7V680.03M1610.16 333.69H1617M1955.43 672.7V680.03M1610.16 327.72H1617M1961.39 672.7V680.03M1603.31 322.38H1617M1966.73 672.7V686.68M1610.16 287.22H1617M2001.82 672.7V680.03M1610.16 266.66H1617M2022.35 672.7V680.03M1610.16 252.07H1617M2036.91 672.7V680.03M1610.16 240.75H1617M2048.21 672.7V680.03M1610.16 231.51H1617M2057.44 672.7V680.03M1610.16 223.69H1617M2065.24 672.7V680.03M1610.16 216.92H1617M2072 672.7V680.03M1610.16 210.94H1617M2077.97 672.7V680.03M1603.31 205.6H1617M2083.3 672.7V686.68" stroke="#111" stroke-width="1.66" fill="none"/>
<path d="M1764.9 205.6V672.7M1617 539.9H2083.3" stroke="#111" stroke-width="1.96" fill="none"/>
<rect x="1617" y="205.6" width="466.3" height="467.1" fill="none" stroke="#111" stroke-width="2.54"/>
<text x="1581.32" y="672.41" font-size="21.51" font-family="Liberation Sans,sans-serif" fill="#1c1c1c" text-anchor="end">10</text>
<text x="1583.76" y="656.28" font-size="20.04" font-family="Liberation Sans,sans-serif" fill="#1c1c1c">0</text>
<text x="1581.32" y="563.45" font-size="21.51" font-family="Liberation Sans,sans-serif" fill="#1c1c1c" text-anchor="end">10</text>
<text x="1583.76" y="547.32" font-size="20.04" font-family="Liberation Sans,sans-serif" fill="#1c1c1c">1</text>
<text x="1581.32" y="446.68" font-size="21.51" font-family="Liberation Sans,sans-serif" fill="#1c1c1c" text-anchor="end">10</text>
<text x="1583.76" y="430.55" font-size="20.04" font-family="Liberation Sans,sans-serif" fill="#1c1c1c">2</text>
<text x="1581.32" y="329.9" font-size="21.51" font-family="Liberation Sans,sans-serif" fill="#1c1c1c" text-anchor="end">10</text>
<text x="1583.76" y="313.77" font-size="20.04" font-family="Liberation Sans,sans-serif" fill="#1c1c1c">3</text>
<text x="1581.32" y="246.36" font-size="21.51" font-family="Liberation Sans,sans-serif" fill="#1c1c1c" text-anchor="end">10</text>
<text x="1583.76" y="230.23" font-size="20.04" font-family="Liberation Sans,sans-serif" fill="#1c1c1c">4</text>
<text x="1636.26" y="719.43" font-size="21.51" font-family="Liberation Sans,sans-serif" fill="#1c1c1c" text-anchor="middle">10</text>
<text x="1655.81" y="703.49" font-size="20.04" font-family="Liberation Sans,sans-serif" fill="#1c1c1c" text-anchor="middle">0</text>
<text x="1734.31" y="719.43" font-size="21.51" font-family="Liberation Sans,sans-serif" fill="#1c1c1c" text-anchor="middle">10</text>
<text x="1753.86" y="703.49" font-size="20.04" font-family="Liberation Sans,sans-serif" fill="#1c1c1c" text-anchor="middle">1</text>
<text x="1845.56" y="719.43" font-size="21.51" font-family="Liberation Sans,sans-serif" fill="#1c1c1c" text-anchor="middle">10</text>
<text x="1865.11" y="703.49" font-size="20.04" font-family="Liberation Sans,sans-serif" fill="#1c1c1c" text-anchor="middle">2</text>
<text x="1953.87" y="719.43" font-size="21.51" font-family="Liberation Sans,sans-serif" fill="#1c1c1c" text-anchor="middle">10</text>
<text x="1973.42" y="703.49" font-size="20.04" font-family="Liberation Sans,sans-serif" fill="#1c1c1c" text-anchor="middle">3</text>
<text x="2064.53" y="719.43" font-size="21.51" font-family="Liberation Sans,sans-serif" fill="#1c1c1c" text-anchor="middle">10</text>
<text x="2084.08" y="703.49" font-size="20.04" font-family="Liberation Sans,sans-serif" fill="#1c1c1c" text-anchor="middle">4</text>
<text x="1625.8" y="229.06" font-size="20.72" font-family="Liberation Sans,sans-serif" fill="#222">Q1</text>
<text x="1625.8" y="258.78" font-size="20.72" font-family="Liberation Sans,sans-serif" fill="#222">12.3%</text>
<text x="2012.33" y="229.06" font-size="20.72" font-family="Liberation Sans,sans-serif" fill="#222">Q2</text>
<text x="2012.33" y="258.78" font-size="20.72" font-family="Liberation Sans,sans-serif" fill="#222">12.6%</text>
<text x="2012.33" y="635.16" font-size="20.72" font-family="Liberation Sans,sans-serif" fill="#222">Q3</text>
<text x="2012.33" y="664.29" font-size="20.72" font-family="Liberation Sans,sans-serif" fill="#222">14.2%</text>
<text x="1625.8" y="635.16" font-size="20.72" font-family="Liberation Sans,sans-serif" fill="#222">Q4</text>
<text x="1625.8" y="664.29" font-size="20.72" font-family="Liberation Sans,sans-serif" fill="#222">61.0%</text>
<text x="1849.5" y="779.5" font-size="21.8" font-family="Liberation Sans,sans-serif" fill="#1c1c1c" text-anchor="middle">Annexin V-FITC</text>
<text x="1515.6" y="446.63" font-size="21.8" font-family="Liberation Sans,sans-serif" fill="#1c1c1c" text-anchor="middle" transform="rotate(-90 1515.6 439.3)">PI</text>
<text x="1770.2" y="181.7" font-size="52.5" font-family="Liberation Serif,serif" fill="#000" textLength="121.5" lengthAdjust="spacingAndGlyphs">DOC</text>
<clipPath id="c1168"><rect x="223" y="945.1" width="514.9" height="513.1"/></clipPath>
<g clip-path="url(#c1168)" stroke-width="2.1"><use href="#f5" stroke="#3434dc" transform="translate(269.34 1354.55)scale(0.26 0.22)rotate(143.94)"/><use href="#f3" stroke="#3434dc" transform="translate(269.34 1354.55)scale(-0.26 0.22)rotate(59.03)"/><use href="#f2" stroke="#2088d8" transform="translate(269.34 1355.58)scale(-0.21 0.18)rotate(93.02)"/><use href="#f1" stroke="#2088d8" transform="translate(269.34 1355.58)scale(-0.21 0.18)rotate(36.78)"/><use href="#f6" stroke="#3434dc" transform="translate(338.85 1354.55)scale(-0.32 0.33)rotate(146.75)"/><use href="#f4" stroke="#3434dc" transform="translate(338.85 1354.55)scale(0.32 0.33)rotate(40.84)"/><use href="#f3" stroke="#3434dc" transform="translate(338.85 1354.55)scale(-0.32 0.33)rotate(268.54)"/><use href="#g4" stroke="#3434dc" transform="translate(340.4 1354.55)scale(0.39 0.38)rotate(15.64)"/><use href="#g2" stroke="#3434dc" transform="translate(340.4 1354.55)scale(-0.39 0.38)rotate(9.09)"/><use href="#f5" stroke="#3434dc" transform="translate(346.58 1422.28)scale(0.21 0.26)rotate(180.22)"/><use href="#f1" stroke="#3434dc" transform="translate(346.58 1422.28)scale(0.21 0.26)rotate(304.18)"/><use href="#f2" stroke="#2088d8" transform="translate(346.58 1417.15)scale(0.15 0.23)rotate(152.4)"/><use href="#f1" stroke="#2088d8" transform="translate(346.58 1417.15)scale(0.15 0.23)rotate(164.97)"/><use href="#f6" stroke="#22d822" transform="translate(339.37 1354.55)scale(-0.27 0.28)rotate(158.69)"/><use href="#f4" stroke="#22d822" transform="translate(339.37 1354.55)scale(-0.27 0.28)rotate(195.44)"/><use href="#f2" stroke="#22d822" transform="translate(339.37 1354.55)scale(0.27 0.28)rotate(21.98)"/><use href="#f4" stroke="#e8e020" transform="translate(342.46 1353.01)scale(-0.15 0.19)rotate(116.68)"/><use href="#f2" stroke="#f0a020" transform="translate(343.49 1350.45)scale(-0.13 0.15)rotate(134.79)"/><use href="#f1" stroke="#f0a020" transform="translate(343.49 1350.45)scale(0.13 0.15)rotate(159.04)"/><use href="#f1" stroke="#f03018" transform="translate(344.52 1348.91)scale(-0.1 0.13)rotate(192.51)"/><use href="#f0" stroke="#f03018" transform="translate(344.52 1348.91)scale(0.1 0.13)rotate(225.56)"/><use href="#f3" stroke="#3434dc" transform="translate(428.96 1355.58)scale(0.26 0.31)rotate(86.01)"/><use href="#f2" stroke="#3434dc" transform="translate(428.96 1355.58)scale(-0.26 0.31)rotate(100.94)"/><use href="#u2" stroke="#3434dc" transform="translate(593.73 1391.5)scale(-1.44 0.67)rotate(270)"/><use href="#u1" stroke="#3434dc" transform="translate(593.73 1391.5)scale(-1.44 0.67)rotate(90)"/><use href="#u0" stroke="#3434dc" transform="translate(593.73 1391.5)scale(-1.44 0.67)rotate(180)"/><use href="#g2" stroke="#3434dc" transform="translate(480.45 1381.24)scale(0.51 0.36)rotate(161.86)"/><use href="#g1" stroke="#3434dc" transform="translate(480.45 1381.24)scale(-0.51 0.36)rotate(18.05)"/><use href="#f3" stroke="#3434dc" transform="translate(531.94 1047.72)scale(-0.72 0.28)rotate(129.32)"/><use href="#f2" stroke="#3434dc" transform="translate(531.94 1047.72)scale(-0.72 0.28)rotate(105.26)"/><use href="#f0" stroke="#3434dc" transform="translate(531.94 1047.72)scale(0.72 0.28)rotate(181.81)"/><use href="#f3" stroke="#3434dc" transform="translate(518.04 1172.92)scale(-0.51 0.31)rotate(209.53)"/><use href="#f2" stroke="#3434dc" transform="translate(518.04 1172.92)scale(0.51 0.31)rotate(31.15)"/><use href="#g3" stroke="#3434dc" transform="translate(531.94 1114.42)scale(-0.67 0.67)rotate(181.27)"/><use href="#g2" stroke="#3434dc" transform="translate(531.94 1114.42)scale(0.67 0.67)rotate(35.95)"/><use href="#g2" stroke="#3434dc" transform="translate(573.13 1099.03)scale(0.88 0.72)rotate(44.63)"/><use href="#g1" stroke="#3434dc" transform="translate(573.13 1099.03)scale(0.88 0.72)rotate(297.83)"/><use href="#g1" stroke="#3434dc" transform="translate(408.36 1273.48)scale(0.26 0.26)rotate(110.99)"/><use href="#g0" stroke="#3434dc" transform="translate(408.36 1273.48)scale(0.26 0.26)rotate(152.34)"/><use href="#u1" stroke="#3434dc" transform="translate(557.68 1457.17)scale(-0.77 0.01)rotate(0)"/></g>
<rect x="223" y="1395.09" width="88.56" height="63.11" fill="#fff" fill-opacity="1"/>
<path d="M207.89 1458.2H223M223 1458.2V1473.64M215.44 1419.59H223M261.75 1458.2V1466.3M215.44 1397H223M284.42 1458.2V1466.3M215.44 1380.97H223M300.5 1458.2V1466.3M215.44 1368.54H223M312.97 1458.2V1466.3M215.44 1358.38H223M323.17 1458.2V1466.3M215.44 1349.8H223M331.79 1458.2V1466.3M215.44 1342.36H223M339.25 1458.2V1466.3M215.44 1335.79H223M345.83 1458.2V1466.3M207.89 1329.92H223M351.73 1458.2V1473.64M215.44 1291.31H223M390.48 1458.2V1466.3M215.44 1268.72H223M413.14 1458.2V1466.3M215.44 1252.7H223M429.23 1458.2V1466.3M215.44 1240.26H223M441.7 1458.2V1466.3M215.44 1230.11H223M451.89 1458.2V1466.3M215.44 1221.52H223M460.51 1458.2V1466.3M215.44 1214.08H223M467.98 1458.2V1466.3M215.44 1207.52H223M474.56 1458.2V1466.3M207.89 1201.65H223M480.45 1458.2V1473.64M215.44 1163.04H223M519.2 1458.2V1466.3M215.44 1140.45H223M541.87 1458.2V1466.3M215.44 1124.42H223M557.95 1458.2V1466.3M215.44 1111.99H223M570.42 1458.2V1466.3M215.44 1101.83H223M580.62 1458.2V1466.3M215.44 1093.25H223M589.24 1458.2V1466.3M215.44 1085.81H223M596.7 1458.2V1466.3M215.44 1079.24H223M603.28 1458.2V1466.3M207.89 1073.38H223M609.17 1458.2V1473.64M215.44 1034.76H223M647.93 1458.2V1466.3M215.44 1012.17H223M670.59 1458.2V1466.3M215.44 996.15H223M686.68 1458.2V1466.3M215.44 983.71H223M699.15 1458.2V1466.3M215.44 973.56H223M709.34 1458.2V1466.3M215.44 964.97H223M717.96 1458.2V1466.3M215.44 957.53H223M725.43 1458.2V1466.3M215.44 950.97H223M732.01 1458.2V1466.3M207.89 945.1H223M737.9 1458.2V1473.64" stroke="#111" stroke-width="1.84" fill="none"/>
<path d="M387.9 945.1V1458.2M223 1293.3H737.9" stroke="#111" stroke-width="1.51" fill="none"/>
<rect x="223" y="945.1" width="514.9" height="513.1" fill="none" stroke="#111" stroke-width="4.97"/>
<text x="183.6" y="1457.88" font-size="23.75" font-family="Liberation Sans,sans-serif" fill="#2a2a2a" text-anchor="end">10</text>
<text x="186.3" y="1440.07" font-size="22.13" font-family="Liberation Sans,sans-serif" fill="#2a2a2a">0</text>
<text x="183.6" y="1338.24" font-size="23.75" font-family="Liberation Sans,sans-serif" fill="#2a2a2a" text-anchor="end">10</text>
<text x="186.3" y="1320.43" font-size="22.13" font-family="Liberation Sans,sans-serif" fill="#2a2a2a">1</text>
<text x="183.6" y="1209.96" font-size="23.75" font-family="Liberation Sans,sans-serif" fill="#2a2a2a" text-anchor="end">10</text>
<text x="186.3" y="1192.15" font-size="22.13" font-family="Liberation Sans,sans-serif" fill="#2a2a2a">2</text>
<text x="183.6" y="1081.69" font-size="23.75" font-family="Liberation Sans,sans-serif" fill="#2a2a2a" text-anchor="end">10</text>
<text x="186.3" y="1063.88" font-size="22.13" font-family="Liberation Sans,sans-serif" fill="#2a2a2a">3</text>
<text x="183.6" y="990.11" font-size="23.75" font-family="Liberation Sans,sans-serif" fill="#2a2a2a" text-anchor="end">10</text>
<text x="186.3" y="972.3" font-size="22.13" font-family="Liberation Sans,sans-serif" fill="#2a2a2a">4</text>
<text x="244.27" y="1509.8" font-size="23.75" font-family="Liberation Sans,sans-serif" fill="#2a2a2a" text-anchor="middle">10</text>
<text x="265.85" y="1492.2" font-size="22.13" font-family="Liberation Sans,sans-serif" fill="#2a2a2a" text-anchor="middle">0</text>
<text x="352.53" y="1509.8" font-size="23.75" font-family="Liberation Sans,sans-serif" fill="#2a2a2a" text-anchor="middle">10</text>
<text x="374.12" y="1492.2" font-size="22.13" font-family="Liberation Sans,sans-serif" fill="#2a2a2a" text-anchor="middle">1</text>
<text x="475.38" y="1509.8" font-size="23.75" font-family="Liberation Sans,sans-serif" fill="#2a2a2a" text-anchor="middle">10</text>
<text x="496.97" y="1492.2" font-size="22.13" font-family="Liberation Sans,sans-serif" fill="#2a2a2a" text-anchor="middle">2</text>
<text x="594.98" y="1509.8" font-size="23.75" font-family="Liberation Sans,sans-serif" fill="#2a2a2a" text-anchor="middle">10</text>
<text x="616.57" y="1492.2" font-size="22.13" font-family="Liberation Sans,sans-serif" fill="#2a2a2a" text-anchor="middle">3</text>
<text x="717.17" y="1509.8" font-size="23.75" font-family="Liberation Sans,sans-serif" fill="#2a2a2a" text-anchor="middle">10</text>
<text x="738.76" y="1492.2" font-size="22.13" font-family="Liberation Sans,sans-serif" fill="#2a2a2a" text-anchor="middle">4</text>
<text x="232.72" y="971.01" font-size="22.88" font-family="Liberation Sans,sans-serif" fill="#444">Q1</text>
<text x="232.72" y="1003.82" font-size="22.88" font-family="Liberation Sans,sans-serif" fill="#444">0.684%</text>
<text x="659.53" y="971.01" font-size="22.88" font-family="Liberation Sans,sans-serif" fill="#444">Q2</text>
<text x="659.53" y="1003.82" font-size="22.88" font-family="Liberation Sans,sans-serif" fill="#444">11.0%</text>
<text x="659.53" y="1416.75" font-size="22.88" font-family="Liberation Sans,sans-serif" fill="#444">Q3</text>
<text x="659.53" y="1448.92" font-size="22.88" font-family="Liberation Sans,sans-serif" fill="#444">9.20%</text>
<text x="232.72" y="1416.75" font-size="22.88" font-family="Liberation Sans,sans-serif" fill="#444">Q4</text>
<text x="232.72" y="1448.92" font-size="22.88" font-family="Liberation Sans,sans-serif" fill="#444">79.1%</text>
<text x="480" y="1576.5" font-size="24.07" font-family="Liberation Sans,sans-serif" fill="#3a4650" text-anchor="middle">Annexin-FITC</text>
<text x="114.9" y="1212.5" font-size="24.07" font-family="Liberation Sans,sans-serif" fill="#000" text-anchor="middle" transform="rotate(-90 114.9 1204.4)" font-weight="bold">PI</text>
<text x="423.1" y="909.4" font-size="52.5" font-family="Liberation Serif,serif" fill="#000" textLength="117.9" lengthAdjust="spacingAndGlyphs">OXA</text>
<clipPath id="c1904"><rect x="949.3" y="955" width="485.4" height="486.3"/></clipPath>
<g clip-path="url(#c1904)" stroke-width="1.93"><use href="#f5" stroke="#2424f4" transform="translate(1174.04 1343.07)rotate(-25)scale(0.49 0.3)rotate(177.16)"/><use href="#f2" stroke="#2424f4" transform="translate(1174.04 1343.07)rotate(-25)scale(0.49 0.3)rotate(83.5)"/><use href="#f1" stroke="#2424f4" transform="translate(1174.04 1343.07)rotate(-25)scale(0.49 0.3)rotate(273.69)"/><use href="#g4" stroke="#2424f4" transform="translate(1177.44 1339.18)rotate(-25)scale(0.58 0.39)rotate(14.56)"/><use href="#g1" stroke="#2424f4" transform="translate(1177.44 1339.18)rotate(-25)scale(0.58 0.39)rotate(90.06)"/><use href="#f1" stroke="#f0a020" transform="translate(1167.73 1348.9)rotate(-25)scale(-0.29 0.19)rotate(210.7)"/><use href="#f1" stroke="#e8e020" transform="translate(1167.73 1348.9)rotate(-25)scale(0.29 0.19)rotate(199.97)"/><use href="#f1" stroke="#f03018" transform="translate(1167.73 1348.9)rotate(-25)scale(0.29 0.19)rotate(2.99)"/><use href="#f4" stroke="#2424f4" transform="translate(1256.07 1146.12)rotate(-20)scale(-0.34 0.23)rotate(253.42)"/><use href="#f3" stroke="#2424f4" transform="translate(1256.07 1146.12)rotate(-20)scale(-0.34 0.23)rotate(188.39)"/><use href="#g3" stroke="#2424f4" transform="translate(1256.07 1146.12)rotate(-20)scale(-0.44 0.32)rotate(8.11)"/><use href="#g1" stroke="#2424f4" transform="translate(1256.07 1146.12)rotate(-20)scale(0.44 0.32)rotate(284.07)"/><use href="#f0" stroke="#f0a020" transform="translate(1259.96 1144.66)rotate(-20)scale(-0.19 0.15)rotate(347.27)"/><use href="#f0" stroke="#e8e020" transform="translate(1259.96 1144.66)rotate(-20)scale(-0.19 0.15)rotate(219.61)"/><use href="#f1" stroke="#f03018" transform="translate(1259.96 1144.66)rotate(-20)scale(-0.19 0.15)rotate(178.73)"/><use href="#f3" stroke="#2424f4" transform="translate(1041.53 1362.52)rotate(-25)scale(0.24 0.17)rotate(306.36)"/><use href="#f2" stroke="#2424f4" transform="translate(1041.53 1362.52)rotate(-25)scale(0.24 0.17)rotate(356.87)"/><use href="#g3" stroke="#2424f4" transform="translate(1046.38 1353.77)scale(0.44 0.34)rotate(140.47)"/><use href="#g0" stroke="#2424f4" transform="translate(1046.38 1353.77)scale(-0.44 0.34)rotate(230.73)"/><use href="#f0" stroke="#f0a020" transform="translate(1031.82 1373.22)scale(-0.15 0.1)rotate(131.26)"/><use href="#f0" stroke="#f03018" transform="translate(1031.82 1373.22)scale(-0.15 0.1)rotate(261.18)"/><use href="#f4" stroke="#2424f4" transform="translate(1041.53 1177.73)rotate(-40)scale(0.53 0.34)rotate(112.28)"/><use href="#f0" stroke="#2424f4" transform="translate(1041.53 1177.73)rotate(-40)scale(-0.53 0.34)rotate(259.4)"/><use href="#f4" stroke="#2424f4" transform="translate(1158.02 1198.15)scale(-0.58 0.53)rotate(147.59)"/><use href="#f3" stroke="#2424f4" transform="translate(1158.02 1198.15)scale(0.58 0.53)rotate(202.37)"/><use href="#f3" stroke="#2424f4" transform="translate(1250.25 1261.37)scale(0.58 0.19)rotate(90.03)"/><use href="#f2" stroke="#2424f4" transform="translate(1250.25 1261.37)scale(0.58 0.19)rotate(258.19)"/><use href="#u1" stroke="#2424f4" transform="translate(1216.27 1076.58)scale(-1.21 0.34)rotate(90)"/></g>
<rect x="949.3" y="1384.4" width="82.52" height="56.9" fill="#fff" fill-opacity="0.8"/>
<path d="M935.05 1441.3H949.3M949.3 1441.3V1455.85M942.18 1404.7H949.3M985.83 1441.3V1448.93M942.18 1383.29H949.3M1007.2 1441.3V1448.93M942.18 1368.1H949.3M1022.36 1441.3V1448.93M942.18 1356.32H949.3M1034.12 1441.3V1448.93M942.18 1346.7H949.3M1043.73 1441.3V1448.93M942.18 1338.56H949.3M1051.85 1441.3V1448.93M942.18 1331.51H949.3M1058.89 1441.3V1448.93M942.18 1325.29H949.3M1065.1 1441.3V1448.93M935.05 1319.72H949.3M1070.65 1441.3V1455.85M942.18 1283.13H949.3M1107.18 1441.3V1448.93M942.18 1261.72H949.3M1128.55 1441.3V1448.93M942.18 1246.53H949.3M1143.71 1441.3V1448.93M942.18 1234.75H949.3M1155.47 1441.3V1448.93M942.18 1225.12H949.3M1165.08 1441.3V1448.93M942.18 1216.98H949.3M1173.2 1441.3V1448.93M942.18 1209.93H949.3M1180.24 1441.3V1448.93M942.18 1203.71H949.3M1186.45 1441.3V1448.93M935.05 1198.15H949.3M1192 1441.3V1455.85M942.18 1161.55H949.3M1228.53 1441.3V1448.93M942.18 1140.14H949.3M1249.9 1441.3V1448.93M942.18 1124.95H949.3M1265.06 1441.3V1448.93M942.18 1113.17H949.3M1276.82 1441.3V1448.93M942.18 1103.55H949.3M1286.43 1441.3V1448.93M942.18 1095.41H949.3M1294.55 1441.3V1448.93M942.18 1088.36H949.3M1301.59 1441.3V1448.93M942.18 1082.14H949.3M1307.8 1441.3V1448.93M935.05 1076.58H949.3M1313.35 1441.3V1455.85M942.18 1039.98H949.3M1349.88 1441.3V1448.93M942.18 1018.57H949.3M1371.25 1441.3V1448.93M942.18 1003.38H949.3M1386.41 1441.3V1448.93M942.18 991.6H949.3M1398.17 1441.3V1448.93M942.18 981.97H949.3M1407.78 1441.3V1448.93M942.18 973.83H949.3M1415.9 1441.3V1448.93M942.18 966.78H949.3M1422.94 1441.3V1448.93M942.18 960.56H949.3M1429.15 1441.3V1448.93M935.05 955H949.3M1434.7 1441.3V1455.85" stroke="#111" stroke-width="1.73" fill="none"/>
<path d="M1111.1 955V1441.3M949.3 1283.5H1434.7" stroke="#111" stroke-width="2.04" fill="none"/>
<rect x="949.3" y="955" width="485.4" height="486.3" fill="none" stroke="#111" stroke-width="2.65"/>
<text x="912.16" y="1440.99" font-size="22.39" font-family="Liberation Sans,sans-serif" fill="#1c1c1c" text-anchor="end">10</text>
<text x="914.7" y="1424.2" font-size="20.86" font-family="Liberation Sans,sans-serif" fill="#1c1c1c">0</text>
<text x="912.16" y="1327.56" font-size="22.39" font-family="Liberation Sans,sans-serif" fill="#1c1c1c" text-anchor="end">10</text>
<text x="914.7" y="1310.77" font-size="20.86" font-family="Liberation Sans,sans-serif" fill="#1c1c1c">1</text>
<text x="912.16" y="1205.99" font-size="22.39" font-family="Liberation Sans,sans-serif" fill="#1c1c1c" text-anchor="end">10</text>
<text x="914.7" y="1189.2" font-size="20.86" font-family="Liberation Sans,sans-serif" fill="#1c1c1c">2</text>
<text x="912.16" y="1084.41" font-size="22.39" font-family="Liberation Sans,sans-serif" fill="#1c1c1c" text-anchor="end">10</text>
<text x="914.7" y="1067.62" font-size="20.86" font-family="Liberation Sans,sans-serif" fill="#1c1c1c">3</text>
<text x="912.16" y="997.43" font-size="22.39" font-family="Liberation Sans,sans-serif" fill="#1c1c1c" text-anchor="end">10</text>
<text x="914.7" y="980.64" font-size="20.86" font-family="Liberation Sans,sans-serif" fill="#1c1c1c">4</text>
<text x="969.35" y="1489.94" font-size="22.39" font-family="Liberation Sans,sans-serif" fill="#1c1c1c" text-anchor="middle">10</text>
<text x="989.7" y="1473.35" font-size="20.86" font-family="Liberation Sans,sans-serif" fill="#1c1c1c" text-anchor="middle">0</text>
<text x="1071.41" y="1489.94" font-size="22.39" font-family="Liberation Sans,sans-serif" fill="#1c1c1c" text-anchor="middle">10</text>
<text x="1091.77" y="1473.35" font-size="20.86" font-family="Liberation Sans,sans-serif" fill="#1c1c1c" text-anchor="middle">1</text>
<text x="1187.22" y="1489.94" font-size="22.39" font-family="Liberation Sans,sans-serif" fill="#1c1c1c" text-anchor="middle">10</text>
<text x="1207.57" y="1473.35" font-size="20.86" font-family="Liberation Sans,sans-serif" fill="#1c1c1c" text-anchor="middle">2</text>
<text x="1299.97" y="1489.94" font-size="22.39" font-family="Liberation Sans,sans-serif" fill="#1c1c1c" text-anchor="middle">10</text>
<text x="1320.32" y="1473.35" font-size="20.86" font-family="Liberation Sans,sans-serif" fill="#1c1c1c" text-anchor="middle">3</text>
<text x="1415.16" y="1489.94" font-size="22.39" font-family="Liberation Sans,sans-serif" fill="#1c1c1c" text-anchor="middle">10</text>
<text x="1435.51" y="1473.35" font-size="20.86" font-family="Liberation Sans,sans-serif" fill="#1c1c1c" text-anchor="middle">4</text>
<text x="958.46" y="979.42" font-size="21.57" font-family="Liberation Sans,sans-serif" fill="#222">Q1</text>
<text x="958.46" y="1010.36" font-size="21.57" font-family="Liberation Sans,sans-serif" fill="#222">11.2%</text>
<text x="1360.82" y="979.42" font-size="21.57" font-family="Liberation Sans,sans-serif" fill="#222">Q2</text>
<text x="1360.82" y="1010.36" font-size="21.57" font-family="Liberation Sans,sans-serif" fill="#222">36.5%</text>
<text x="1360.82" y="1402.22" font-size="21.57" font-family="Liberation Sans,sans-serif" fill="#222">Q3</text>
<text x="1360.82" y="1432.55" font-size="21.57" font-family="Liberation Sans,sans-serif" fill="#222">34.6%</text>
<text x="958.46" y="1402.22" font-size="21.57" font-family="Liberation Sans,sans-serif" fill="#222">Q4</text>
<text x="958.46" y="1432.55" font-size="21.57" font-family="Liberation Sans,sans-serif" fill="#222">17.7%</text>
<text x="1191.6" y="1551.5" font-size="22.69" font-family="Liberation Sans,sans-serif" fill="#1c1c1c" text-anchor="middle">FL1-H:: Annexin V-FITC</text>
<text x="843.4" y="1206.23" font-size="22.69" font-family="Liberation Sans,sans-serif" fill="#1c1c1c" text-anchor="middle" transform="rotate(-90 843.4 1198.6)">FL3-H:: PI</text>
<text x="1062.7" y="922.8" font-size="52.5" font-family="Liberation Serif,serif" fill="#000" textLength="264.5" lengthAdjust="spacingAndGlyphs">DOC+ATO</text>
<clipPath id="c2573"><rect x="1620.4" y="953.2" width="482.3" height="483.7"/></clipPath>
<g clip-path="url(#c2573)" stroke-width="2.17"><use href="#g4" stroke="#2424f4" transform="translate(1789.2 1301.46)scale(0.96 0.48)rotate(64.37)"/><use href="#g2" stroke="#2424f4" transform="translate(1789.2 1301.46)scale(-0.96 0.48)rotate(226.54)"/><use href="#f5" stroke="#2424f4" transform="translate(1697.09 1250.19)scale(0.41 0.16)rotate(91.04)"/><use href="#f3" stroke="#2424f4" transform="translate(1697.09 1250.19)scale(0.41 0.16)rotate(67.17)"/><use href="#f2" stroke="#2424f4" transform="translate(1697.09 1250.19)scale(0.41 0.16)rotate(216.45)"/><use href="#f1" stroke="#2424f4" transform="translate(1697.09 1250.19)scale(-0.41 0.16)rotate(271.77)"/><use href="#f4" stroke="#2424f4" transform="translate(1765.09 1243.42)scale(0.53 0.19)rotate(250.88)"/><use href="#f1" stroke="#2424f4" transform="translate(1765.09 1243.42)scale(-0.53 0.19)rotate(194.42)"/><use href="#f5" stroke="#2424f4" transform="translate(1724.09 1325.65)scale(-0.36 0.36)rotate(313.39)"/><use href="#f3" stroke="#2424f4" transform="translate(1724.09 1325.65)scale(-0.36 0.36)rotate(30.34)"/><use href="#f2" stroke="#2424f4" transform="translate(1724.09 1325.65)scale(-0.36 0.36)rotate(351.37)"/><use href="#f1" stroke="#2424f4" transform="translate(1724.09 1325.65)scale(-0.36 0.36)rotate(157.98)"/><use href="#f5" stroke="#2424f4" transform="translate(1876.02 1315.98)scale(-0.41 0.45)rotate(235.09)"/><use href="#f4" stroke="#2424f4" transform="translate(1876.02 1315.98)scale(-0.41 0.45)rotate(314.45)"/><use href="#f3" stroke="#2424f4" transform="translate(1876.02 1315.98)scale(-0.41 0.45)rotate(139.56)"/><use href="#g3" stroke="#2424f4" transform="translate(1798.85 1282.12)scale(-0.39 0.44)rotate(19.1)"/><use href="#g2" stroke="#2424f4" transform="translate(1798.85 1282.12)scale(0.39 0.44)rotate(276.51)"/><use href="#g1" stroke="#2424f4" transform="translate(1798.85 1282.12)scale(0.39 0.44)rotate(6.32)"/><use href="#f3" stroke="#2424f4" transform="translate(1861.55 1233.75)scale(-0.96 0.24)rotate(126.48)"/><use href="#f2" stroke="#2424f4" transform="translate(1861.55 1233.75)scale(0.96 0.24)rotate(184.52)"/><use href="#g3" stroke="#2424f4" transform="translate(1789.2 1388.53)scale(0.96 0.24)rotate(82.47)"/><use href="#g2" stroke="#2424f4" transform="translate(1789.2 1388.53)scale(0.96 0.24)rotate(283.89)"/><use href="#f3" stroke="#22d822" transform="translate(1678.28 1255.51)scale(0.29 0.12)rotate(206.41)"/><use href="#f1" stroke="#22d822" transform="translate(1678.28 1255.51)scale(-0.29 0.12)rotate(203.78)"/><use href="#f1" stroke="#e8e020" transform="translate(1667.67 1259.87)scale(-0.19 0.1)rotate(167.74)"/><use href="#f2" stroke="#f03018" transform="translate(1667.67 1259.87)scale(-0.19 0.1)rotate(135.08)"/><use href="#f2" stroke="#22d822" transform="translate(1740.97 1248.26)scale(0.39 0.15)rotate(357.15)"/><use href="#f0" stroke="#22d822" transform="translate(1740.97 1248.26)scale(-0.39 0.15)rotate(353.74)"/><use href="#f2" stroke="#22d822" transform="translate(1724.09 1325.65)scale(0.29 0.29)rotate(173.52)"/><use href="#f1" stroke="#22d822" transform="translate(1724.09 1325.65)scale(-0.29 0.29)rotate(179.28)"/><use href="#f0" stroke="#22d822" transform="translate(1724.09 1325.65)scale(0.29 0.29)rotate(221.12)"/><use href="#f0" stroke="#f03018" transform="translate(1724.09 1325.65)scale(-0.24 0.24)rotate(237.97)"/><use href="#f3" stroke="#22d822" transform="translate(1878.43 1315.98)scale(-0.31 0.34)rotate(250.97)"/><use href="#f1" stroke="#22d822" transform="translate(1878.43 1315.98)scale(-0.31 0.34)rotate(178.93)"/><use href="#f1" stroke="#f03018" transform="translate(1880.36 1314.04)scale(-0.24 0.29)rotate(199.18)"/><use href="#u1" stroke="#2424f4" transform="translate(1765.09 1166.03)scale(1.35 0.29)rotate(270)"/></g>
<rect x="1620.4" y="1380.31" width="81.99" height="56.59" fill="#fff" fill-opacity="0.8"/>
<path d="M1606.24 1436.9H1620.4M1620.4 1436.9V1451.36M1613.32 1400.5H1620.4M1656.7 1436.9V1444.48M1613.32 1379.2H1620.4M1677.93 1436.9V1444.48M1613.32 1364.1H1620.4M1692.99 1436.9V1444.48M1613.32 1352.38H1620.4M1704.68 1436.9V1444.48M1613.32 1342.8H1620.4M1714.23 1436.9V1444.48M1613.32 1334.71H1620.4M1722.3 1436.9V1444.48M1613.32 1327.69H1620.4M1729.29 1436.9V1444.48M1613.32 1321.51H1620.4M1735.46 1436.9V1444.48M1606.24 1315.98H1620.4M1740.97 1436.9V1451.36M1613.32 1279.57H1620.4M1777.27 1436.9V1444.48M1613.32 1258.28H1620.4M1798.5 1436.9V1444.48M1613.32 1243.17H1620.4M1813.57 1436.9V1444.48M1613.32 1231.45H1620.4M1825.25 1436.9V1444.48M1613.32 1221.88H1620.4M1834.8 1436.9V1444.48M1613.32 1213.78H1620.4M1842.87 1436.9V1444.48M1613.32 1206.77H1620.4M1849.87 1436.9V1444.48M1613.32 1200.58H1620.4M1856.03 1436.9V1444.48M1606.24 1195.05H1620.4M1861.55 1436.9V1451.36M1613.32 1158.65H1620.4M1897.85 1436.9V1444.48M1613.32 1137.35H1620.4M1919.08 1436.9V1444.48M1613.32 1122.25H1620.4M1934.14 1436.9V1444.48M1613.32 1110.53H1620.4M1945.83 1436.9V1444.48M1613.32 1100.95H1620.4M1955.38 1436.9V1444.48M1613.32 1092.86H1620.4M1963.45 1436.9V1444.48M1613.32 1085.84H1620.4M1970.44 1436.9V1444.48M1613.32 1079.66H1620.4M1976.61 1436.9V1444.48M1606.24 1074.12H1620.4M1982.12 1436.9V1451.36M1613.32 1037.72H1620.4M2018.42 1436.9V1444.48M1613.32 1016.43H1620.4M2039.65 1436.9V1444.48M1613.32 1001.32H1620.4M2054.72 1436.9V1444.48M1613.32 989.6H1620.4M2066.4 1436.9V1444.48M1613.32 980.03H1620.4M2075.95 1436.9V1444.48M1613.32 971.93H1620.4M2084.02 1436.9V1444.48M1613.32 964.92H1620.4M2091.02 1436.9V1444.48M1613.32 958.73H1620.4M2097.18 1436.9V1444.48M1606.24 953.2H1620.4M2102.7 1436.9V1451.36" stroke="#111" stroke-width="1.72" fill="none"/>
<path d="M1773.2 953.2V1436.9M1620.4 1276H2102.7" stroke="#111" stroke-width="2.02" fill="none"/>
<rect x="1620.4" y="953.2" width="482.3" height="483.7" fill="none" stroke="#111" stroke-width="2.63"/>
<text x="1583.49" y="1436.6" font-size="22.24" font-family="Liberation Sans,sans-serif" fill="#1c1c1c" text-anchor="end">10</text>
<text x="1586.02" y="1419.91" font-size="20.73" font-family="Liberation Sans,sans-serif" fill="#1c1c1c">0</text>
<text x="1583.49" y="1323.76" font-size="22.24" font-family="Liberation Sans,sans-serif" fill="#1c1c1c" text-anchor="end">10</text>
<text x="1586.02" y="1307.08" font-size="20.73" font-family="Liberation Sans,sans-serif" fill="#1c1c1c">1</text>
<text x="1583.49" y="1202.84" font-size="22.24" font-family="Liberation Sans,sans-serif" fill="#1c1c1c" text-anchor="end">10</text>
<text x="1586.02" y="1186.15" font-size="20.73" font-family="Liberation Sans,sans-serif" fill="#1c1c1c">2</text>
<text x="1583.49" y="1081.91" font-size="22.24" font-family="Liberation Sans,sans-serif" fill="#1c1c1c" text-anchor="end">10</text>
<text x="1586.02" y="1065.23" font-size="20.73" font-family="Liberation Sans,sans-serif" fill="#1c1c1c">3</text>
<text x="1583.49" y="995.36" font-size="22.24" font-family="Liberation Sans,sans-serif" fill="#1c1c1c" text-anchor="end">10</text>
<text x="1586.02" y="978.68" font-size="20.73" font-family="Liberation Sans,sans-serif" fill="#1c1c1c">4</text>
<text x="1640.32" y="1485.23" font-size="22.24" font-family="Liberation Sans,sans-serif" fill="#1c1c1c" text-anchor="middle">10</text>
<text x="1660.54" y="1468.75" font-size="20.73" font-family="Liberation Sans,sans-serif" fill="#1c1c1c" text-anchor="middle">0</text>
<text x="1741.73" y="1485.23" font-size="22.24" font-family="Liberation Sans,sans-serif" fill="#1c1c1c" text-anchor="middle">10</text>
<text x="1761.96" y="1468.75" font-size="20.73" font-family="Liberation Sans,sans-serif" fill="#1c1c1c" text-anchor="middle">1</text>
<text x="1856.8" y="1485.23" font-size="22.24" font-family="Liberation Sans,sans-serif" fill="#1c1c1c" text-anchor="middle">10</text>
<text x="1877.02" y="1468.75" font-size="20.73" font-family="Liberation Sans,sans-serif" fill="#1c1c1c" text-anchor="middle">2</text>
<text x="1968.83" y="1485.23" font-size="22.24" font-family="Liberation Sans,sans-serif" fill="#1c1c1c" text-anchor="middle">10</text>
<text x="1989.05" y="1468.75" font-size="20.73" font-family="Liberation Sans,sans-serif" fill="#1c1c1c" text-anchor="middle">3</text>
<text x="2083.29" y="1485.23" font-size="22.24" font-family="Liberation Sans,sans-serif" fill="#1c1c1c" text-anchor="middle">10</text>
<text x="2103.51" y="1468.75" font-size="20.73" font-family="Liberation Sans,sans-serif" fill="#1c1c1c" text-anchor="middle">4</text>
<text x="1629.5" y="977.47" font-size="21.44" font-family="Liberation Sans,sans-serif" fill="#222">Q1</text>
<text x="1629.5" y="1008.2" font-size="21.44" font-family="Liberation Sans,sans-serif" fill="#222">29.7%</text>
<text x="2029.29" y="977.47" font-size="21.44" font-family="Liberation Sans,sans-serif" fill="#222">Q2</text>
<text x="2029.29" y="1008.2" font-size="21.44" font-family="Liberation Sans,sans-serif" fill="#222">12.8%</text>
<text x="2029.29" y="1398.07" font-size="21.44" font-family="Liberation Sans,sans-serif" fill="#222">Q3</text>
<text x="2029.29" y="1428.2" font-size="21.44" font-family="Liberation Sans,sans-serif" fill="#222">32.1%</text>
<text x="1629.5" y="1398.07" font-size="21.44" font-family="Liberation Sans,sans-serif" fill="#222">Q4</text>
<text x="1629.5" y="1428.2" font-size="21.44" font-family="Liberation Sans,sans-serif" fill="#222">25.4%</text>
<text x="1860" y="1547" font-size="22.55" font-family="Liberation Sans,sans-serif" fill="#1c1c1c" text-anchor="middle">FL1-H:: Annexin V-FITC</text>
<text x="1515.8" y="1204.38" font-size="22.55" font-family="Liberation Sans,sans-serif" fill="#1c1c1c" text-anchor="middle" transform="rotate(-90 1515.8 1196.8)">FL3-H:: PI</text>
<text x="1708.3" y="920.6" font-size="52.5" font-family="Liberation Serif,serif" fill="#000" textLength="263.2" lengthAdjust="spacingAndGlyphs">OXA+ATO</text>
<clipPath id="c2009"><rect x="233.7" y="1776.1" width="524.5" height="523.6"/></clipPath>
<g clip-path="url(#c2009)" stroke-width="2.36"><use href="#g5" stroke="#2424f4" transform="translate(328.11 2205.45)scale(0.52 0.52)rotate(315.15)"/><use href="#g4" stroke="#2424f4" transform="translate(328.11 2205.45)scale(0.52 0.52)rotate(184.25)"/><use href="#g3" stroke="#2424f4" transform="translate(328.11 2205.45)scale(0.52 0.52)rotate(62.36)"/><use href="#g2" stroke="#2424f4" transform="translate(328.11 2205.45)scale(0.52 0.52)rotate(245.83)"/><use href="#f5" stroke="#2424f4" transform="translate(338.6 2210.69)scale(0.47 0.47)rotate(247.15)"/><use href="#f4" stroke="#2424f4" transform="translate(338.6 2210.69)scale(0.47 0.47)rotate(235.44)"/><use href="#f3" stroke="#2424f4" transform="translate(338.6 2210.69)scale(-0.47 0.47)rotate(74.66)"/><use href="#f2" stroke="#2424f4" transform="translate(338.6 2210.69)scale(-0.47 0.47)rotate(275.02)"/><use href="#f5" stroke="#2424f4" transform="translate(316.57 2231.63)scale(0.27 0.42)rotate(298.39)"/><use href="#f3" stroke="#2424f4" transform="translate(316.57 2231.63)scale(0.27 0.42)rotate(95.32)"/><use href="#f5" stroke="#20d0c0" transform="translate(316.57 2231.63)scale(-0.25 0.39)rotate(286.08)"/><use href="#f2" stroke="#20d0c0" transform="translate(316.57 2231.63)scale(-0.25 0.39)rotate(133.97)"/><use href="#f5" stroke="#22d822" transform="translate(316.57 2229.01)scale(0.22 0.32)rotate(324.63)"/><use href="#f4" stroke="#22d822" transform="translate(316.57 2229.01)scale(-0.22 0.32)rotate(14.46)"/><use href="#f2" stroke="#22d822" transform="translate(316.57 2229.01)scale(0.22 0.32)rotate(247.07)"/><use href="#f3" stroke="#e8e020" transform="translate(316.57 2215.92)scale(0.16 0.2)rotate(236.32)"/><use href="#f2" stroke="#e8e020" transform="translate(316.57 2215.92)scale(0.16 0.2)rotate(17.4)"/><use href="#f0" stroke="#e8e020" transform="translate(316.57 2215.92)scale(0.16 0.2)rotate(213.87)"/><use href="#f2" stroke="#f0a020" transform="translate(316.57 2213.31)scale(0.14 0.18)rotate(119.47)"/><use href="#f0" stroke="#f0a020" transform="translate(316.57 2213.31)scale(-0.14 0.18)rotate(24.77)"/><use href="#f2" stroke="#f03018" transform="translate(316.57 2211.74)scale(0.13 0.17)rotate(10.2)"/><use href="#f0" stroke="#f03018" transform="translate(316.57 2211.74)scale(0.13 0.17)rotate(13.32)"/><use href="#f3" stroke="#2424f4" transform="translate(317.62 2221.16)scale(0.26 0.37)rotate(18.94)"/><use href="#f2" stroke="#2424f4" transform="translate(317.62 2221.16)scale(-0.26 0.37)rotate(266.1)"/><use href="#g3" stroke="#2424f4" transform="translate(370.07 2058.84)scale(-0.31 0.63)rotate(297.8)"/><use href="#g1" stroke="#2424f4" transform="translate(370.07 2058.84)scale(0.31 0.63)rotate(172.2)"/><use href="#g0" stroke="#2424f4" transform="translate(370.07 2058.84)scale(-0.31 0.63)rotate(265.96)"/><use href="#g3" stroke="#2424f4" transform="translate(495.95 1933.18)scale(0.73 0.42)rotate(208.74)"/><use href="#g2" stroke="#2424f4" transform="translate(522.17 2090.26)scale(-0.68 0.52)rotate(169.92)"/><use href="#g0" stroke="#2424f4" transform="translate(522.17 2090.26)scale(0.68 0.52)rotate(193.11)"/><use href="#g3" stroke="#2424f4" transform="translate(422.52 2194.98)scale(0.31 0.47)rotate(267.9)"/><use href="#g0" stroke="#2424f4" transform="translate(422.52 2194.98)scale(0.31 0.47)rotate(50.18)"/><use href="#u1" stroke="#2424f4" transform="translate(548.4 2194.98)scale(-1.05 0.79)rotate(90)"/></g>
<rect x="233.7" y="2234.77" width="89.17" height="64.93" fill="#fff" fill-opacity="0.85"/>
<path d="M218.31 2299.7H233.7M233.7 2299.7V2315.42M226 2260.3H233.7M273.17 2299.7V2307.95M226 2237.24H233.7M296.26 2299.7V2307.95M226 2220.89H233.7M312.65 2299.7V2307.95M226 2208.2H233.7M325.35 2299.7V2307.95M226 2197.84H233.7M335.74 2299.7V2307.95M226 2189.08H233.7M344.51 2299.7V2307.95M226 2181.49H233.7M352.12 2299.7V2307.95M226 2174.79H233.7M358.83 2299.7V2307.95M218.31 2168.8H233.7M364.82 2299.7V2315.42M226 2129.4H233.7M404.3 2299.7V2307.95M226 2106.34H233.7M427.39 2299.7V2307.95M226 2089.99H233.7M443.77 2299.7V2307.95M226 2077.3H233.7M456.48 2299.7V2307.95M226 2066.94H233.7M466.86 2299.7V2307.95M226 2058.18H233.7M475.64 2299.7V2307.95M226 2050.59H233.7M483.24 2299.7V2307.95M226 2043.89H233.7M489.95 2299.7V2307.95M218.31 2037.9H233.7M495.95 2299.7V2315.42M226 1998.5H233.7M535.42 2299.7V2307.95M226 1975.44H233.7M558.51 2299.7V2307.95M226 1959.09H233.7M574.9 2299.7V2307.95M226 1946.4H233.7M587.6 2299.7V2307.95M226 1936.04H233.7M597.99 2299.7V2307.95M226 1927.28H233.7M606.76 2299.7V2307.95M226 1919.69H233.7M614.37 2299.7V2307.95M226 1912.99H233.7M621.08 2299.7V2307.95M218.31 1907H233.7M627.08 2299.7V2315.42M226 1867.6H233.7M666.55 2299.7V2307.95M226 1844.54H233.7M689.64 2299.7V2307.95M226 1828.19H233.7M706.02 2299.7V2307.95M226 1815.5H233.7M718.73 2299.7V2307.95M226 1805.14H233.7M729.11 2299.7V2307.95M226 1796.38H233.7M737.89 2299.7V2307.95M226 1788.79H233.7M745.49 2299.7V2307.95M226 1782.09H233.7M752.2 2299.7V2307.95M218.31 1776.1H233.7M758.2 2299.7V2315.42" stroke="#111" stroke-width="1.87" fill="none"/>
<path d="M403.7 1776.1V2299.7M233.7 2130.1H758.2" stroke="#111" stroke-width="2.2" fill="none"/>
<rect x="233.7" y="1776.1" width="524.5" height="523.6" fill="none" stroke="#111" stroke-width="2.86"/>
<text x="193.57" y="2299.37" font-size="24.19" font-family="Liberation Sans,sans-serif" fill="#1c1c1c" text-anchor="end">10</text>
<text x="196.31" y="2281.23" font-size="22.54" font-family="Liberation Sans,sans-serif" fill="#1c1c1c">0</text>
<text x="193.57" y="2177.27" font-size="24.19" font-family="Liberation Sans,sans-serif" fill="#1c1c1c" text-anchor="end">10</text>
<text x="196.31" y="2159.12" font-size="22.54" font-family="Liberation Sans,sans-serif" fill="#1c1c1c">1</text>
<text x="193.57" y="2046.37" font-size="24.19" font-family="Liberation Sans,sans-serif" fill="#1c1c1c" text-anchor="end">10</text>
<text x="196.31" y="2028.22" font-size="22.54" font-family="Liberation Sans,sans-serif" fill="#1c1c1c">2</text>
<text x="193.57" y="1915.47" font-size="24.19" font-family="Liberation Sans,sans-serif" fill="#1c1c1c" text-anchor="end">10</text>
<text x="196.31" y="1897.32" font-size="22.54" font-family="Liberation Sans,sans-serif" fill="#1c1c1c">3</text>
<text x="193.57" y="1821.95" font-size="24.19" font-family="Liberation Sans,sans-serif" fill="#1c1c1c" text-anchor="end">10</text>
<text x="196.31" y="1803.81" font-size="22.54" font-family="Liberation Sans,sans-serif" fill="#1c1c1c">4</text>
<text x="255.36" y="2352.26" font-size="24.19" font-family="Liberation Sans,sans-serif" fill="#1c1c1c" text-anchor="middle">10</text>
<text x="277.35" y="2334.34" font-size="22.54" font-family="Liberation Sans,sans-serif" fill="#1c1c1c" text-anchor="middle">0</text>
<text x="365.65" y="2352.26" font-size="24.19" font-family="Liberation Sans,sans-serif" fill="#1c1c1c" text-anchor="middle">10</text>
<text x="387.64" y="2334.34" font-size="22.54" font-family="Liberation Sans,sans-serif" fill="#1c1c1c" text-anchor="middle">1</text>
<text x="490.78" y="2352.26" font-size="24.19" font-family="Liberation Sans,sans-serif" fill="#1c1c1c" text-anchor="middle">10</text>
<text x="512.77" y="2334.34" font-size="22.54" font-family="Liberation Sans,sans-serif" fill="#1c1c1c" text-anchor="middle">2</text>
<text x="612.62" y="2352.26" font-size="24.19" font-family="Liberation Sans,sans-serif" fill="#1c1c1c" text-anchor="middle">10</text>
<text x="634.61" y="2334.34" font-size="22.54" font-family="Liberation Sans,sans-serif" fill="#1c1c1c" text-anchor="middle">3</text>
<text x="737.09" y="2352.26" font-size="24.19" font-family="Liberation Sans,sans-serif" fill="#1c1c1c" text-anchor="middle">10</text>
<text x="759.08" y="2334.34" font-size="22.54" font-family="Liberation Sans,sans-serif" fill="#1c1c1c" text-anchor="middle">4</text>
<text x="243.6" y="1802.49" font-size="23.31" font-family="Liberation Sans,sans-serif" fill="#222">Q1</text>
<text x="243.6" y="1835.92" font-size="23.31" font-family="Liberation Sans,sans-serif" fill="#222">3.43%</text>
<text x="678.37" y="1802.49" font-size="23.31" font-family="Liberation Sans,sans-serif" fill="#222">Q2</text>
<text x="678.37" y="1835.92" font-size="23.31" font-family="Liberation Sans,sans-serif" fill="#222">4.70%</text>
<text x="678.37" y="2257.48" font-size="23.31" font-family="Liberation Sans,sans-serif" fill="#222">Q3</text>
<text x="678.37" y="2290.24" font-size="23.31" font-family="Liberation Sans,sans-serif" fill="#222">2.37%</text>
<text x="243.6" y="2257.48" font-size="23.31" font-family="Liberation Sans,sans-serif" fill="#222">Q4</text>
<text x="243.6" y="2290.24" font-size="23.31" font-family="Liberation Sans,sans-serif" fill="#222">89.5%</text>
<text x="494.5" y="2419" font-size="24.52" font-family="Liberation Sans,sans-serif" fill="#1c1c1c" text-anchor="middle">FL1-H:: Annexin V-FITC</text>
<text x="121.8" y="2042.25" font-size="24.52" font-family="Liberation Sans,sans-serif" fill="#1c1c1c" text-anchor="middle" transform="rotate(-90 121.8 2034)">FL3-H:: PI</text>
<text x="359" y="1754.5" font-size="51" font-family="Liberation Serif,serif" fill="#000" textLength="186.5" lengthAdjust="spacingAndGlyphs">contorol</text>
<clipPath id="c2736"><rect x="952.7" y="1783.8" width="523.6" height="525.5"/></clipPath>
<g clip-path="url(#c2736)" stroke-width="2.36"><use href="#g4" stroke="#2424f4" transform="translate(1135.96 2162.16)scale(-1.05 0.53)rotate(175.78)"/><use href="#g2" stroke="#2424f4" transform="translate(1135.96 2162.16)scale(-1.05 0.53)rotate(222.82)"/><use href="#f5" stroke="#2424f4" transform="translate(1035.95 2106.46)scale(0.44 0.17)rotate(3.95)"/><use href="#f3" stroke="#2424f4" transform="translate(1035.95 2106.46)scale(0.44 0.17)rotate(274.56)"/><use href="#f2" stroke="#2424f4" transform="translate(1035.95 2106.46)scale(0.44 0.17)rotate(70.66)"/><use href="#f1" stroke="#2424f4" transform="translate(1035.95 2106.46)scale(0.44 0.17)rotate(232.53)"/><use href="#f4" stroke="#2424f4" transform="translate(1109.78 2099.1)scale(-0.58 0.21)rotate(219.1)"/><use href="#f1" stroke="#2424f4" transform="translate(1109.78 2099.1)scale(-0.58 0.21)rotate(14.14)"/><use href="#f5" stroke="#2424f4" transform="translate(1065.27 2188.43)scale(-0.39 0.39)rotate(21.71)"/><use href="#f3" stroke="#2424f4" transform="translate(1065.27 2188.43)scale(-0.39 0.39)rotate(56.82)"/><use href="#f2" stroke="#2424f4" transform="translate(1065.27 2188.43)scale(0.39 0.39)rotate(238.02)"/><use href="#f1" stroke="#2424f4" transform="translate(1065.27 2188.43)scale(-0.39 0.39)rotate(300.84)"/><use href="#f5" stroke="#2424f4" transform="translate(1230.21 2177.93)scale(0.45 0.48)rotate(183.82)"/><use href="#f4" stroke="#2424f4" transform="translate(1230.21 2177.93)scale(0.45 0.48)rotate(189.05)"/><use href="#f3" stroke="#2424f4" transform="translate(1230.21 2177.93)scale(0.45 0.48)rotate(183.66)"/><use href="#g3" stroke="#2424f4" transform="translate(1146.43 2141.14)scale(-0.42 0.47)rotate(36.72)"/><use href="#g2" stroke="#2424f4" transform="translate(1146.43 2141.14)scale(-0.42 0.47)rotate(93.03)"/><use href="#g1" stroke="#2424f4" transform="translate(1146.43 2141.14)scale(-0.42 0.47)rotate(22.7)"/><use href="#f3" stroke="#2424f4" transform="translate(1214.5 2088.59)scale(-1.05 0.26)rotate(137.28)"/><use href="#f2" stroke="#2424f4" transform="translate(1214.5 2088.59)scale(1.05 0.26)rotate(32.97)"/><use href="#g3" stroke="#2424f4" transform="translate(1135.96 2256.75)scale(1.05 0.26)rotate(124.16)"/><use href="#g2" stroke="#2424f4" transform="translate(1135.96 2256.75)scale(-1.05 0.26)rotate(161.36)"/><use href="#f3" stroke="#22d822" transform="translate(1015.53 2112.24)scale(-0.31 0.13)rotate(104.89)"/><use href="#f1" stroke="#22d822" transform="translate(1015.53 2112.24)scale(-0.31 0.13)rotate(314.84)"/><use href="#f1" stroke="#e8e020" transform="translate(1004.01 2116.97)scale(0.21 0.11)rotate(220.04)"/><use href="#f2" stroke="#f03018" transform="translate(1004.01 2116.97)scale(0.21 0.11)rotate(89.14)"/><use href="#f2" stroke="#22d822" transform="translate(1083.6 2104.36)scale(0.42 0.16)rotate(8.65)"/><use href="#f0" stroke="#22d822" transform="translate(1083.6 2104.36)scale(0.42 0.16)rotate(161.67)"/><use href="#f2" stroke="#22d822" transform="translate(1065.27 2188.43)scale(-0.31 0.32)rotate(272.5)"/><use href="#f1" stroke="#22d822" transform="translate(1065.27 2188.43)scale(-0.31 0.32)rotate(34.87)"/><use href="#f0" stroke="#22d822" transform="translate(1065.27 2188.43)scale(0.31 0.32)rotate(289.72)"/><use href="#f0" stroke="#f03018" transform="translate(1065.27 2188.43)scale(0.26 0.26)rotate(314.95)"/><use href="#f3" stroke="#22d822" transform="translate(1232.83 2177.93)scale(-0.34 0.37)rotate(205.63)"/><use href="#f1" stroke="#22d822" transform="translate(1232.83 2177.93)scale(-0.34 0.37)rotate(76.88)"/><use href="#f1" stroke="#f03018" transform="translate(1234.92 2175.82)scale(0.26 0.32)rotate(348.1)"/><use href="#u1" stroke="#2424f4" transform="translate(1109.78 2015.02)scale(1.47 0.32)rotate(90)"/></g>
<rect x="952.7" y="2247.82" width="89.01" height="61.48" fill="#fff" fill-opacity="0.8"/>
<path d="M937.33 2309.3H952.7M952.7 2309.3V2325M945.02 2269.75H952.7M992.1 2309.3V2317.53M945.02 2246.62H952.7M1015.16 2309.3V2317.53M945.02 2230.2H952.7M1031.51 2309.3V2317.53M945.02 2217.47H952.7M1044.2 2309.3V2317.53M945.02 2207.07H952.7M1054.56 2309.3V2317.53M945.02 2198.28H952.7M1063.32 2309.3V2317.53M945.02 2190.66H952.7M1070.91 2309.3V2317.53M945.02 2183.94H952.7M1077.61 2309.3V2317.53M937.33 2177.93H952.7M1083.6 2309.3V2325M945.02 2138.38H952.7M1123 2309.3V2317.53M945.02 2115.24H952.7M1146.06 2309.3V2317.53M945.02 2098.83H952.7M1162.41 2309.3V2317.53M945.02 2086.1H952.7M1175.1 2309.3V2317.53M945.02 2075.7H952.7M1185.46 2309.3V2317.53M945.02 2066.9H952.7M1194.22 2309.3V2317.53M945.02 2059.28H952.7M1201.81 2309.3V2317.53M945.02 2052.56H952.7M1208.51 2309.3V2317.53M937.33 2046.55H952.7M1214.5 2309.3V2325M945.02 2007H952.7M1253.9 2309.3V2317.53M945.02 1983.87H952.7M1276.96 2309.3V2317.53M945.02 1967.45H952.7M1293.31 2309.3V2317.53M945.02 1954.72H952.7M1306 2309.3V2317.53M945.02 1944.32H952.7M1316.36 2309.3V2317.53M945.02 1935.53H952.7M1325.12 2309.3V2317.53M945.02 1927.91H952.7M1332.71 2309.3V2317.53M945.02 1921.19H952.7M1339.41 2309.3V2317.53M937.33 1915.17H952.7M1345.4 2309.3V2325M945.02 1875.63H952.7M1384.8 2309.3V2317.53M945.02 1852.49H952.7M1407.86 2309.3V2317.53M945.02 1836.08H952.7M1424.21 2309.3V2317.53M945.02 1823.35H952.7M1436.9 2309.3V2317.53M945.02 1812.95H952.7M1447.26 2309.3V2317.53M945.02 1804.15H952.7M1456.02 2309.3V2317.53M945.02 1796.53H952.7M1463.61 2309.3V2317.53M945.02 1789.81H952.7M1470.31 2309.3V2317.53M937.33 1783.8H952.7M1476.3 2309.3V2325" stroke="#111" stroke-width="1.87" fill="none"/>
<path d="M1117.5 1783.8V2309.3M952.7 2134.4H1476.3" stroke="#111" stroke-width="2.2" fill="none"/>
<rect x="952.7" y="1783.8" width="523.6" height="525.5" fill="none" stroke="#111" stroke-width="2.85"/>
<text x="912.63" y="2308.97" font-size="24.15" font-family="Liberation Sans,sans-serif" fill="#1c1c1c" text-anchor="end">10</text>
<text x="915.38" y="2290.86" font-size="22.5" font-family="Liberation Sans,sans-serif" fill="#1c1c1c">0</text>
<text x="912.63" y="2186.38" font-size="24.15" font-family="Liberation Sans,sans-serif" fill="#1c1c1c" text-anchor="end">10</text>
<text x="915.38" y="2168.27" font-size="22.5" font-family="Liberation Sans,sans-serif" fill="#1c1c1c">1</text>
<text x="912.63" y="2055" font-size="24.15" font-family="Liberation Sans,sans-serif" fill="#1c1c1c" text-anchor="end">10</text>
<text x="915.38" y="2036.89" font-size="22.5" font-family="Liberation Sans,sans-serif" fill="#1c1c1c">2</text>
<text x="912.63" y="1923.63" font-size="24.15" font-family="Liberation Sans,sans-serif" fill="#1c1c1c" text-anchor="end">10</text>
<text x="915.38" y="1905.52" font-size="22.5" font-family="Liberation Sans,sans-serif" fill="#1c1c1c">3</text>
<text x="912.63" y="1829.57" font-size="24.15" font-family="Liberation Sans,sans-serif" fill="#1c1c1c" text-anchor="end">10</text>
<text x="915.38" y="1811.46" font-size="22.5" font-family="Liberation Sans,sans-serif" fill="#1c1c1c">4</text>
<text x="974.32" y="2361.77" font-size="24.15" font-family="Liberation Sans,sans-serif" fill="#1c1c1c" text-anchor="middle">10</text>
<text x="996.28" y="2343.88" font-size="22.5" font-family="Liberation Sans,sans-serif" fill="#1c1c1c" text-anchor="middle">0</text>
<text x="1084.42" y="2361.77" font-size="24.15" font-family="Liberation Sans,sans-serif" fill="#1c1c1c" text-anchor="middle">10</text>
<text x="1106.38" y="2343.88" font-size="22.5" font-family="Liberation Sans,sans-serif" fill="#1c1c1c" text-anchor="middle">1</text>
<text x="1209.34" y="2361.77" font-size="24.15" font-family="Liberation Sans,sans-serif" fill="#1c1c1c" text-anchor="middle">10</text>
<text x="1231.29" y="2343.88" font-size="22.5" font-family="Liberation Sans,sans-serif" fill="#1c1c1c" text-anchor="middle">2</text>
<text x="1330.97" y="2361.77" font-size="24.15" font-family="Liberation Sans,sans-serif" fill="#1c1c1c" text-anchor="middle">10</text>
<text x="1352.92" y="2343.88" font-size="22.5" font-family="Liberation Sans,sans-serif" fill="#1c1c1c" text-anchor="middle">3</text>
<text x="1455.22" y="2361.77" font-size="24.15" font-family="Liberation Sans,sans-serif" fill="#1c1c1c" text-anchor="middle">10</text>
<text x="1477.18" y="2343.88" font-size="22.5" font-family="Liberation Sans,sans-serif" fill="#1c1c1c" text-anchor="middle">4</text>
<text x="962.58" y="1810.14" font-size="23.27" font-family="Liberation Sans,sans-serif" fill="#222">Q1</text>
<text x="962.58" y="1843.51" font-size="23.27" font-family="Liberation Sans,sans-serif" fill="#222">29.7%</text>
<text x="1396.61" y="1810.14" font-size="23.27" font-family="Liberation Sans,sans-serif" fill="#222">Q2</text>
<text x="1396.61" y="1843.51" font-size="23.27" font-family="Liberation Sans,sans-serif" fill="#222">12.8%</text>
<text x="1396.61" y="2267.15" font-size="23.27" font-family="Liberation Sans,sans-serif" fill="#222">Q3</text>
<text x="1396.61" y="2299.86" font-size="23.27" font-family="Liberation Sans,sans-serif" fill="#222">32.1%</text>
<text x="962.58" y="2267.15" font-size="23.27" font-family="Liberation Sans,sans-serif" fill="#222">Q4</text>
<text x="962.58" y="2299.86" font-size="23.27" font-family="Liberation Sans,sans-serif" fill="#222">25.4%</text>
<text x="1213.1" y="2429" font-size="24.48" font-family="Liberation Sans,sans-serif" fill="#1c1c1c" text-anchor="middle">FL1-H:: Annexin V-FITC</text>
<text x="839.4" y="2054.73" font-size="24.48" font-family="Liberation Sans,sans-serif" fill="#1c1c1c" text-anchor="middle" transform="rotate(-90 839.4 2046.5)">FL3-H:: PI</text>
<text x="1138.6" y="1753.5" font-size="52.5" font-family="Liberation Serif,serif" fill="#000" textLength="111.1" lengthAdjust="spacingAndGlyphs">ATO</text>
<clipPath id="c3396"><rect x="1621.1" y="1775.6" width="536.6" height="537.5"/></clipPath>
<g clip-path="url(#c3396)" stroke-width="2.42"><use href="#g5" stroke="#2424f4" transform="translate(1706.96 2001.35)rotate(-30)scale(-0.59 0.3)rotate(65.41)"/><use href="#f5" stroke="#2424f4" transform="translate(1701.59 2004.04)rotate(-30)scale(0.51 0.24)rotate(149.35)"/><use href="#f4" stroke="#2424f4" transform="translate(1701.59 2004.04)rotate(-30)scale(0.51 0.24)rotate(245.4)"/><use href="#f3" stroke="#2424f4" transform="translate(1701.59 2004.04)rotate(-30)scale(-0.51 0.24)rotate(140.81)"/><use href="#f2" stroke="#2424f4" transform="translate(1701.59 2004.04)rotate(-30)scale(-0.51 0.24)rotate(39.75)"/><use href="#f5" stroke="#2424f4" transform="translate(1916.77 1982.54)rotate(-8)scale(0.89 0.3)rotate(309.59)"/><use href="#f4" stroke="#2424f4" transform="translate(1916.77 1982.54)rotate(-8)scale(0.89 0.3)rotate(329.47)"/><use href="#f3" stroke="#2424f4" transform="translate(1916.77 1982.54)rotate(-8)scale(-0.89 0.3)rotate(141.88)"/><use href="#f2" stroke="#2424f4" transform="translate(1916.77 1982.54)rotate(-8)scale(-0.89 0.3)rotate(20.85)"/><use href="#f4" stroke="#2424f4" transform="translate(1787.45 1990.6)scale(-0.38 0.35)rotate(274.98)"/><use href="#f3" stroke="#2424f4" transform="translate(1787.45 1990.6)scale(0.38 0.35)rotate(104.06)"/><use href="#f2" stroke="#2424f4" transform="translate(1787.45 1990.6)scale(0.38 0.35)rotate(137.75)"/><use href="#f4" stroke="#22d822" transform="translate(1693.54 2009.41)rotate(-30)scale(0.43 0.19)rotate(58.35)"/><use href="#f3" stroke="#22d822" transform="translate(1693.54 2009.41)rotate(-30)scale(-0.43 0.19)rotate(4.2)"/><use href="#f2" stroke="#22d822" transform="translate(1693.54 2009.41)rotate(-30)scale(-0.43 0.19)rotate(93.27)"/><use href="#f3" stroke="#e8e020" transform="translate(1690.86 2009.41)rotate(-30)scale(0.38 0.16)rotate(5.91)"/><use href="#f2" stroke="#f0a020" transform="translate(1690.86 2009.41)rotate(-30)scale(0.38 0.16)rotate(271.03)"/><use href="#f0" stroke="#f0a020" transform="translate(1690.86 2009.41)rotate(-30)scale(-0.38 0.16)rotate(190.78)"/><use href="#f3" stroke="#f03018" transform="translate(1690.86 2009.41)rotate(-30)scale(-0.35 0.15)rotate(34.02)"/><use href="#f4" stroke="#2424f4" transform="translate(1701.59 2004.04)rotate(-30)scale(-0.48 0.21)rotate(298.65)"/><use href="#f2" stroke="#2424f4" transform="translate(1701.59 2004.04)rotate(-30)scale(-0.48 0.21)rotate(39.47)"/><use href="#f2" stroke="#22d822" transform="translate(1889.4 1985.22)rotate(-8)scale(-0.8 0.21)rotate(31.69)"/><use href="#g4" stroke="#2424f4" transform="translate(1851.84 2151.85)scale(0.8 0.7)rotate(178.21)"/><use href="#g3" stroke="#2424f4" transform="translate(1851.84 2151.85)scale(-0.8 0.7)rotate(28.4)"/><use href="#g1" stroke="#2424f4" transform="translate(1851.84 2151.85)scale(0.8 0.7)rotate(226.57)"/><use href="#g3" stroke="#2424f4" transform="translate(1819.64 2065.85)scale(0.64 0.27)rotate(339.59)"/><use href="#g1" stroke="#2424f4" transform="translate(1819.64 2065.85)scale(-0.64 0.27)rotate(55.38)"/></g>
<path d="M1605.35 2313.1H1621.1M1621.1 2313.1V2329.19M1613.23 2272.65H1621.1M1661.48 2313.1V2321.54M1613.23 2248.99H1621.1M1685.11 2313.1V2321.54M1613.23 2232.2H1621.1M1701.87 2313.1V2321.54M1613.23 2219.18H1621.1M1714.87 2313.1V2321.54M1613.23 2208.54H1621.1M1725.49 2313.1V2321.54M1613.23 2199.54H1621.1M1734.47 2313.1V2321.54M1613.23 2191.75H1621.1M1742.25 2313.1V2321.54M1613.23 2184.87H1621.1M1749.11 2313.1V2321.54M1605.35 2178.72H1621.1M1755.25 2313.1V2329.19M1613.23 2138.27H1621.1M1795.63 2313.1V2321.54M1613.23 2114.61H1621.1M1819.26 2313.1V2321.54M1613.23 2097.82H1621.1M1836.02 2313.1V2321.54M1613.23 2084.8H1621.1M1849.02 2313.1V2321.54M1613.23 2074.16H1621.1M1859.64 2313.1V2321.54M1613.23 2065.16H1621.1M1868.62 2313.1V2321.54M1613.23 2057.37H1621.1M1876.4 2313.1V2321.54M1613.23 2050.5H1621.1M1883.26 2313.1V2321.54M1605.35 2044.35H1621.1M1889.4 2313.1V2329.19M1613.23 2003.9H1621.1M1929.78 2313.1V2321.54M1613.23 1980.24H1621.1M1953.41 2313.1V2321.54M1613.23 1963.45H1621.1M1970.17 2313.1V2321.54M1613.23 1950.43H1621.1M1983.17 2313.1V2321.54M1613.23 1939.79H1621.1M1993.79 2313.1V2321.54M1613.23 1930.79H1621.1M2002.77 2313.1V2321.54M1613.23 1923H1621.1M2010.55 2313.1V2321.54M1613.23 1916.12H1621.1M2017.41 2313.1V2321.54M1605.35 1909.97H1621.1M2023.55 2313.1V2329.19M1613.23 1869.52H1621.1M2063.93 2313.1V2321.54M1613.23 1845.86H1621.1M2087.56 2313.1V2321.54M1613.23 1829.07H1621.1M2104.32 2313.1V2321.54M1613.23 1816.05H1621.1M2117.32 2313.1V2321.54M1613.23 1805.41H1621.1M2127.94 2313.1V2321.54M1613.23 1796.41H1621.1M2136.92 2313.1V2321.54M1613.23 1788.62H1621.1M2144.7 2313.1V2321.54M1613.23 1781.75H1621.1M2151.56 2313.1V2321.54M1605.35 1775.6H1621.1M2157.7 2313.1V2329.19" stroke="#111" stroke-width="1.91" fill="none"/>
<path d="M1799.8 1775.6V2313.1M1621.1 2138.8H2157.7" stroke="#111" stroke-width="2.25" fill="none"/>
<rect x="1621.1" y="1775.6" width="536.6" height="537.5" fill="none" stroke="#111" stroke-width="2.92"/>
<text x="1580.04" y="2312.76" font-size="24.75" font-family="Liberation Sans,sans-serif" fill="#1c1c1c" text-anchor="end">10</text>
<text x="1582.85" y="2294.2" font-size="23.06" font-family="Liberation Sans,sans-serif" fill="#1c1c1c">0</text>
<text x="1580.04" y="2187.39" font-size="24.75" font-family="Liberation Sans,sans-serif" fill="#1c1c1c" text-anchor="end">10</text>
<text x="1582.85" y="2168.83" font-size="23.06" font-family="Liberation Sans,sans-serif" fill="#1c1c1c">1</text>
<text x="1580.04" y="2053.01" font-size="24.75" font-family="Liberation Sans,sans-serif" fill="#1c1c1c" text-anchor="end">10</text>
<text x="1582.85" y="2034.45" font-size="23.06" font-family="Liberation Sans,sans-serif" fill="#1c1c1c">2</text>
<text x="1580.04" y="1918.64" font-size="24.75" font-family="Liberation Sans,sans-serif" fill="#1c1c1c" text-anchor="end">10</text>
<text x="1582.85" y="1900.08" font-size="23.06" font-family="Liberation Sans,sans-serif" fill="#1c1c1c">3</text>
<text x="1580.04" y="1822.51" font-size="24.75" font-family="Liberation Sans,sans-serif" fill="#1c1c1c" text-anchor="end">10</text>
<text x="1582.85" y="1803.95" font-size="23.06" font-family="Liberation Sans,sans-serif" fill="#1c1c1c">4</text>
<text x="1643.26" y="2366.87" font-size="24.75" font-family="Liberation Sans,sans-serif" fill="#1c1c1c" text-anchor="middle">10</text>
<text x="1665.76" y="2348.54" font-size="23.06" font-family="Liberation Sans,sans-serif" fill="#1c1c1c" text-anchor="middle">0</text>
<text x="1756.09" y="2366.87" font-size="24.75" font-family="Liberation Sans,sans-serif" fill="#1c1c1c" text-anchor="middle">10</text>
<text x="1778.59" y="2348.54" font-size="23.06" font-family="Liberation Sans,sans-serif" fill="#1c1c1c" text-anchor="middle">1</text>
<text x="1884.11" y="2366.87" font-size="24.75" font-family="Liberation Sans,sans-serif" fill="#1c1c1c" text-anchor="middle">10</text>
<text x="1906.61" y="2348.54" font-size="23.06" font-family="Liberation Sans,sans-serif" fill="#1c1c1c" text-anchor="middle">2</text>
<text x="2008.76" y="2366.87" font-size="24.75" font-family="Liberation Sans,sans-serif" fill="#1c1c1c" text-anchor="middle">10</text>
<text x="2031.26" y="2348.54" font-size="23.06" font-family="Liberation Sans,sans-serif" fill="#1c1c1c" text-anchor="middle">3</text>
<text x="2136.1" y="2366.87" font-size="24.75" font-family="Liberation Sans,sans-serif" fill="#1c1c1c" text-anchor="middle">10</text>
<text x="2158.6" y="2348.54" font-size="23.06" font-family="Liberation Sans,sans-serif" fill="#1c1c1c" text-anchor="middle">4</text>
<text x="1631.22" y="1802.6" font-size="23.85" font-family="Liberation Sans,sans-serif" fill="#222">Q1</text>
<text x="1631.22" y="1836.8" font-size="23.85" font-family="Liberation Sans,sans-serif" fill="#222">59.0%</text>
<text x="2076.03" y="1802.6" font-size="23.85" font-family="Liberation Sans,sans-serif" fill="#222">Q2</text>
<text x="2076.03" y="1836.8" font-size="23.85" font-family="Liberation Sans,sans-serif" fill="#222">31.0%</text>
<text x="2076.03" y="2269.9" font-size="23.85" font-family="Liberation Sans,sans-serif" fill="#222">Q3</text>
<text x="2076.03" y="2303.43" font-size="23.85" font-family="Liberation Sans,sans-serif" fill="#222">6.63%</text>
<text x="1631.22" y="2269.9" font-size="23.85" font-family="Liberation Sans,sans-serif" fill="#222">Q4</text>
<text x="1631.22" y="2303.43" font-size="23.85" font-family="Liberation Sans,sans-serif" fill="#222">3.38%</text>
<text x="1888.7" y="2435" font-size="25.09" font-family="Liberation Sans,sans-serif" fill="#1c1c1c" text-anchor="middle">Annexin V-FITC</text>
<text x="1801.2" y="1752.1" font-size="52.5" font-family="Liberation Serif,serif" fill="#000" textLength="121.7" lengthAdjust="spacingAndGlyphs">DOC</text>
<clipPath id="c2827"><rect x="227" y="2600.1" width="538.4" height="542.8"/></clipPath>
<g clip-path="url(#c2827)" stroke-width="2.43"><use href="#g5" stroke="#2424f4" transform="translate(323.91 3023.48)scale(-0.7 0.49)rotate(268.33)"/><use href="#g2" stroke="#2424f4" transform="translate(323.91 3023.48)scale(-0.7 0.49)rotate(42.26)"/><use href="#f6" stroke="#2424f4" transform="translate(326.07 3047.91)scale(0.51 0.33)rotate(329.38)"/><use href="#f4" stroke="#2424f4" transform="translate(326.07 3047.91)scale(0.51 0.33)rotate(152.41)"/><use href="#f4" stroke="#20d0c0" transform="translate(326.07 3047.91)scale(-0.43 0.27)rotate(189.72)"/><use href="#f3" stroke="#20d0c0" transform="translate(326.07 3047.91)scale(-0.43 0.27)rotate(328.57)"/><use href="#f2" stroke="#20d0c0" transform="translate(326.07 3047.91)scale(0.43 0.27)rotate(69.59)"/><use href="#f5" stroke="#22d822" transform="translate(326.07 3047.91)scale(-0.4 0.24)rotate(214.76)"/><use href="#f1" stroke="#e8e020" transform="translate(326.07 3047.91)scale(0.32 0.19)rotate(113.72)"/><use href="#f0" stroke="#e8e020" transform="translate(326.07 3047.91)scale(0.32 0.19)rotate(323.42)"/><use href="#f1" stroke="#f0a020" transform="translate(326.07 3047.91)scale(-0.32 0.19)rotate(261.23)"/><use href="#f2" stroke="#f03018" transform="translate(326.07 3047.91)scale(0.3 0.17)rotate(194.97)"/><use href="#f4" stroke="#2424f4" transform="translate(326.07 3047.91)scale(-0.46 0.3)rotate(27.84)"/><use href="#f3" stroke="#2424f4" transform="translate(326.07 3047.91)scale(-0.46 0.3)rotate(331.6)"/><use href="#g4" stroke="#2424f4" transform="translate(512.35 3050.62)scale(-0.46 0.49)rotate(45.56)"/><use href="#g3" stroke="#2424f4" transform="translate(512.35 3050.62)scale(0.46 0.49)rotate(206.23)"/><use href="#f5" stroke="#2424f4" transform="translate(516.66 3054.97)rotate(-40)scale(-0.4 0.24)rotate(62.66)"/><use href="#f2" stroke="#2424f4" transform="translate(516.66 3054.97)rotate(-40)scale(-0.4 0.24)rotate(215.62)"/><use href="#f3" stroke="#20d0c0" transform="translate(516.66 3054.97)rotate(-40)scale(-0.27 0.17)rotate(108.02)"/><use href="#f3" stroke="#22d822" transform="translate(516.66 3054.97)rotate(-40)scale(0.27 0.17)rotate(172.18)"/><use href="#f1" stroke="#22d822" transform="translate(516.66 3054.97)rotate(-40)scale(-0.27 0.17)rotate(128.81)"/><use href="#f0" stroke="#e8e020" transform="translate(516.66 3054.97)rotate(-40)scale(0.19 0.14)rotate(102.33)"/><use href="#f1" stroke="#f03018" transform="translate(516.66 3054.97)rotate(-40)scale(-0.19 0.14)rotate(42.44)"/><use href="#f3" stroke="#2424f4" transform="translate(516.66 3054.97)rotate(-40)scale(0.38 0.22)rotate(198.32)"/><use href="#f2" stroke="#2424f4" transform="translate(516.66 3054.97)rotate(-40)scale(-0.38 0.22)rotate(128.55)"/><use href="#f3" stroke="#2424f4" transform="translate(552.73 2942.06)scale(0.22 0.33)rotate(123.53)"/><use href="#f2" stroke="#2424f4" transform="translate(552.73 2942.06)scale(-0.22 0.33)rotate(205.4)"/><use href="#f2" stroke="#2424f4" transform="translate(544.66 2996.34)scale(0.16 0.22)rotate(147.94)"/><use href="#f0" stroke="#2424f4" transform="translate(544.66 2996.34)scale(-0.16 0.22)rotate(293.07)"/><use href="#f0" stroke="#20d0c0" transform="translate(552.73 2936.64)scale(-0.11 0.16)rotate(237.57)"/><use href="#f2" stroke="#2424f4" transform="translate(469.28 2914.92)scale(-0.38 0.27)rotate(222.59)"/><use href="#f1" stroke="#2424f4" transform="translate(469.28 2914.92)scale(0.38 0.27)rotate(166.62)"/><use href="#f0" stroke="#2424f4" transform="translate(469.28 2914.92)scale(0.38 0.27)rotate(325.03)"/><use href="#u2" stroke="#2424f4" transform="translate(334.68 2947.49)scale(1.02 0.27)rotate(180)"/><use href="#u0" stroke="#2424f4" transform="translate(334.68 2947.49)scale(1.02 0.27)rotate(270)"/><use href="#g3" stroke="#2424f4" transform="translate(442.36 3034.34)scale(0.27 0.49)rotate(282.68)"/></g>
<rect x="227" y="3072.88" width="92.07" height="70.02" fill="#fff" fill-opacity="0.85"/>
<path d="M211.2 3142.9H227M227 3142.9V3159.04M219.1 3102.05H227M267.52 3142.9V3151.37M219.1 3078.15H227M291.22 3142.9V3151.37M219.1 3061.2H227M308.04 3142.9V3151.37M219.1 3048.05H227M321.08 3142.9V3151.37M219.1 3037.3H227M331.74 3142.9V3151.37M219.1 3028.22H227M340.75 3142.9V3151.37M219.1 3020.35H227M348.56 3142.9V3151.37M219.1 3013.41H227M355.44 3142.9V3151.37M211.2 3007.2H227M361.6 3142.9V3159.04M219.1 2966.35H227M402.12 3142.9V3151.37M219.1 2942.45H227M425.82 3142.9V3151.37M219.1 2925.5H227M442.64 3142.9V3151.37M219.1 2912.35H227M455.68 3142.9V3151.37M219.1 2901.6H227M466.34 3142.9V3151.37M219.1 2892.52H227M475.35 3142.9V3151.37M219.1 2884.65H227M483.16 3142.9V3151.37M219.1 2877.71H227M490.04 3142.9V3151.37M211.2 2871.5H227M496.2 3142.9V3159.04M219.1 2830.65H227M536.72 3142.9V3151.37M219.1 2806.75H227M560.42 3142.9V3151.37M219.1 2789.8H227M577.24 3142.9V3151.37M219.1 2776.65H227M590.28 3142.9V3151.37M219.1 2765.9H227M600.94 3142.9V3151.37M219.1 2756.82H227M609.95 3142.9V3151.37M219.1 2748.95H227M617.76 3142.9V3151.37M219.1 2742.01H227M624.64 3142.9V3151.37M211.2 2735.8H227M630.8 3142.9V3159.04M219.1 2694.95H227M671.32 3142.9V3151.37M219.1 2671.05H227M695.02 3142.9V3151.37M219.1 2654.1H227M711.84 3142.9V3151.37M219.1 2640.95H227M724.88 3142.9V3151.37M219.1 2630.2H227M735.54 3142.9V3151.37M219.1 2621.12H227M744.55 3142.9V3151.37M219.1 2613.25H227M752.36 3142.9V3151.37M219.1 2606.31H227M759.24 3142.9V3151.37M211.2 2600.1H227M765.4 3142.9V3159.04" stroke="#111" stroke-width="1.92" fill="none"/>
<path d="M405.7 2600.1V3142.9M227 2967.1H765.4" stroke="#111" stroke-width="2.26" fill="none"/>
<rect x="227" y="2600.1" width="538.4" height="542.8" fill="none" stroke="#111" stroke-width="2.93"/>
<text x="185.8" y="3142.56" font-size="24.83" font-family="Liberation Sans,sans-serif" fill="#1c1c1c" text-anchor="end">10</text>
<text x="188.62" y="3123.94" font-size="23.14" font-family="Liberation Sans,sans-serif" fill="#1c1c1c">0</text>
<text x="185.8" y="3015.89" font-size="24.83" font-family="Liberation Sans,sans-serif" fill="#1c1c1c" text-anchor="end">10</text>
<text x="188.62" y="2997.27" font-size="23.14" font-family="Liberation Sans,sans-serif" fill="#1c1c1c">1</text>
<text x="185.8" y="2880.19" font-size="24.83" font-family="Liberation Sans,sans-serif" fill="#1c1c1c" text-anchor="end">10</text>
<text x="188.62" y="2861.57" font-size="23.14" font-family="Liberation Sans,sans-serif" fill="#1c1c1c">2</text>
<text x="185.8" y="2744.49" font-size="24.83" font-family="Liberation Sans,sans-serif" fill="#1c1c1c" text-anchor="end">10</text>
<text x="188.62" y="2725.87" font-size="23.14" font-family="Liberation Sans,sans-serif" fill="#1c1c1c">3</text>
<text x="185.8" y="2647.17" font-size="24.83" font-family="Liberation Sans,sans-serif" fill="#1c1c1c" text-anchor="end">10</text>
<text x="188.62" y="2628.54" font-size="23.14" font-family="Liberation Sans,sans-serif" fill="#1c1c1c">4</text>
<text x="249.24" y="3196.85" font-size="24.83" font-family="Liberation Sans,sans-serif" fill="#1c1c1c" text-anchor="middle">10</text>
<text x="271.81" y="3178.45" font-size="23.14" font-family="Liberation Sans,sans-serif" fill="#1c1c1c" text-anchor="middle">0</text>
<text x="362.45" y="3196.85" font-size="24.83" font-family="Liberation Sans,sans-serif" fill="#1c1c1c" text-anchor="middle">10</text>
<text x="385.02" y="3178.45" font-size="23.14" font-family="Liberation Sans,sans-serif" fill="#1c1c1c" text-anchor="middle">1</text>
<text x="490.9" y="3196.85" font-size="24.83" font-family="Liberation Sans,sans-serif" fill="#1c1c1c" text-anchor="middle">10</text>
<text x="513.47" y="3178.45" font-size="23.14" font-family="Liberation Sans,sans-serif" fill="#1c1c1c" text-anchor="middle">2</text>
<text x="615.96" y="3196.85" font-size="24.83" font-family="Liberation Sans,sans-serif" fill="#1c1c1c" text-anchor="middle">10</text>
<text x="638.53" y="3178.45" font-size="23.14" font-family="Liberation Sans,sans-serif" fill="#1c1c1c" text-anchor="middle">3</text>
<text x="743.73" y="3196.85" font-size="24.83" font-family="Liberation Sans,sans-serif" fill="#1c1c1c" text-anchor="middle">10</text>
<text x="766.3" y="3178.45" font-size="23.14" font-family="Liberation Sans,sans-serif" fill="#1c1c1c" text-anchor="middle">4</text>
<text x="237.16" y="2627.19" font-size="23.93" font-family="Liberation Sans,sans-serif" fill="#222">Q1</text>
<text x="237.16" y="2661.5" font-size="23.93" font-family="Liberation Sans,sans-serif" fill="#222">1.37%</text>
<text x="683.45" y="2627.19" font-size="23.93" font-family="Liberation Sans,sans-serif" fill="#222">Q2</text>
<text x="683.45" y="2661.5" font-size="23.93" font-family="Liberation Sans,sans-serif" fill="#222">5.16%</text>
<text x="683.45" y="3099.56" font-size="23.93" font-family="Liberation Sans,sans-serif" fill="#222">Q3</text>
<text x="683.45" y="3133.19" font-size="23.93" font-family="Liberation Sans,sans-serif" fill="#222">26.0%</text>
<text x="237.16" y="3099.56" font-size="23.93" font-family="Liberation Sans,sans-serif" fill="#222">Q4</text>
<text x="237.16" y="3133.19" font-size="23.93" font-family="Liberation Sans,sans-serif" fill="#222">67.5%</text>
<text x="494.5" y="3266" font-size="25.17" font-family="Liberation Sans,sans-serif" fill="#1c1c1c" text-anchor="middle">FL1-H:: Annexin V-FITC</text>
<text x="109.8" y="2879.97" font-size="25.17" font-family="Liberation Sans,sans-serif" fill="#1c1c1c" text-anchor="middle" transform="rotate(-90 109.8 2871.5)">FL3-H:: PI</text>
<text x="418.6" y="2570.3" font-size="52.5" font-family="Liberation Serif,serif" fill="#000" textLength="117.3" lengthAdjust="spacingAndGlyphs">OXA</text>
<clipPath id="c3549"><rect x="953.7" y="2596.2" width="559.1" height="560.1"/></clipPath>
<g clip-path="url(#c3549)" stroke-width="2.52"><use href="#g5" stroke="#2424f4" transform="translate(1166.16 2915.46)scale(0.95 0.9)rotate(144.64)"/><use href="#g4" stroke="#2424f4" transform="translate(1166.16 2915.46)scale(0.95 0.9)rotate(238.98)"/><use href="#g3" stroke="#2424f4" transform="translate(1166.16 2915.46)scale(-0.95 0.9)rotate(211.27)"/><use href="#g2" stroke="#2424f4" transform="translate(1166.16 2915.46)scale(-0.95 0.9)rotate(89.88)"/><use href="#f6" stroke="#2424f4" transform="translate(1167.28 2909.86)scale(-0.81 1.06)rotate(185.78)"/><use href="#f6" stroke="#2424f4" transform="translate(1167.28 2909.86)scale(-0.81 1.06)rotate(150.41)"/><use href="#f2" stroke="#2424f4" transform="translate(1167.28 2909.86)scale(-0.81 1.06)rotate(102.6)"/><use href="#f6" stroke="#2424f4" transform="translate(1168.95 2943.46)scale(0.62 0.67)rotate(48.96)"/><use href="#f3" stroke="#2424f4" transform="translate(1168.95 2943.46)scale(0.62 0.67)rotate(26.07)"/><use href="#f4" stroke="#2424f4" transform="translate(1024.99 3055.48)scale(0.28 0.28)rotate(131.35)"/><use href="#f2" stroke="#2424f4" transform="translate(1024.99 3055.48)scale(-0.28 0.28)rotate(51.51)"/><use href="#g3" stroke="#2424f4" transform="translate(1026.38 3055.48)scale(0.39 0.39)rotate(90.17)"/><use href="#g1" stroke="#2424f4" transform="translate(1026.38 3055.48)scale(-0.39 0.39)rotate(312.21)"/><use href="#f4" stroke="#2424f4" transform="translate(1093.47 2999.47)rotate(-40)scale(-0.45 0.34)rotate(210.82)"/><use href="#f3" stroke="#2424f4" transform="translate(1093.47 2999.47)rotate(-40)scale(-0.45 0.34)rotate(113.73)"/><use href="#f4" stroke="#22d822" transform="translate(1166.16 2943.46)scale(0.62 0.67)rotate(288.79)"/><use href="#f2" stroke="#e8e020" transform="translate(1166.16 2949.06)scale(-0.5 0.56)rotate(23.65)"/><use href="#f3" stroke="#f03018" transform="translate(1166.16 2949.06)scale(0.5 0.56)rotate(291.86)"/><use href="#f1" stroke="#22d822" transform="translate(1026.38 3055.48)scale(-0.22 0.22)rotate(93.2)"/></g>
<rect x="953.7" y="3090.77" width="95.05" height="65.53" fill="#fff" fill-opacity="0.8"/>
<path d="M937.29 3156.3H953.7M953.7 3156.3V3173.06M945.5 3114.15H953.7M995.78 3156.3V3165.09M945.5 3089.49H953.7M1020.39 3156.3V3165.09M945.5 3072H953.7M1037.85 3156.3V3165.09M945.5 3058.43H953.7M1051.4 3156.3V3165.09M945.5 3047.34H953.7M1062.47 3156.3V3165.09M945.5 3037.97H953.7M1071.82 3156.3V3165.09M945.5 3029.84H953.7M1079.93 3156.3V3165.09M945.5 3022.68H953.7M1087.08 3156.3V3165.09M937.29 3016.28H953.7M1093.47 3156.3V3173.06M945.5 2974.12H953.7M1135.55 3156.3V3165.09M945.5 2949.47H953.7M1160.16 3156.3V3165.09M945.5 2931.97H953.7M1177.63 3156.3V3165.09M945.5 2918.4H953.7M1191.17 3156.3V3165.09M945.5 2907.31H953.7M1202.24 3156.3V3165.09M945.5 2897.94H953.7M1211.6 3156.3V3165.09M945.5 2889.82H953.7M1219.7 3156.3V3165.09M945.5 2882.66H953.7M1226.85 3156.3V3165.09M937.29 2876.25H953.7M1233.25 3156.3V3173.06M945.5 2834.1H953.7M1275.33 3156.3V3165.09M945.5 2809.44H953.7M1299.94 3156.3V3165.09M945.5 2791.95H953.7M1317.4 3156.3V3165.09M945.5 2778.38H953.7M1330.95 3156.3V3165.09M945.5 2767.29H953.7M1342.02 3156.3V3165.09M945.5 2757.92H953.7M1351.37 3156.3V3165.09M945.5 2749.79H953.7M1359.48 3156.3V3165.09M945.5 2742.63H953.7M1366.63 3156.3V3165.09M937.29 2736.22H953.7M1373.03 3156.3V3173.06M945.5 2694.07H953.7M1415.1 3156.3V3165.09M945.5 2669.42H953.7M1439.71 3156.3V3165.09M945.5 2651.92H953.7M1457.18 3156.3V3165.09M945.5 2638.35H953.7M1470.72 3156.3V3165.09M945.5 2627.26H953.7M1481.79 3156.3V3165.09M945.5 2617.89H953.7M1491.15 3156.3V3165.09M945.5 2609.77H953.7M1499.25 3156.3V3165.09M945.5 2602.61H953.7M1506.4 3156.3V3165.09M937.29 2596.2H953.7M1512.8 3156.3V3173.06" stroke="#111" stroke-width="1.99" fill="none"/>
<path d="M1134.8 2596.2V3156.3M953.7 2974.7H1512.8" stroke="#111" stroke-width="2.34" fill="none"/>
<rect x="953.7" y="2596.2" width="559.1" height="560.1" fill="none" stroke="#111" stroke-width="3.05"/>
<text x="910.92" y="3155.95" font-size="25.79" font-family="Liberation Sans,sans-serif" fill="#1c1c1c" text-anchor="end">10</text>
<text x="913.85" y="3136.61" font-size="24.03" font-family="Liberation Sans,sans-serif" fill="#1c1c1c">0</text>
<text x="910.92" y="3025.3" font-size="25.79" font-family="Liberation Sans,sans-serif" fill="#1c1c1c" text-anchor="end">10</text>
<text x="913.85" y="3005.96" font-size="24.03" font-family="Liberation Sans,sans-serif" fill="#1c1c1c">1</text>
<text x="910.92" y="2885.28" font-size="25.79" font-family="Liberation Sans,sans-serif" fill="#1c1c1c" text-anchor="end">10</text>
<text x="913.85" y="2865.94" font-size="24.03" font-family="Liberation Sans,sans-serif" fill="#1c1c1c">2</text>
<text x="910.92" y="2745.25" font-size="25.79" font-family="Liberation Sans,sans-serif" fill="#1c1c1c" text-anchor="end">10</text>
<text x="913.85" y="2725.91" font-size="24.03" font-family="Liberation Sans,sans-serif" fill="#1c1c1c">3</text>
<text x="910.92" y="2645.08" font-size="25.79" font-family="Liberation Sans,sans-serif" fill="#1c1c1c" text-anchor="end">10</text>
<text x="913.85" y="2625.74" font-size="24.03" font-family="Liberation Sans,sans-serif" fill="#1c1c1c">4</text>
<text x="976.79" y="3212.33" font-size="25.79" font-family="Liberation Sans,sans-serif" fill="#1c1c1c" text-anchor="middle">10</text>
<text x="1000.23" y="3193.22" font-size="24.03" font-family="Liberation Sans,sans-serif" fill="#1c1c1c" text-anchor="middle">0</text>
<text x="1094.35" y="3212.33" font-size="25.79" font-family="Liberation Sans,sans-serif" fill="#1c1c1c" text-anchor="middle">10</text>
<text x="1117.8" y="3193.22" font-size="24.03" font-family="Liberation Sans,sans-serif" fill="#1c1c1c" text-anchor="middle">1</text>
<text x="1227.74" y="3212.33" font-size="25.79" font-family="Liberation Sans,sans-serif" fill="#1c1c1c" text-anchor="middle">10</text>
<text x="1251.18" y="3193.22" font-size="24.03" font-family="Liberation Sans,sans-serif" fill="#1c1c1c" text-anchor="middle">2</text>
<text x="1357.61" y="3212.33" font-size="25.79" font-family="Liberation Sans,sans-serif" fill="#1c1c1c" text-anchor="middle">10</text>
<text x="1381.05" y="3193.22" font-size="24.03" font-family="Liberation Sans,sans-serif" fill="#1c1c1c" text-anchor="middle">3</text>
<text x="1490.3" y="3212.33" font-size="25.79" font-family="Liberation Sans,sans-serif" fill="#1c1c1c" text-anchor="middle">10</text>
<text x="1513.74" y="3193.22" font-size="24.03" font-family="Liberation Sans,sans-serif" fill="#1c1c1c" text-anchor="middle">4</text>
<text x="964.25" y="2624.33" font-size="24.85" font-family="Liberation Sans,sans-serif" fill="#222">Q1</text>
<text x="964.25" y="2659.96" font-size="24.85" font-family="Liberation Sans,sans-serif" fill="#222">19.3%</text>
<text x="1427.7" y="2624.33" font-size="24.85" font-family="Liberation Sans,sans-serif" fill="#222">Q2</text>
<text x="1427.7" y="2659.96" font-size="24.85" font-family="Liberation Sans,sans-serif" fill="#222">45.4%</text>
<text x="1427.7" y="3111.29" font-size="24.85" font-family="Liberation Sans,sans-serif" fill="#222">Q3</text>
<text x="1427.7" y="3146.22" font-size="24.85" font-family="Liberation Sans,sans-serif" fill="#222">13.8%</text>
<text x="964.25" y="3111.29" font-size="24.85" font-family="Liberation Sans,sans-serif" fill="#222">Q4</text>
<text x="964.25" y="3146.22" font-size="24.85" font-family="Liberation Sans,sans-serif" fill="#222">21.5%</text>
<text x="1232.3" y="3284" font-size="26.14" font-family="Liberation Sans,sans-serif" fill="#1c1c1c" text-anchor="middle">FL1-H:: Annexin V-FITC</text>
<text x="831.2" y="2885.99" font-size="26.14" font-family="Liberation Sans,sans-serif" fill="#1c1c1c" text-anchor="middle" transform="rotate(-90 831.2 2877.2)">FL3-H:: PI</text>
<text x="1080" y="2571.3" font-size="52.5" font-family="Liberation Serif,serif" fill="#000" textLength="266.2" lengthAdjust="spacingAndGlyphs">DOC+ATO</text>
<clipPath id="c4252"><rect x="1659.4" y="2592.9" width="555.7" height="554.8"/></clipPath>
<g clip-path="url(#c4252)" stroke-width="2.21"><use href="#f5" stroke="#2424f4" transform="translate(1916.69 3035.63)rotate(-25)scale(-0.56 0.34)rotate(117.37)"/><use href="#f2" stroke="#2424f4" transform="translate(1916.69 3035.63)rotate(-25)scale(0.56 0.34)rotate(182.84)"/><use href="#f1" stroke="#2424f4" transform="translate(1916.69 3035.63)rotate(-25)scale(0.56 0.34)rotate(189.56)"/><use href="#g4" stroke="#2424f4" transform="translate(1920.58 3031.19)rotate(-25)scale(0.67 0.44)rotate(294.51)"/><use href="#g1" stroke="#2424f4" transform="translate(1920.58 3031.19)rotate(-25)scale(-0.67 0.44)rotate(139.65)"/><use href="#f1" stroke="#f0a020" transform="translate(1909.46 3042.29)rotate(-25)scale(-0.33 0.22)rotate(226.06)"/><use href="#f1" stroke="#e8e020" transform="translate(1909.46 3042.29)rotate(-25)scale(0.33 0.22)rotate(28.25)"/><use href="#f1" stroke="#f03018" transform="translate(1909.46 3042.29)rotate(-25)scale(0.33 0.22)rotate(174.49)"/><use href="#f4" stroke="#2424f4" transform="translate(2010.6 2810.94)rotate(-20)scale(-0.39 0.27)rotate(31.61)"/><use href="#f3" stroke="#2424f4" transform="translate(2010.6 2810.94)rotate(-20)scale(0.39 0.27)rotate(308.54)"/><use href="#g3" stroke="#2424f4" transform="translate(2010.6 2810.94)rotate(-20)scale(0.5 0.36)rotate(110.29)"/><use href="#g1" stroke="#2424f4" transform="translate(2010.6 2810.94)rotate(-20)scale(0.5 0.36)rotate(287.89)"/><use href="#f0" stroke="#f0a020" transform="translate(2015.05 2809.27)rotate(-20)scale(-0.22 0.17)rotate(6.95)"/><use href="#f0" stroke="#e8e020" transform="translate(2015.05 2809.27)rotate(-20)scale(0.22 0.17)rotate(92.56)"/><use href="#f1" stroke="#f03018" transform="translate(2015.05 2809.27)rotate(-20)scale(0.22 0.17)rotate(40.8)"/><use href="#f3" stroke="#2424f4" transform="translate(1764.98 3057.82)rotate(-25)scale(-0.28 0.19)rotate(345.41)"/><use href="#f2" stroke="#2424f4" transform="translate(1764.98 3057.82)rotate(-25)scale(0.28 0.19)rotate(154.92)"/><use href="#g3" stroke="#2424f4" transform="translate(1770.54 3047.84)scale(-0.5 0.39)rotate(123.09)"/><use href="#g0" stroke="#2424f4" transform="translate(1770.54 3047.84)scale(-0.5 0.39)rotate(153.4)"/><use href="#f0" stroke="#f0a020" transform="translate(1753.87 3070.03)scale(-0.17 0.11)rotate(64.4)"/><use href="#f0" stroke="#f03018" transform="translate(1753.87 3070.03)scale(0.17 0.11)rotate(261.27)"/><use href="#f4" stroke="#2424f4" transform="translate(1764.98 2847)rotate(-40)scale(0.61 0.39)rotate(288.58)"/><use href="#f0" stroke="#2424f4" transform="translate(1764.98 2847)rotate(-40)scale(-0.61 0.39)rotate(116.24)"/><use href="#f4" stroke="#2424f4" transform="translate(1898.35 2870.3)scale(0.67 0.61)rotate(15.29)"/><use href="#f3" stroke="#2424f4" transform="translate(1898.35 2870.3)scale(-0.67 0.61)rotate(107.86)"/><use href="#f3" stroke="#2424f4" transform="translate(2003.93 2942.42)scale(-0.67 0.22)rotate(290.34)"/><use href="#f2" stroke="#2424f4" transform="translate(2003.93 2942.42)scale(-0.67 0.22)rotate(305.94)"/><use href="#u1" stroke="#2424f4" transform="translate(1965.04 2731.6)scale(1.39 0.39)rotate(270)"/></g>
<rect x="1659.4" y="3082.79" width="94.47" height="64.91" fill="#fff" fill-opacity="0.8"/>
<path d="M1643.09 3147.7H1659.4M1659.4 3147.7V3164.36M1651.25 3105.95H1659.4M1701.22 3147.7V3156.44M1651.25 3081.52H1659.4M1725.68 3147.7V3156.44M1651.25 3064.19H1659.4M1743.04 3147.7V3156.44M1651.25 3050.75H1659.4M1756.5 3147.7V3156.44M1651.25 3039.77H1659.4M1767.5 3147.7V3156.44M1651.25 3030.48H1659.4M1776.81 3147.7V3156.44M1651.25 3022.44H1659.4M1784.86 3147.7V3156.44M1651.25 3015.35H1659.4M1791.97 3147.7V3156.44M1643.09 3009H1659.4M1798.33 3147.7V3164.36M1651.25 2967.25H1659.4M1840.15 3147.7V3156.44M1651.25 2942.82H1659.4M1864.61 3147.7V3156.44M1651.25 2925.49H1659.4M1881.97 3147.7V3156.44M1651.25 2912.05H1659.4M1895.43 3147.7V3156.44M1651.25 2901.07H1659.4M1906.43 3147.7V3156.44M1651.25 2891.78H1659.4M1915.73 3147.7V3156.44M1651.25 2883.74H1659.4M1923.79 3147.7V3156.44M1651.25 2876.65H1659.4M1930.89 3147.7V3156.44M1643.09 2870.3H1659.4M1937.25 3147.7V3164.36M1651.25 2828.55H1659.4M1979.07 3147.7V3156.44M1651.25 2804.12H1659.4M2003.53 3147.7V3156.44M1651.25 2786.79H1659.4M2020.89 3147.7V3156.44M1651.25 2773.35H1659.4M2034.35 3147.7V3156.44M1651.25 2762.37H1659.4M2045.35 3147.7V3156.44M1651.25 2753.08H1659.4M2054.66 3147.7V3156.44M1651.25 2745.04H1659.4M2062.71 3147.7V3156.44M1651.25 2737.95H1659.4M2069.82 3147.7V3156.44M1643.09 2731.6H1659.4M2076.18 3147.7V3164.36M1651.25 2689.85H1659.4M2118 3147.7V3156.44M1651.25 2665.42H1659.4M2142.46 3147.7V3156.44M1651.25 2648.09H1659.4M2159.82 3147.7V3156.44M1651.25 2634.65H1659.4M2173.28 3147.7V3156.44M1651.25 2623.67H1659.4M2184.28 3147.7V3156.44M1651.25 2614.38H1659.4M2193.58 3147.7V3156.44M1651.25 2606.34H1659.4M2201.64 3147.7V3156.44M1651.25 2599.25H1659.4M2208.74 3147.7V3156.44M1643.09 2592.9H1659.4M2215.1 3147.7V3164.36" stroke="#111" stroke-width="1.98" fill="none"/>
<path d="M1844.3 2592.9V3147.7M1659.4 2967.5H2215.1" stroke="#111" stroke-width="2.33" fill="none"/>
<rect x="1659.4" y="2592.9" width="555.7" height="554.8" fill="none" stroke="#111" stroke-width="3.03"/>
<text x="1616.88" y="3147.35" font-size="25.63" font-family="Liberation Sans,sans-serif" fill="#1c1c1c" text-anchor="end">10</text>
<text x="1619.79" y="3128.13" font-size="23.88" font-family="Liberation Sans,sans-serif" fill="#1c1c1c">0</text>
<text x="1616.88" y="3017.97" font-size="25.63" font-family="Liberation Sans,sans-serif" fill="#1c1c1c" text-anchor="end">10</text>
<text x="1619.79" y="2998.75" font-size="23.88" font-family="Liberation Sans,sans-serif" fill="#1c1c1c">1</text>
<text x="1616.88" y="2879.27" font-size="25.63" font-family="Liberation Sans,sans-serif" fill="#1c1c1c" text-anchor="end">10</text>
<text x="1619.79" y="2860.05" font-size="23.88" font-family="Liberation Sans,sans-serif" fill="#1c1c1c">2</text>
<text x="1616.88" y="2740.57" font-size="25.63" font-family="Liberation Sans,sans-serif" fill="#1c1c1c" text-anchor="end">10</text>
<text x="1619.79" y="2721.35" font-size="23.88" font-family="Liberation Sans,sans-serif" fill="#1c1c1c">3</text>
<text x="1616.88" y="2641.48" font-size="25.63" font-family="Liberation Sans,sans-serif" fill="#1c1c1c" text-anchor="end">10</text>
<text x="1619.79" y="2622.26" font-size="23.88" font-family="Liberation Sans,sans-serif" fill="#1c1c1c">4</text>
<text x="1682.35" y="3203.39" font-size="25.63" font-family="Liberation Sans,sans-serif" fill="#1c1c1c" text-anchor="middle">10</text>
<text x="1705.65" y="3184.4" font-size="23.88" font-family="Liberation Sans,sans-serif" fill="#1c1c1c" text-anchor="middle">0</text>
<text x="1799.2" y="3203.39" font-size="25.63" font-family="Liberation Sans,sans-serif" fill="#1c1c1c" text-anchor="middle">10</text>
<text x="1822.5" y="3184.4" font-size="23.88" font-family="Liberation Sans,sans-serif" fill="#1c1c1c" text-anchor="middle">1</text>
<text x="1931.77" y="3203.39" font-size="25.63" font-family="Liberation Sans,sans-serif" fill="#1c1c1c" text-anchor="middle">10</text>
<text x="1955.07" y="3184.4" font-size="23.88" font-family="Liberation Sans,sans-serif" fill="#1c1c1c" text-anchor="middle">2</text>
<text x="2060.86" y="3203.39" font-size="25.63" font-family="Liberation Sans,sans-serif" fill="#1c1c1c" text-anchor="middle">10</text>
<text x="2084.16" y="3184.4" font-size="23.88" font-family="Liberation Sans,sans-serif" fill="#1c1c1c" text-anchor="middle">3</text>
<text x="2192.73" y="3203.39" font-size="25.63" font-family="Liberation Sans,sans-serif" fill="#1c1c1c" text-anchor="middle">10</text>
<text x="2216.03" y="3184.4" font-size="23.88" font-family="Liberation Sans,sans-serif" fill="#1c1c1c" text-anchor="middle">4</text>
<text x="1669.88" y="2620.86" font-size="24.7" font-family="Liberation Sans,sans-serif" fill="#222">Q1</text>
<text x="1669.88" y="2656.28" font-size="24.7" font-family="Liberation Sans,sans-serif" fill="#222">11.2%</text>
<text x="2130.52" y="2620.86" font-size="24.7" font-family="Liberation Sans,sans-serif" fill="#222">Q2</text>
<text x="2130.52" y="2656.28" font-size="24.7" font-family="Liberation Sans,sans-serif" fill="#222">36.5%</text>
<text x="2130.52" y="3102.96" font-size="24.7" font-family="Liberation Sans,sans-serif" fill="#222">Q3</text>
<text x="2130.52" y="3137.68" font-size="24.7" font-family="Liberation Sans,sans-serif" fill="#222">34.6%</text>
<text x="1669.88" y="3102.96" font-size="24.7" font-family="Liberation Sans,sans-serif" fill="#222">Q4</text>
<text x="1669.88" y="3137.68" font-size="24.7" font-family="Liberation Sans,sans-serif" fill="#222">17.7%</text>
<text x="1936.1" y="3273" font-size="25.98" font-family="Liberation Sans,sans-serif" fill="#1c1c1c" text-anchor="middle">FL1-H:: Annexin V-FITC</text>
<text x="1538.8" y="2878.74" font-size="25.98" font-family="Liberation Sans,sans-serif" fill="#1c1c1c" text-anchor="middle" transform="rotate(-90 1538.8 2870)">FL3-H:: PI</text>
<text x="1803.4" y="2571.3" font-size="52.5" font-family="Liberation Serif,serif" fill="#000" textLength="263.4" lengthAdjust="spacingAndGlyphs">OXA+ATO</text>
<path d="M1509 2039h2M1509 2051h2" stroke="#555" stroke-width="2.5"/>
<text x="148.5" y="135.3" font-size="110" font-family="Liberation Serif,serif" fill="#000" textLength="152" lengthAdjust="spacingAndGlyphs">(A)</text>
<text x="146.5" y="1723.3" font-size="110" font-family="Liberation Serif,serif" fill="#000" textLength="141" lengthAdjust="spacingAndGlyphs">(B)</text>
<rect x="2420.5" y="569.07" width="24" height="411.43" fill="#000"/>
<path d="M2432.5 570.07V565.08M2426.5 565.08h12" stroke="#000" stroke-width="3.4" fill="none"/>
<rect x="2456.75" y="689.76" width="23" height="290.74" fill="url(#pA)" stroke="#000040" stroke-width="1"/>
<path d="M2468.25 690.26V686.27M2462.25 686.27h12" stroke="#000" stroke-width="3.4" fill="none"/>
<text x="2468.25" y="683.27" font-size="18.5" font-family="Liberation Sans,sans-serif" fill="#111" text-anchor="middle">***</text>
<rect x="2492.8" y="678.09" width="22.4" height="302.41" fill="url(#pD)" stroke="#8470e0" stroke-width="1.6"/>
<path d="M2504 678.29V673.3M2498 673.3h12" stroke="#1818c8" stroke-width="3.4" fill="none"/>
<text x="2504" y="663.6" font-size="18.5" font-family="Liberation Sans,sans-serif" fill="#111" text-anchor="middle">***</text>
<rect x="2528.35" y="586.63" width="22.8" height="393.87" fill="url(#pO)" stroke="#c86464" stroke-width="1.2"/>
<path d="M2539.75 587.03V584.03M2533.75 584.03h12" stroke="#000" stroke-width="3.4" fill="none"/>
<text x="2539.75" y="585.03" font-size="18.5" font-family="Liberation Sans,sans-serif" fill="#111" text-anchor="middle">*</text>
<rect x="2563.5" y="893.23" width="24" height="87.27" fill="#000"/>
<rect x="2568.2" y="897.93" width="14.6" height="82.57" fill="url(#pDA)"/>
<path d="M2575.5 894.23V890.73M2569.5 890.73h12" stroke="#000" stroke-width="3.4" fill="none"/>
<text x="2575.5" y="890.43" font-size="18.5" font-family="Liberation Sans,sans-serif" fill="#111" text-anchor="middle">****</text>
<rect x="2599.25" y="854.83" width="24" height="125.67" fill="#000"/>
<rect x="2603.95" y="859.53" width="14.6" height="120.97" fill="url(#pOA)"/>
<path d="M2611.25 855.83V852.83M2605.25 852.83h12" stroke="#000" stroke-width="3.4" fill="none"/>
<text x="2611.25" y="850.33" font-size="18.5" font-family="Liberation Sans,sans-serif" fill="#111" text-anchor="middle">****</text>
<rect x="2659.2" y="961.05" width="24" height="19.45" fill="#000"/>
<path d="M2671.2 962.05V956.56M2665.2 956.56h12" stroke="#000" stroke-width="3.4" fill="none"/>
<rect x="2695.45" y="854.33" width="23" height="126.17" fill="url(#pA)" stroke="#000040" stroke-width="1"/>
<path d="M2706.95 854.83V850.84M2700.95 850.84h12" stroke="#000" stroke-width="3.4" fill="none"/>
<text x="2706.95" y="850.54" font-size="18.5" font-family="Liberation Sans,sans-serif" fill="#111" text-anchor="middle">***</text>
<rect x="2731.5" y="909.49" width="22.4" height="71.01" fill="url(#pD)" stroke="#8470e0" stroke-width="1.6"/>
<path d="M2742.7 909.69V904.7M2736.7 904.7h12" stroke="#1818c8" stroke-width="3.4" fill="none"/>
<text x="2742.7" y="901.4" font-size="18.5" font-family="Liberation Sans,sans-serif" fill="#111" text-anchor="middle">***</text>
<rect x="2767.05" y="935.22" width="22.8" height="45.28" fill="url(#pO)" stroke="#c86464" stroke-width="1.2"/>
<path d="M2778.45 935.62V933.12M2772.45 933.12h12" stroke="#000" stroke-width="3.4" fill="none"/>
<text x="2778.45" y="923.82" font-size="18.5" font-family="Liberation Sans,sans-serif" fill="#111" text-anchor="middle">**</text>
<rect x="2802.2" y="807.95" width="24" height="172.55" fill="#000"/>
<rect x="2806.9" y="812.65" width="14.6" height="167.85" fill="url(#pDA)"/>
<path d="M2814.2 808.95V805.95M2808.2 805.95h12" stroke="#000" stroke-width="3.4" fill="none"/>
<text x="2814.2" y="796.65" font-size="18.5" font-family="Liberation Sans,sans-serif" fill="#111" text-anchor="middle">***</text>
<rect x="2837.95" y="819.92" width="24" height="160.58" fill="#000"/>
<rect x="2842.65" y="824.62" width="14.6" height="155.88" fill="url(#pOA)"/>
<path d="M2849.95 820.92V817.92M2843.95 817.92h12" stroke="#000" stroke-width="3.4" fill="none"/>
<text x="2849.95" y="810.92" font-size="18.5" font-family="Liberation Sans,sans-serif" fill="#111" text-anchor="middle">***</text>
<rect x="2898.5" y="936.12" width="24" height="44.38" fill="#000"/>
<path d="M2910.5 937.12V934.62M2904.5 934.62h12" stroke="#000" stroke-width="3.4" fill="none"/>
<rect x="2934.75" y="951.08" width="23" height="29.42" fill="url(#pA)" stroke="#000040" stroke-width="1"/>
<path d="M2946.25 951.58V949.58M2940.25 949.58h12" stroke="#000" stroke-width="3.4" fill="none"/>
<text x="2946.25" y="949.28" font-size="18.5" font-family="Liberation Sans,sans-serif" fill="#111" text-anchor="middle">***</text>
<rect x="2970.8" y="919.96" width="22.4" height="60.54" fill="url(#pD)" stroke="#8470e0" stroke-width="1.6"/>
<path d="M2982 920.16V916.67M2976 916.67h12" stroke="#1818c8" stroke-width="3.4" fill="none"/>
<text x="2982" y="909.97" font-size="18.5" font-family="Liberation Sans,sans-serif" fill="#111" text-anchor="middle">**</text>
<rect x="3006.35" y="925.74" width="22.8" height="54.76" fill="url(#pO)" stroke="#c86464" stroke-width="1.2"/>
<path d="M3017.75 926.14V923.65M3011.75 923.65h12" stroke="#000" stroke-width="3.4" fill="none"/>
<text x="3017.75" y="924.35" font-size="18.5" font-family="Liberation Sans,sans-serif" fill="#111" text-anchor="middle">**</text>
<rect x="3041.5" y="799.97" width="24" height="180.53" fill="#000"/>
<rect x="3046.2" y="804.67" width="14.6" height="175.83" fill="url(#pDA)"/>
<path d="M3053.5 800.97V797.48M3047.5 797.48h12" stroke="#000" stroke-width="3.4" fill="none"/>
<text x="3053.5" y="797.18" font-size="18.5" font-family="Liberation Sans,sans-serif" fill="#111" text-anchor="middle">****</text>
<rect x="3077.25" y="917.66" width="24" height="62.84" fill="#000"/>
<rect x="3081.95" y="922.36" width="14.6" height="58.14" fill="url(#pOA)"/>
<path d="M3089.25 918.66V915.17M3083.25 915.17h12" stroke="#000" stroke-width="3.4" fill="none"/>
<text x="3089.25" y="908.47" font-size="18.5" font-family="Liberation Sans,sans-serif" fill="#111" text-anchor="middle">**</text>
<rect x="3137.5" y="916.17" width="24" height="64.33" fill="#000"/>
<path d="M3149.5 917.17V912.18M3143.5 912.18h12" stroke="#000" stroke-width="3.4" fill="none"/>
<rect x="3173.75" y="823.91" width="23" height="156.59" fill="url(#pA)" stroke="#000040" stroke-width="1"/>
<path d="M3185.25 824.41V820.92M3179.25 820.92h12" stroke="#000" stroke-width="3.4" fill="none"/>
<text x="3185.25" y="815.62" font-size="18.5" font-family="Liberation Sans,sans-serif" fill="#111" text-anchor="middle">***</text>
<rect x="3209.8" y="848.15" width="22.4" height="132.35" fill="url(#pD)" stroke="#8470e0" stroke-width="1.6"/>
<path d="M3221 848.35V844.35M3215 844.35h12" stroke="#1818c8" stroke-width="3.4" fill="none"/>
<text x="3221" y="836.05" font-size="18.5" font-family="Liberation Sans,sans-serif" fill="#111" text-anchor="middle">***</text>
<rect x="3245.35" y="880.36" width="22.8" height="100.14" fill="url(#pO)" stroke="#c86464" stroke-width="1.2"/>
<path d="M3256.75 880.76V878.27M3250.75 878.27h12" stroke="#000" stroke-width="3.4" fill="none"/>
<text x="3256.75" y="869.97" font-size="18.5" font-family="Liberation Sans,sans-serif" fill="#111" text-anchor="middle">**</text>
<rect x="3280.5" y="626.42" width="24" height="354.08" fill="#000"/>
<rect x="3285.2" y="631.12" width="14.6" height="349.38" fill="url(#pDA)"/>
<path d="M3292.5 627.42V624.43M3286.5 624.43h12" stroke="#000" stroke-width="3.4" fill="none"/>
<text x="3292.5" y="625.63" font-size="18.5" font-family="Liberation Sans,sans-serif" fill="#111" text-anchor="middle">****</text>
<rect x="3316.25" y="757.08" width="24" height="223.42" fill="#000"/>
<rect x="3320.95" y="761.78" width="14.6" height="218.72" fill="url(#pOA)"/>
<path d="M3328.25 758.08V755.09M3322.25 755.09h12" stroke="#000" stroke-width="3.4" fill="none"/>
<text x="3328.25" y="756.79" font-size="18.5" font-family="Liberation Sans,sans-serif" fill="#111" text-anchor="middle">****</text>
<rect x="3376.5" y="958.06" width="24" height="22.44" fill="#000"/>
<path d="M3388.5 959.06V957.06M3382.5 957.06h12" stroke="#000" stroke-width="3.4" fill="none"/>
<rect x="3412.75" y="931.63" width="23" height="48.87" fill="url(#pA)" stroke="#000040" stroke-width="1"/>
<path d="M3424.25 932.13V929.63M3418.25 929.63h12" stroke="#000" stroke-width="3.4" fill="none"/>
<text x="3424.25" y="924.33" font-size="18.5" font-family="Liberation Sans,sans-serif" fill="#111" text-anchor="middle">**</text>
<rect x="3448.8" y="918.46" width="22.4" height="62.04" fill="url(#pD)" stroke="#8470e0" stroke-width="1.6"/>
<path d="M3460 918.66V915.17M3454 915.17h12" stroke="#1818c8" stroke-width="3.4" fill="none"/>
<text x="3460" y="909.37" font-size="18.5" font-family="Liberation Sans,sans-serif" fill="#111" text-anchor="middle">**</text>
<rect x="3484.35" y="977.61" width="22.8" height="2.89" fill="url(#pO)" stroke="#c86464" stroke-width="1.2"/>
<path d="M3495.75 978.01V976.01M3489.75 976.01h12" stroke="#000" stroke-width="3.4" fill="none"/>
<text x="3495.75" y="963.71" font-size="18.5" font-family="Liberation Sans,sans-serif" fill="#111" text-anchor="middle">****</text>
<rect x="3519.5" y="923.65" width="24" height="56.85" fill="#000"/>
<rect x="3524.2" y="928.35" width="14.6" height="52.15" fill="url(#pDA)"/>
<path d="M3531.5 924.65V920.66M3525.5 920.66h12" stroke="#000" stroke-width="3.4" fill="none"/>
<text x="3531.5" y="920.36" font-size="18.5" font-family="Liberation Sans,sans-serif" fill="#111" text-anchor="middle">**</text>
<rect x="3555.25" y="832.39" width="24" height="148.11" fill="#000"/>
<rect x="3559.95" y="837.09" width="14.6" height="143.41" fill="url(#pOA)"/>
<path d="M3567.25 833.39V830.39M3561.25 830.39h12" stroke="#000" stroke-width="3.4" fill="none"/>
<text x="3567.25" y="832.59" font-size="18.5" font-family="Liberation Sans,sans-serif" fill="#111" text-anchor="middle">****</text>
<path d="M2408.4 479.4V982.9M2391 980.5H3595M2391 880.76H2408.4M2391 781.02H2408.4M2391 681.28H2408.4M2391 581.54H2408.4M2391 481.8H2408.4M2522 980.5V998.9M2760.5 980.5V998.9M2999.6 980.5V998.9M3239 980.5V998.9M3477.6 980.5V998.9" stroke="#000" stroke-width="4.8" fill="none"/>
<text x="2388.5" y="989.1" font-size="26" font-family="Liberation Serif,serif" font-weight="bold" fill="#000" text-anchor="end">0</text>
<text x="2388.5" y="889.36" font-size="26" font-family="Liberation Serif,serif" font-weight="bold" fill="#000" text-anchor="end">20</text>
<text x="2388.5" y="789.62" font-size="26" font-family="Liberation Serif,serif" font-weight="bold" fill="#000" text-anchor="end">40</text>
<text x="2388.5" y="689.88" font-size="26" font-family="Liberation Serif,serif" font-weight="bold" fill="#000" text-anchor="end">60</text>
<text x="2388.5" y="590.14" font-size="26" font-family="Liberation Serif,serif" font-weight="bold" fill="#000" text-anchor="end">80</text>
<text x="2388.5" y="490.4" font-size="26" font-family="Liberation Serif,serif" font-weight="bold" fill="#000" text-anchor="end">100</text>
<text x="2329" y="731.7" font-size="31" font-family="Liberation Serif,serif" font-weight="bold" fill="#000" text-anchor="middle" textLength="400" lengthAdjust="spacingAndGlyphs" transform="rotate(-90 2329 731.7)">Percentage of cells population</text>
<text x="2902" y="436.1" font-size="34" font-family="Liberation Serif,serif" font-weight="bold" fill="#000" textLength="200" lengthAdjust="spacingAndGlyphs">AGS Cell line</text>
<text x="2532" y="1022.5" font-size="26.2" font-family="Liberation Serif,serif" font-weight="bold" fill="#000" text-anchor="end" transform="rotate(-45 2532 1022.5)">Normal</text>
<text x="2770.5" y="1022.5" font-size="26.2" font-family="Liberation Serif,serif" font-weight="bold" fill="#000" text-anchor="end" transform="rotate(-45 2770.5 1022.5)">early apoptotic</text>
<text x="3009.6" y="1022.5" font-size="26.2" font-family="Liberation Serif,serif" font-weight="bold" fill="#000" text-anchor="end" transform="rotate(-45 3009.6 1022.5)">late apoptotic</text>
<text x="3249" y="1022.5" font-size="26.2" font-family="Liberation Serif,serif" font-weight="bold" fill="#000" text-anchor="end" transform="rotate(-45 3249 1022.5)">Total apoptotic</text>
<text x="3487.6" y="1022.5" font-size="26.2" font-family="Liberation Serif,serif" font-weight="bold" fill="#000" text-anchor="end" transform="rotate(-45 3487.6 1022.5)">Necrotic</text>
<rect x="2430.8" y="2235.3" width="23.6" height="440.7" fill="#000"/>
<path d="M2442.6 2236.3V2233.82M2436.6 2233.82h12" stroke="#000" stroke-width="3.4" fill="none"/>
<rect x="2466.4" y="2551.15" width="22.6" height="124.85" fill="url(#pA)" stroke="#000040" stroke-width="1"/>
<path d="M2477.7 2551.65V2548.68M2471.7 2548.68h12" stroke="#000" stroke-width="3.4" fill="none"/>
<text x="2477.7" y="2547.38" font-size="18.5" font-family="Liberation Sans,sans-serif" fill="#111" text-anchor="middle">****</text>
<rect x="2501.8" y="2660.02" width="22" height="15.98" fill="url(#pD)" stroke="#8470e0" stroke-width="1.6"/>
<path d="M2512.8 2660.22V2657.74M2506.8 2657.74h12" stroke="#1818c8" stroke-width="3.4" fill="none"/>
<text x="2512.8" y="2660.44" font-size="18.5" font-family="Liberation Sans,sans-serif" fill="#111" text-anchor="middle">****</text>
<rect x="2536.7" y="2344.47" width="22.4" height="331.53" fill="url(#pO)" stroke="#c86464" stroke-width="1.2"/>
<path d="M2547.9 2344.87V2341.9M2541.9 2341.9h12" stroke="#000" stroke-width="3.4" fill="none"/>
<text x="2547.9" y="2335" font-size="18.5" font-family="Liberation Sans,sans-serif" fill="#111" text-anchor="middle">***</text>
<rect x="2571.2" y="2569.4" width="23.6" height="106.6" fill="#000"/>
<rect x="2575.9" y="2574.1" width="14.2" height="101.9" fill="url(#pD)"/>
<path d="M2583 2570.4V2567.43M2577 2567.43h12" stroke="#000" stroke-width="3.4" fill="none"/>
<text x="2583" y="2568.13" font-size="18.5" font-family="Liberation Sans,sans-serif" fill="#111" text-anchor="middle">****</text>
<rect x="2606.3" y="2591.12" width="23.6" height="84.88" fill="#1c10dc"/>
<rect x="2610.6" y="2596.12" width="15" height="79.88" fill="url(#pOB)"/>
<path d="M2618.1 2592.12V2588.65M2612.1 2588.65h12" stroke="#1c10dc" stroke-width="3.4" fill="none"/>
<text x="2618.1" y="2590.35" font-size="18.5" font-family="Liberation Sans,sans-serif" fill="#111" text-anchor="middle">****</text>
<rect x="2664.2" y="2664.65" width="23.6" height="11.35" fill="#000"/>
<path d="M2676 2665.65V2663.17M2670 2663.17h12" stroke="#000" stroke-width="3.4" fill="none"/>
<rect x="2699.8" y="2516.61" width="22.6" height="159.39" fill="url(#pA)" stroke="#000040" stroke-width="1"/>
<path d="M2711.1 2517.11V2513.64M2705.1 2513.64h12" stroke="#000" stroke-width="3.4" fill="none"/>
<text x="2711.1" y="2509.34" font-size="18.5" font-family="Liberation Sans,sans-serif" fill="#111" text-anchor="middle">****</text>
<rect x="2735.2" y="2643.74" width="22" height="32.26" fill="url(#pD)" stroke="#8470e0" stroke-width="1.6"/>
<path d="M2746.2 2643.94V2641.45M2740.2 2641.45h12" stroke="#1818c8" stroke-width="3.4" fill="none"/>
<text x="2746.2" y="2633.15" font-size="18.5" font-family="Liberation Sans,sans-serif" fill="#111" text-anchor="middle">**</text>
<rect x="2770.1" y="2546.32" width="22.4" height="129.68" fill="url(#pO)" stroke="#c86464" stroke-width="1.2"/>
<path d="M2781.3 2546.72V2543.74M2775.3 2543.74h12" stroke="#000" stroke-width="3.4" fill="none"/>
<text x="2781.3" y="2538.74" font-size="18.5" font-family="Liberation Sans,sans-serif" fill="#111" text-anchor="middle">****</text>
<rect x="2804.6" y="2608.88" width="23.6" height="67.12" fill="#000"/>
<rect x="2809.3" y="2613.58" width="14.2" height="62.42" fill="url(#pD)"/>
<path d="M2816.4 2609.88V2607.4M2810.4 2607.4h12" stroke="#000" stroke-width="3.4" fill="none"/>
<text x="2816.4" y="2608.1" font-size="18.5" font-family="Liberation Sans,sans-serif" fill="#111" text-anchor="middle">**</text>
<rect x="2839.7" y="2505.74" width="23.6" height="170.26" fill="#1c10dc"/>
<rect x="2844" y="2510.74" width="15" height="165.26" fill="url(#pOB)"/>
<path d="M2851.5 2506.74V2504.26M2845.5 2504.26h12" stroke="#1c10dc" stroke-width="3.4" fill="none"/>
<text x="2851.5" y="2499.26" font-size="18.5" font-family="Liberation Sans,sans-serif" fill="#111" text-anchor="middle">****</text>
<rect x="2898" y="2653.3" width="23.6" height="22.7" fill="#000"/>
<path d="M2909.8 2654.3V2652.31M2903.8 2652.31h12" stroke="#000" stroke-width="3.4" fill="none"/>
<rect x="2933.6" y="2614.32" width="22.6" height="61.68" fill="url(#pA)" stroke="#000040" stroke-width="1"/>
<path d="M2944.9 2614.82V2611.84M2938.9 2611.84h12" stroke="#000" stroke-width="3.4" fill="none"/>
<text x="2944.9" y="2607.24" font-size="18.5" font-family="Liberation Sans,sans-serif" fill="#111" text-anchor="middle">**</text>
<rect x="2969" y="2530.23" width="22" height="145.77" fill="url(#pD)" stroke="#8470e0" stroke-width="1.6"/>
<path d="M2980 2530.43V2523.01M2974 2523.01h12" stroke="#1818c8" stroke-width="3.4" fill="none"/>
<path d="M2974 2535.85h12" stroke="#1818c8" stroke-width="3" fill="none"/>
<text x="2980" y="2523.71" font-size="18.5" font-family="Liberation Sans,sans-serif" fill="#111" text-anchor="middle">****</text>
<rect x="3003.9" y="2651.43" width="22.4" height="24.57" fill="url(#pO)" stroke="#c86464" stroke-width="1.2"/>
<path d="M3015.1 2651.83V2649.35M3009.1 2649.35h12" stroke="#000" stroke-width="3.4" fill="none"/>
<text x="3015.1" y="2611.05" font-size="18.5" font-family="Liberation Sans,sans-serif" fill="#111" text-anchor="middle">*</text>
<rect x="3038.4" y="2452.94" width="23.6" height="223.06" fill="#000"/>
<rect x="3043.1" y="2457.64" width="14.2" height="218.36" fill="url(#pD)"/>
<path d="M3050.2 2453.94V2450.96M3044.2 2450.96h12" stroke="#000" stroke-width="3.4" fill="none"/>
<text x="3050.2" y="2451.66" font-size="18.5" font-family="Liberation Sans,sans-serif" fill="#111" text-anchor="middle">***</text>
<rect x="3073.5" y="2494.39" width="23.6" height="181.61" fill="#1c10dc"/>
<rect x="3077.8" y="2499.39" width="15" height="176.61" fill="url(#pOB)"/>
<path d="M3085.3 2495.39V2492.91M3079.3 2492.91h12" stroke="#1c10dc" stroke-width="3.4" fill="none"/>
<text x="3085.3" y="2484.61" font-size="18.5" font-family="Liberation Sans,sans-serif" fill="#111" text-anchor="middle">****</text>
<rect x="3131.7" y="2641.45" width="23.6" height="34.54" fill="#000"/>
<path d="M3143.5 2642.45V2639.97M3137.5 2639.97h12" stroke="#000" stroke-width="3.4" fill="none"/>
<rect x="3167.3" y="2454.43" width="22.6" height="221.57" fill="url(#pA)" stroke="#000040" stroke-width="1"/>
<path d="M3178.6 2454.93V2451.46M3172.6 2451.46h12" stroke="#000" stroke-width="3.4" fill="none"/>
<text x="3178.6" y="2443.16" font-size="18.5" font-family="Liberation Sans,sans-serif" fill="#111" text-anchor="middle">****</text>
<rect x="3202.7" y="2496.18" width="22" height="179.82" fill="url(#pD)" stroke="#8470e0" stroke-width="1.6"/>
<path d="M3213.7 2496.38V2489.46M3207.7 2489.46h12" stroke="#1818c8" stroke-width="3.4" fill="none"/>
<path d="M3207.7 2501.3h12" stroke="#1818c8" stroke-width="3" fill="none"/>
<text x="3213.7" y="2485.16" font-size="18.5" font-family="Liberation Sans,sans-serif" fill="#111" text-anchor="middle">****</text>
<rect x="3237.6" y="2520.65" width="22.4" height="155.35" fill="url(#pO)" stroke="#c86464" stroke-width="1.2"/>
<path d="M3248.8 2521.05V2518.57M3242.8 2518.57h12" stroke="#000" stroke-width="3.4" fill="none"/>
<text x="3248.8" y="2505.27" font-size="18.5" font-family="Liberation Sans,sans-serif" fill="#111" text-anchor="middle">***</text>
<rect x="3272.1" y="2385.33" width="23.6" height="290.67" fill="#000"/>
<rect x="3276.8" y="2390.03" width="14.2" height="285.97" fill="url(#pD)"/>
<path d="M3283.9 2386.33V2382.37M3277.9 2382.37h12" stroke="#000" stroke-width="3.4" fill="none"/>
<text x="3283.9" y="2381.07" font-size="18.5" font-family="Liberation Sans,sans-serif" fill="#111" text-anchor="middle">***</text>
<rect x="3307.2" y="2325.61" width="23.6" height="350.38" fill="#1c10dc"/>
<rect x="3311.5" y="2330.61" width="15" height="345.38" fill="url(#pOB)"/>
<path d="M3319 2326.61V2324.13M3313 2324.13h12" stroke="#1c10dc" stroke-width="3.4" fill="none"/>
<text x="3319" y="2317.83" font-size="18.5" font-family="Liberation Sans,sans-serif" fill="#111" text-anchor="middle">****</text>
<rect x="3366.1" y="2658.73" width="23.6" height="17.27" fill="#000"/>
<path d="M3377.9 2659.73V2657.74M3371.9 2657.74h12" stroke="#000" stroke-width="3.4" fill="none"/>
<rect x="3401.7" y="2530.92" width="22.6" height="145.08" fill="url(#pA)" stroke="#000040" stroke-width="1"/>
<path d="M3413 2531.42V2528.94M3407 2528.94h12" stroke="#000" stroke-width="3.4" fill="none"/>
<text x="3413" y="2524.64" font-size="18.5" font-family="Liberation Sans,sans-serif" fill="#111" text-anchor="middle">****</text>
<rect x="3437.1" y="2379.71" width="22" height="296.29" fill="url(#pD)" stroke="#8470e0" stroke-width="1.6"/>
<path d="M3448.1 2379.91V2372.99M3442.1 2372.99h12" stroke="#1818c8" stroke-width="3.4" fill="none"/>
<path d="M3442.1 2384.84h12" stroke="#1818c8" stroke-width="3" fill="none"/>
<text x="3448.1" y="2356.69" font-size="18.5" font-family="Liberation Sans,sans-serif" fill="#111" text-anchor="middle">**</text>
<rect x="3472" y="2669.69" width="22.4" height="6.31" fill="url(#pO)" stroke="#c86464" stroke-width="1.2"/>
<path d="M3483.2 2670.09V2667.61M3477.2 2667.61h12" stroke="#000" stroke-width="3.4" fill="none"/>
<text x="3483.2" y="2659.31" font-size="18.5" font-family="Liberation Sans,sans-serif" fill="#111" text-anchor="middle">*</text>
<rect x="3506.5" y="2581.74" width="23.6" height="94.26" fill="#000"/>
<rect x="3511.2" y="2586.44" width="14.2" height="89.56" fill="url(#pD)"/>
<path d="M3518.3 2582.74V2579.77M3512.3 2579.77h12" stroke="#000" stroke-width="3.4" fill="none"/>
<text x="3518.3" y="2577.47" font-size="18.5" font-family="Liberation Sans,sans-serif" fill="#111" text-anchor="middle">****</text>
<rect x="3541.6" y="2618.26" width="23.6" height="57.74" fill="#1c10dc"/>
<rect x="3545.9" y="2623.26" width="15" height="52.74" fill="url(#pOB)"/>
<path d="M3553.4 2619.26V2615.3M3547.4 2615.3h12" stroke="#1c10dc" stroke-width="3.4" fill="none"/>
<text x="3553.4" y="2608.3" font-size="18.5" font-family="Liberation Sans,sans-serif" fill="#111" text-anchor="middle">**</text>
<path d="M2419 2180.1V2678.4M2401.6 2676H3579M2401.6 2577.3H2419M2401.6 2478.6H2419M2401.6 2379.9H2419M2401.6 2281.2H2419M2401.6 2182.5H2419M2529.3 2676V2694.4M2763.1 2676V2694.4M2996.5 2676V2694.4M3230.3 2676V2694.4M3464.4 2676V2694.4" stroke="#000" stroke-width="4.8" fill="none"/>
<text x="2397.5" y="2684.6" font-size="26" font-family="Liberation Serif,serif" font-weight="bold" fill="#000" text-anchor="end">0</text>
<text x="2397.5" y="2585.9" font-size="26" font-family="Liberation Serif,serif" font-weight="bold" fill="#000" text-anchor="end">20</text>
<text x="2397.5" y="2487.2" font-size="26" font-family="Liberation Serif,serif" font-weight="bold" fill="#000" text-anchor="end">40</text>
<text x="2397.5" y="2388.5" font-size="26" font-family="Liberation Serif,serif" font-weight="bold" fill="#000" text-anchor="end">60</text>
<text x="2397.5" y="2289.8" font-size="26" font-family="Liberation Serif,serif" font-weight="bold" fill="#000" text-anchor="end">80</text>
<text x="2397.5" y="2191.1" font-size="26" font-family="Liberation Serif,serif" font-weight="bold" fill="#000" text-anchor="end">100</text>
<text x="2339" y="2430.7" font-size="31" font-family="Liberation Serif,serif" font-weight="bold" fill="#000" text-anchor="middle" textLength="393" lengthAdjust="spacingAndGlyphs" transform="rotate(-90 2339 2430.7)">Percentage of cells population</text>
<text x="2871.5" y="2141" font-size="33.5" font-family="Liberation Serif,serif" font-weight="bold" fill="#000" textLength="254" lengthAdjust="spacingAndGlyphs">MKN-45 Cell line</text>
<text x="2529.3" y="2719.8" font-size="26.7" font-family="Liberation Serif,serif" font-weight="bold" fill="#000" text-anchor="middle">Normal</text>
<text x="2763.1" y="2719.8" font-size="26.7" font-family="Liberation Serif,serif" font-weight="bold" fill="#000" text-anchor="middle">early apoptotic</text>
<text x="2996.5" y="2719.8" font-size="26.7" font-family="Liberation Serif,serif" font-weight="bold" fill="#000" text-anchor="middle">late apoptotic</text>
<text x="3230.3" y="2719.8" font-size="26.7" font-family="Liberation Serif,serif" font-weight="bold" fill="#000" text-anchor="middle">Total apoptotic</text>
<text x="3464.4" y="2719.8" font-size="26.7" font-family="Liberation Serif,serif" font-weight="bold" fill="#000" text-anchor="middle">Necrotic</text>
<rect x="3577.2" y="416.7" width="38.7" height="17.9" fill="#000"/>
<text x="3637" y="435.4" font-size="30" font-family="Liberation Serif,serif" fill="#000" textLength="95" lengthAdjust="spacingAndGlyphs">Control</text>
<rect x="3581.5" y="460.5" width="38.7" height="17.9" fill="url(#pA)"/>
<text x="3641.3" y="479.2" font-size="30" font-family="Liberation Serif,serif" fill="#000" textLength="53" lengthAdjust="spacingAndGlyphs">ATO</text>
<rect x="3579.5" y="509.2" width="37.1" height="16.3" fill="url(#pD)" stroke="#8470e0" stroke-width="1.6"/>
<text x="3638.5" y="528" font-size="30" font-family="Liberation Serif,serif" fill="#000" textLength="62" lengthAdjust="spacingAndGlyphs">DOC</text>
<rect x="3577.8" y="548.7" width="37.5" height="16.7" fill="url(#pO)" stroke="#c86464" stroke-width="1.2"/>
<text x="3637" y="566.8" font-size="30" font-family="Liberation Serif,serif" fill="#000" textLength="62" lengthAdjust="spacingAndGlyphs">OXA</text>
<rect x="3581.5" y="599.9" width="38.7" height="17.9" fill="#000"/>
<rect x="3586.2" y="604.6" width="29.3" height="8.5" fill="url(#pDA)"/>
<text x="3641.3" y="618.7" font-size="30" font-family="Liberation Serif,serif" fill="#000" textLength="134" lengthAdjust="spacingAndGlyphs">DOC+ATO</text>
<rect x="3581.5" y="648.5" width="38.7" height="17.9" fill="#000"/>
<rect x="3586.2" y="653.2" width="29.3" height="8.5" fill="url(#pOA)"/>
<text x="3641.3" y="667" font-size="30" font-family="Liberation Serif,serif" fill="#000" textLength="134" lengthAdjust="spacingAndGlyphs">OXA+ATO</text>
<rect x="3595.6" y="2338.3" width="38.4" height="17.7" fill="#000"/>
<text x="3654.5" y="2357.1" font-size="30" font-family="Liberation Serif,serif" fill="#000" textLength="94" lengthAdjust="spacingAndGlyphs">Control</text>
<rect x="3595.6" y="2386.4" width="38.4" height="17.7" fill="url(#pA)"/>
<text x="3654.5" y="2404.8" font-size="30" font-family="Liberation Serif,serif" fill="#000" textLength="53" lengthAdjust="spacingAndGlyphs">ATO</text>
<rect x="3596.4" y="2434.4" width="36.8" height="16.1" fill="url(#pD)" stroke="#8470e0" stroke-width="1.6"/>
<text x="3654.5" y="2452" font-size="30" font-family="Liberation Serif,serif" fill="#000" textLength="62" lengthAdjust="spacingAndGlyphs">DOC</text>
<rect x="3596.2" y="2481.8" width="37.2" height="16.5" fill="url(#pO)" stroke="#c86464" stroke-width="1.2"/>
<text x="3654.5" y="2500" font-size="30" font-family="Liberation Serif,serif" fill="#000" textLength="62" lengthAdjust="spacingAndGlyphs">OXA</text>
<rect x="3595.6" y="2528.5" width="38.4" height="17.7" fill="#000"/>
<rect x="3600.3" y="2533.2" width="29" height="8.3" fill="url(#pD)"/>
<text x="3654.5" y="2547.7" font-size="30" font-family="Liberation Serif,serif" fill="#000" textLength="132.5" lengthAdjust="spacingAndGlyphs">DOC+ATO</text>
<rect x="3595.6" y="2576.1" width="38.4" height="17.7" fill="#1c10dc"/>
<path d="M3600.6 2579.95l6 5l-6 5zM3619.6 2579.95l5 5l-5 5l-5-5z" fill="#ff2878"/>
<text x="3654.5" y="2595.3" font-size="30" font-family="Liberation Serif,serif" fill="#000" textLength="132.5" lengthAdjust="spacingAndGlyphs">OXA+ATO</text>
</svg></body></html>
